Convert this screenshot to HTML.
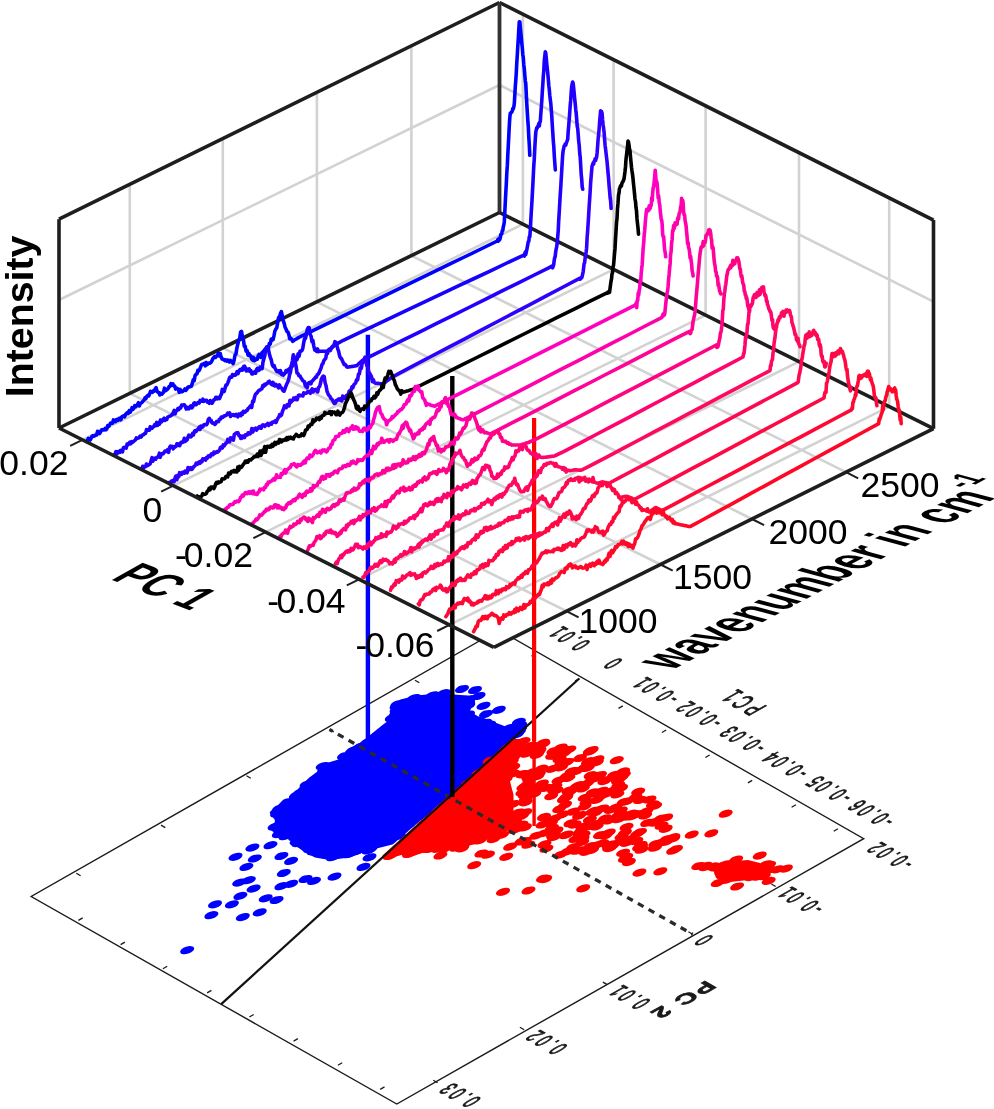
<!DOCTYPE html>
<html><head><meta charset="utf-8"><style>html,body{margin:0;padding:0;background:#fff;overflow:hidden}svg{display:block;will-change:transform}</style></head>
<body><svg width="994" height="1109" viewBox="0 0 994 1109" font-family="Liberation Sans, sans-serif">
<rect width="994" height="1109" fill="#fff"/>
<g>
<polygon points="498.7,630.0 863.7,838.7 396.8,1104.0 31.2,896.5" fill="#fff" stroke="#1a1a1a" stroke-width="1.4"/>
<line x1="535.8" y1="653.6" x2="531.5" y2="656.1" stroke="#1a1a1a" stroke-width="1.3" />
<line x1="579.3" y1="678.5" x2="575.0" y2="681.0" stroke="#1a1a1a" stroke-width="1.3" />
<line x1="622.8" y1="705.9" x2="618.5" y2="708.4" stroke="#1a1a1a" stroke-width="1.3" />
<line x1="666.2" y1="730.0" x2="661.9" y2="732.5" stroke="#1a1a1a" stroke-width="1.3" />
<line x1="709.7" y1="755.0" x2="705.4" y2="757.5" stroke="#1a1a1a" stroke-width="1.3" />
<line x1="752.2" y1="780.4" x2="747.9" y2="782.9" stroke="#1a1a1a" stroke-width="1.3" />
<line x1="795.9" y1="804.7" x2="791.6" y2="807.2" stroke="#1a1a1a" stroke-width="1.3" />
<line x1="838.0" y1="828.7" x2="833.7" y2="831.2" stroke="#1a1a1a" stroke-width="1.3" />
<line x1="78.4" y1="920.4" x2="82.7" y2="917.9" stroke="#1a1a1a" stroke-width="1.3" />
<line x1="120.6" y1="944.6" x2="124.9" y2="942.1" stroke="#1a1a1a" stroke-width="1.3" />
<line x1="162.9" y1="968.7" x2="167.2" y2="966.2" stroke="#1a1a1a" stroke-width="1.3" />
<line x1="207.1" y1="992.9" x2="211.4" y2="990.4" stroke="#1a1a1a" stroke-width="1.3" />
<line x1="249.4" y1="1017.0" x2="253.7" y2="1014.5" stroke="#1a1a1a" stroke-width="1.3" />
<line x1="293.6" y1="1041.1" x2="297.9" y2="1038.6" stroke="#1a1a1a" stroke-width="1.3" />
<line x1="337.9" y1="1065.3" x2="342.2" y2="1062.8" stroke="#1a1a1a" stroke-width="1.3" />
<line x1="380.2" y1="1089.4" x2="384.5" y2="1086.9" stroke="#1a1a1a" stroke-width="1.3" />
<line x1="76.3" y1="873.3" x2="80.6" y2="875.8" stroke="#1a1a1a" stroke-width="1.3" />
<line x1="161.0" y1="825.1" x2="165.3" y2="827.6" stroke="#1a1a1a" stroke-width="1.3" />
<line x1="246.5" y1="775.8" x2="250.8" y2="778.3" stroke="#1a1a1a" stroke-width="1.3" />
<line x1="329.5" y1="729.5" x2="333.8" y2="732.0" stroke="#1a1a1a" stroke-width="1.3" />
<line x1="415.0" y1="680.2" x2="419.3" y2="682.7" stroke="#1a1a1a" stroke-width="1.3" />
<line x1="775.7" y1="886.5" x2="771.4" y2="884.0" stroke="#1a1a1a" stroke-width="1.3" />
<line x1="692.7" y1="934.3" x2="688.4" y2="931.8" stroke="#1a1a1a" stroke-width="1.3" />
<line x1="607.2" y1="984.6" x2="602.9" y2="982.1" stroke="#1a1a1a" stroke-width="1.3" />
<line x1="524.2" y1="1029.8" x2="519.9" y2="1027.3" stroke="#1a1a1a" stroke-width="1.3" />
<line x1="437.6" y1="1082.7" x2="433.3" y2="1080.2" stroke="#1a1a1a" stroke-width="1.3" />
<polygon points="400.8,701.0 417.0,697.0 437.0,695.0 453.2,696.0 468.0,697.0 472.0,702.0 468.0,712.0 478.0,718.0 492.0,723.0 505.0,728.0 521.0,732.0 525.5,728.0 392.0,843.0 368.3,849.0 349.0,856.0 329.7,858.5 315.2,856.0 305.5,851.0 296.0,844.0 293.5,834.0 281.4,838.0 272.7,829.5 277.6,821.0 271.3,812.6 286.2,804.7 296.2,794.7 300.2,788.7 310.3,778.6 318.3,772.6 320.4,766.5 340.5,760.5 354.6,758.5 362.0,755.5 352.6,753.4 350.0,749.4 360.6,744.4 370.7,736.3 384.7,725.3 388.8,722.3 398.8,712.2 398.8,706.2" fill="#0000ff" stroke="#0000ff" stroke-width="3" stroke-linejoin="round"/>
<ellipse cx="469.5" cy="699.2" rx="7.3" ry="3.6" transform="rotate(-18 469.5 699.2)" fill="#0000ff"/>
<ellipse cx="438.8" cy="797.4" rx="7.3" ry="3.6" transform="rotate(-18 438.8 797.4)" fill="#0000ff"/>
<ellipse cx="507.2" cy="741.6" rx="7.3" ry="3.6" transform="rotate(-18 507.2 741.6)" fill="#0000ff"/>
<ellipse cx="277.1" cy="813.5" rx="7.3" ry="3.6" transform="rotate(-18 277.1 813.5)" fill="#0000ff"/>
<ellipse cx="306.6" cy="784.3" rx="7.3" ry="3.6" transform="rotate(-18 306.6 784.3)" fill="#0000ff"/>
<ellipse cx="453.2" cy="787.1" rx="7.3" ry="3.6" transform="rotate(-18 453.2 787.1)" fill="#0000ff"/>
<ellipse cx="387.1" cy="840.9" rx="7.3" ry="3.6" transform="rotate(-18 387.1 840.9)" fill="#0000ff"/>
<ellipse cx="479.3" cy="764.3" rx="7.3" ry="3.6" transform="rotate(-18 479.3 764.3)" fill="#0000ff"/>
<ellipse cx="490.6" cy="751.5" rx="7.3" ry="3.6" transform="rotate(-18 490.6 751.5)" fill="#0000ff"/>
<ellipse cx="382.3" cy="732.8" rx="7.3" ry="3.6" transform="rotate(-18 382.3 732.8)" fill="#0000ff"/>
<ellipse cx="312.5" cy="781.4" rx="7.3" ry="3.6" transform="rotate(-18 312.5 781.4)" fill="#0000ff"/>
<ellipse cx="300.0" cy="792.4" rx="7.3" ry="3.6" transform="rotate(-18 300.0 792.4)" fill="#0000ff"/>
<ellipse cx="291.0" cy="803.8" rx="7.3" ry="3.6" transform="rotate(-18 291.0 803.8)" fill="#0000ff"/>
<ellipse cx="367.9" cy="743.3" rx="7.3" ry="3.6" transform="rotate(-18 367.9 743.3)" fill="#0000ff"/>
<ellipse cx="399.5" cy="719.0" rx="7.3" ry="3.6" transform="rotate(-18 399.5 719.0)" fill="#0000ff"/>
<ellipse cx="419.8" cy="699.2" rx="7.3" ry="3.6" transform="rotate(-18 419.8 699.2)" fill="#0000ff"/>
<ellipse cx="391.2" cy="839.1" rx="7.3" ry="3.6" transform="rotate(-18 391.2 839.1)" fill="#0000ff"/>
<ellipse cx="497.4" cy="751.8" rx="7.3" ry="3.6" transform="rotate(-18 497.4 751.8)" fill="#0000ff"/>
<ellipse cx="465.5" cy="701.7" rx="7.3" ry="3.6" transform="rotate(-18 465.5 701.7)" fill="#0000ff"/>
<ellipse cx="398.8" cy="836.2" rx="7.3" ry="3.6" transform="rotate(-18 398.8 836.2)" fill="#0000ff"/>
<ellipse cx="280.3" cy="823.3" rx="7.3" ry="3.6" transform="rotate(-18 280.3 823.3)" fill="#0000ff"/>
<ellipse cx="295.1" cy="837.0" rx="7.3" ry="3.6" transform="rotate(-18 295.1 837.0)" fill="#0000ff"/>
<ellipse cx="458.9" cy="701.6" rx="7.3" ry="3.6" transform="rotate(-18 458.9 701.6)" fill="#0000ff"/>
<ellipse cx="368.6" cy="850.4" rx="7.3" ry="3.6" transform="rotate(-18 368.6 850.4)" fill="#0000ff"/>
<ellipse cx="367.5" cy="841.6" rx="7.3" ry="3.6" transform="rotate(-18 367.5 841.6)" fill="#0000ff"/>
<ellipse cx="400.1" cy="708.8" rx="7.3" ry="3.6" transform="rotate(-18 400.1 708.8)" fill="#0000ff"/>
<ellipse cx="378.7" cy="736.4" rx="7.3" ry="3.6" transform="rotate(-18 378.7 736.4)" fill="#0000ff"/>
<ellipse cx="427.3" cy="800.4" rx="7.3" ry="3.6" transform="rotate(-18 427.3 800.4)" fill="#0000ff"/>
<ellipse cx="468.2" cy="702.9" rx="7.3" ry="3.6" transform="rotate(-18 468.2 702.9)" fill="#0000ff"/>
<ellipse cx="397.9" cy="711.6" rx="7.3" ry="3.6" transform="rotate(-18 397.9 711.6)" fill="#0000ff"/>
<ellipse cx="391.8" cy="717.9" rx="7.3" ry="3.6" transform="rotate(-18 391.8 717.9)" fill="#0000ff"/>
<ellipse cx="284.9" cy="804.6" rx="7.3" ry="3.6" transform="rotate(-18 284.9 804.6)" fill="#0000ff"/>
<ellipse cx="381.3" cy="842.1" rx="7.3" ry="3.6" transform="rotate(-18 381.3 842.1)" fill="#0000ff"/>
<ellipse cx="280.6" cy="833.1" rx="7.3" ry="3.6" transform="rotate(-18 280.6 833.1)" fill="#0000ff"/>
<ellipse cx="489.1" cy="724.7" rx="7.3" ry="3.6" transform="rotate(-18 489.1 724.7)" fill="#0000ff"/>
<ellipse cx="274.6" cy="826.6" rx="7.3" ry="3.6" transform="rotate(-18 274.6 826.6)" fill="#0000ff"/>
<ellipse cx="348.7" cy="760.5" rx="7.3" ry="3.6" transform="rotate(-18 348.7 760.5)" fill="#0000ff"/>
<ellipse cx="390.3" cy="840.4" rx="7.3" ry="3.6" transform="rotate(-18 390.3 840.4)" fill="#0000ff"/>
<ellipse cx="480.3" cy="765.4" rx="7.3" ry="3.6" transform="rotate(-18 480.3 765.4)" fill="#0000ff"/>
<ellipse cx="300.6" cy="838.6" rx="7.3" ry="3.6" transform="rotate(-18 300.6 838.6)" fill="#0000ff"/>
<ellipse cx="295.9" cy="795.5" rx="7.3" ry="3.6" transform="rotate(-18 295.9 795.5)" fill="#0000ff"/>
<ellipse cx="448.8" cy="791.3" rx="7.3" ry="3.6" transform="rotate(-18 448.8 791.3)" fill="#0000ff"/>
<ellipse cx="398.2" cy="714.7" rx="7.3" ry="3.6" transform="rotate(-18 398.2 714.7)" fill="#0000ff"/>
<ellipse cx="466.3" cy="778.2" rx="7.3" ry="3.6" transform="rotate(-18 466.3 778.2)" fill="#0000ff"/>
<ellipse cx="467.6" cy="704.2" rx="7.3" ry="3.6" transform="rotate(-18 467.6 704.2)" fill="#0000ff"/>
<ellipse cx="520.2" cy="725.6" rx="7.3" ry="3.6" transform="rotate(-18 520.2 725.6)" fill="#0000ff"/>
<ellipse cx="327.4" cy="854.2" rx="7.3" ry="3.6" transform="rotate(-18 327.4 854.2)" fill="#0000ff"/>
<ellipse cx="413.8" cy="702.2" rx="7.3" ry="3.6" transform="rotate(-18 413.8 702.2)" fill="#0000ff"/>
<ellipse cx="395.9" cy="713.8" rx="7.3" ry="3.6" transform="rotate(-18 395.9 713.8)" fill="#0000ff"/>
<ellipse cx="456.9" cy="786.3" rx="7.3" ry="3.6" transform="rotate(-18 456.9 786.3)" fill="#0000ff"/>
<ellipse cx="343.0" cy="762.7" rx="7.3" ry="3.6" transform="rotate(-18 343.0 762.7)" fill="#0000ff"/>
<ellipse cx="448.4" cy="701.0" rx="7.3" ry="3.6" transform="rotate(-18 448.4 701.0)" fill="#0000ff"/>
<ellipse cx="356.5" cy="851.4" rx="7.3" ry="3.6" transform="rotate(-18 356.5 851.4)" fill="#0000ff"/>
<ellipse cx="357.7" cy="761.3" rx="7.3" ry="3.6" transform="rotate(-18 357.7 761.3)" fill="#0000ff"/>
<ellipse cx="320.8" cy="775.6" rx="7.3" ry="3.6" transform="rotate(-18 320.8 775.6)" fill="#0000ff"/>
<ellipse cx="296.6" cy="841.3" rx="7.3" ry="3.6" transform="rotate(-18 296.6 841.3)" fill="#0000ff"/>
<ellipse cx="483.0" cy="759.6" rx="7.3" ry="3.6" transform="rotate(-18 483.0 759.6)" fill="#0000ff"/>
<ellipse cx="358.6" cy="764.6" rx="7.3" ry="3.6" transform="rotate(-18 358.6 764.6)" fill="#0000ff"/>
<ellipse cx="400.9" cy="831.4" rx="7.3" ry="3.6" transform="rotate(-18 400.9 831.4)" fill="#0000ff"/>
<ellipse cx="443.9" cy="693.2" rx="7.3" ry="3.6" transform="rotate(-18 443.9 693.2)" fill="#0000ff"/>
<ellipse cx="453.5" cy="699.3" rx="7.3" ry="3.6" transform="rotate(-18 453.5 699.3)" fill="#0000ff"/>
<ellipse cx="468.3" cy="705.6" rx="7.3" ry="3.6" transform="rotate(-18 468.3 705.6)" fill="#0000ff"/>
<ellipse cx="480.8" cy="722.4" rx="7.3" ry="3.6" transform="rotate(-18 480.8 722.4)" fill="#0000ff"/>
<ellipse cx="301.8" cy="841.8" rx="7.3" ry="3.6" transform="rotate(-18 301.8 841.8)" fill="#0000ff"/>
<ellipse cx="366.0" cy="748.5" rx="7.3" ry="3.6" transform="rotate(-18 366.0 748.5)" fill="#0000ff"/>
<ellipse cx="279.2" cy="808.3" rx="7.3" ry="3.6" transform="rotate(-18 279.2 808.3)" fill="#0000ff"/>
<ellipse cx="356.4" cy="760.6" rx="7.3" ry="3.6" transform="rotate(-18 356.4 760.6)" fill="#0000ff"/>
<ellipse cx="333.0" cy="857.2" rx="7.3" ry="3.6" transform="rotate(-18 333.0 857.2)" fill="#0000ff"/>
<ellipse cx="408.2" cy="825.4" rx="7.3" ry="3.6" transform="rotate(-18 408.2 825.4)" fill="#0000ff"/>
<ellipse cx="281.7" cy="819.7" rx="7.3" ry="3.6" transform="rotate(-18 281.7 819.7)" fill="#0000ff"/>
<ellipse cx="478.0" cy="721.9" rx="7.3" ry="3.6" transform="rotate(-18 478.0 721.9)" fill="#0000ff"/>
<ellipse cx="314.0" cy="783.8" rx="7.3" ry="3.6" transform="rotate(-18 314.0 783.8)" fill="#0000ff"/>
<ellipse cx="452.9" cy="786.0" rx="7.3" ry="3.6" transform="rotate(-18 452.9 786.0)" fill="#0000ff"/>
<ellipse cx="471.2" cy="722.7" rx="7.3" ry="3.6" transform="rotate(-18 471.2 722.7)" fill="#0000ff"/>
<ellipse cx="310.2" cy="848.9" rx="7.3" ry="3.6" transform="rotate(-18 310.2 848.9)" fill="#0000ff"/>
<ellipse cx="467.3" cy="772.5" rx="7.3" ry="3.6" transform="rotate(-18 467.3 772.5)" fill="#0000ff"/>
<ellipse cx="417.5" cy="817.6" rx="7.3" ry="3.6" transform="rotate(-18 417.5 817.6)" fill="#0000ff"/>
<ellipse cx="436.8" cy="799.0" rx="7.3" ry="3.6" transform="rotate(-18 436.8 799.0)" fill="#0000ff"/>
<ellipse cx="429.1" cy="699.5" rx="7.3" ry="3.6" transform="rotate(-18 429.1 699.5)" fill="#0000ff"/>
<ellipse cx="298.2" cy="843.1" rx="7.3" ry="3.6" transform="rotate(-18 298.2 843.1)" fill="#0000ff"/>
<ellipse cx="278.8" cy="834.1" rx="7.3" ry="3.6" transform="rotate(-18 278.8 834.1)" fill="#0000ff"/>
<ellipse cx="424.1" cy="810.2" rx="7.3" ry="3.6" transform="rotate(-18 424.1 810.2)" fill="#0000ff"/>
<ellipse cx="421.5" cy="699.8" rx="7.3" ry="3.6" transform="rotate(-18 421.5 699.8)" fill="#0000ff"/>
<ellipse cx="285.5" cy="836.2" rx="7.3" ry="3.6" transform="rotate(-18 285.5 836.2)" fill="#0000ff"/>
<ellipse cx="447.9" cy="789.3" rx="7.3" ry="3.6" transform="rotate(-18 447.9 789.3)" fill="#0000ff"/>
<ellipse cx="468.0" cy="714.5" rx="7.3" ry="3.6" transform="rotate(-18 468.0 714.5)" fill="#0000ff"/>
<ellipse cx="429.1" cy="698.8" rx="7.3" ry="3.6" transform="rotate(-18 429.1 698.8)" fill="#0000ff"/>
<ellipse cx="350.5" cy="762.2" rx="7.3" ry="3.6" transform="rotate(-18 350.5 762.2)" fill="#0000ff"/>
<ellipse cx="352.2" cy="753.0" rx="7.3" ry="3.6" transform="rotate(-18 352.2 753.0)" fill="#0000ff"/>
<ellipse cx="283.2" cy="807.2" rx="7.3" ry="3.6" transform="rotate(-18 283.2 807.2)" fill="#0000ff"/>
<ellipse cx="370.5" cy="849.1" rx="7.3" ry="3.6" transform="rotate(-18 370.5 849.1)" fill="#0000ff"/>
<ellipse cx="452.5" cy="789.2" rx="7.3" ry="3.6" transform="rotate(-18 452.5 789.2)" fill="#0000ff"/>
<ellipse cx="383.4" cy="733.6" rx="7.3" ry="3.6" transform="rotate(-18 383.4 733.6)" fill="#0000ff"/>
<ellipse cx="413.9" cy="698.1" rx="7.3" ry="3.6" transform="rotate(-18 413.9 698.1)" fill="#0000ff"/>
<ellipse cx="322.0" cy="776.8" rx="7.3" ry="3.6" transform="rotate(-18 322.0 776.8)" fill="#0000ff"/>
<ellipse cx="518.9" cy="732.0" rx="7.3" ry="3.6" transform="rotate(-18 518.9 732.0)" fill="#0000ff"/>
<ellipse cx="374.6" cy="842.3" rx="7.3" ry="3.6" transform="rotate(-18 374.6 842.3)" fill="#0000ff"/>
<ellipse cx="350.6" cy="761.5" rx="7.3" ry="3.6" transform="rotate(-18 350.6 761.5)" fill="#0000ff"/>
<ellipse cx="373.6" cy="844.9" rx="7.3" ry="3.6" transform="rotate(-18 373.6 844.9)" fill="#0000ff"/>
<ellipse cx="313.6" cy="851.3" rx="7.3" ry="3.6" transform="rotate(-18 313.6 851.3)" fill="#0000ff"/>
<ellipse cx="407.6" cy="824.6" rx="7.3" ry="3.6" transform="rotate(-18 407.6 824.6)" fill="#0000ff"/>
<ellipse cx="471.1" cy="721.7" rx="7.3" ry="3.6" transform="rotate(-18 471.1 721.7)" fill="#0000ff"/>
<ellipse cx="360.8" cy="749.4" rx="7.3" ry="3.6" transform="rotate(-18 360.8 749.4)" fill="#0000ff"/>
<ellipse cx="396.6" cy="706.2" rx="7.3" ry="3.6" transform="rotate(-18 396.6 706.2)" fill="#0000ff"/>
<ellipse cx="449.4" cy="783.7" rx="7.3" ry="3.6" transform="rotate(-18 449.4 783.7)" fill="#0000ff"/>
<ellipse cx="333.9" cy="767.2" rx="7.3" ry="3.6" transform="rotate(-18 333.9 767.2)" fill="#0000ff"/>
<ellipse cx="442.9" cy="695.2" rx="7.3" ry="3.6" transform="rotate(-18 442.9 695.2)" fill="#0000ff"/>
<ellipse cx="485.2" cy="722.8" rx="7.3" ry="3.6" transform="rotate(-18 485.2 722.8)" fill="#0000ff"/>
<ellipse cx="340.7" cy="768.5" rx="7.3" ry="3.6" transform="rotate(-18 340.7 768.5)" fill="#0000ff"/>
<ellipse cx="399.6" cy="706.6" rx="7.3" ry="3.6" transform="rotate(-18 399.6 706.6)" fill="#0000ff"/>
<ellipse cx="507.0" cy="740.0" rx="7.3" ry="3.6" transform="rotate(-18 507.0 740.0)" fill="#0000ff"/>
<ellipse cx="434.6" cy="799.3" rx="7.3" ry="3.6" transform="rotate(-18 434.6 799.3)" fill="#0000ff"/>
<ellipse cx="299.5" cy="838.5" rx="7.3" ry="3.6" transform="rotate(-18 299.5 838.5)" fill="#0000ff"/>
<ellipse cx="425.5" cy="813.5" rx="7.3" ry="3.6" transform="rotate(-18 425.5 813.5)" fill="#0000ff"/>
<ellipse cx="390.9" cy="838.8" rx="7.3" ry="3.6" transform="rotate(-18 390.9 838.8)" fill="#0000ff"/>
<ellipse cx="517.0" cy="734.4" rx="7.3" ry="3.6" transform="rotate(-18 517.0 734.4)" fill="#0000ff"/>
<ellipse cx="485.2" cy="759.2" rx="7.3" ry="3.6" transform="rotate(-18 485.2 759.2)" fill="#0000ff"/>
<ellipse cx="303.5" cy="843.8" rx="7.3" ry="3.6" transform="rotate(-18 303.5 843.8)" fill="#0000ff"/>
<ellipse cx="355.8" cy="751.3" rx="7.3" ry="3.6" transform="rotate(-18 355.8 751.3)" fill="#0000ff"/>
<ellipse cx="484.0" cy="764.1" rx="7.3" ry="3.6" transform="rotate(-18 484.0 764.1)" fill="#0000ff"/>
<ellipse cx="379.6" cy="839.7" rx="7.3" ry="3.6" transform="rotate(-18 379.6 839.7)" fill="#0000ff"/>
<ellipse cx="467.7" cy="703.3" rx="7.3" ry="3.6" transform="rotate(-18 467.7 703.3)" fill="#0000ff"/>
<ellipse cx="494.3" cy="754.5" rx="7.3" ry="3.6" transform="rotate(-18 494.3 754.5)" fill="#0000ff"/>
<ellipse cx="398.8" cy="709.6" rx="7.3" ry="3.6" transform="rotate(-18 398.8 709.6)" fill="#0000ff"/>
<ellipse cx="510.9" cy="734.3" rx="7.3" ry="3.6" transform="rotate(-18 510.9 734.3)" fill="#0000ff"/>
<ellipse cx="278.1" cy="810.2" rx="7.3" ry="3.6" transform="rotate(-18 278.1 810.2)" fill="#0000ff"/>
<ellipse cx="280.7" cy="830.7" rx="7.3" ry="3.6" transform="rotate(-18 280.7 830.7)" fill="#0000ff"/>
<ellipse cx="346.9" cy="761.8" rx="7.3" ry="3.6" transform="rotate(-18 346.9 761.8)" fill="#0000ff"/>
<ellipse cx="287.0" cy="833.1" rx="7.3" ry="3.6" transform="rotate(-18 287.0 833.1)" fill="#0000ff"/>
<ellipse cx="338.7" cy="765.1" rx="7.3" ry="3.6" transform="rotate(-18 338.7 765.1)" fill="#0000ff"/>
<ellipse cx="419.3" cy="815.9" rx="7.3" ry="3.6" transform="rotate(-18 419.3 815.9)" fill="#0000ff"/>
<ellipse cx="432.4" cy="695.3" rx="7.3" ry="3.6" transform="rotate(-18 432.4 695.3)" fill="#0000ff"/>
<ellipse cx="328.5" cy="768.4" rx="7.3" ry="3.6" transform="rotate(-18 328.5 768.4)" fill="#0000ff"/>
<ellipse cx="295.1" cy="799.1" rx="7.3" ry="3.6" transform="rotate(-18 295.1 799.1)" fill="#0000ff"/>
<ellipse cx="414.8" cy="816.5" rx="7.3" ry="3.6" transform="rotate(-18 414.8 816.5)" fill="#0000ff"/>
<ellipse cx="366.9" cy="742.5" rx="7.3" ry="3.6" transform="rotate(-18 366.9 742.5)" fill="#0000ff"/>
<ellipse cx="400.9" cy="829.2" rx="7.3" ry="3.6" transform="rotate(-18 400.9 829.2)" fill="#0000ff"/>
<ellipse cx="396.6" cy="709.9" rx="7.3" ry="3.6" transform="rotate(-18 396.6 709.9)" fill="#0000ff"/>
<ellipse cx="397.4" cy="704.1" rx="7.3" ry="3.6" transform="rotate(-18 397.4 704.1)" fill="#0000ff"/>
<ellipse cx="441.4" cy="798.3" rx="7.3" ry="3.6" transform="rotate(-18 441.4 798.3)" fill="#0000ff"/>
<ellipse cx="517.8" cy="730.3" rx="7.3" ry="3.6" transform="rotate(-18 517.8 730.3)" fill="#0000ff"/>
<ellipse cx="435.4" cy="696.5" rx="7.3" ry="3.6" transform="rotate(-18 435.4 696.5)" fill="#0000ff"/>
<ellipse cx="360.4" cy="748.6" rx="7.3" ry="3.6" transform="rotate(-18 360.4 748.6)" fill="#0000ff"/>
<ellipse cx="454.2" cy="787.3" rx="7.3" ry="3.6" transform="rotate(-18 454.2 787.3)" fill="#0000ff"/>
<ellipse cx="355.5" cy="754.6" rx="7.3" ry="3.6" transform="rotate(-18 355.5 754.6)" fill="#0000ff"/>
<ellipse cx="426.6" cy="808.2" rx="7.3" ry="3.6" transform="rotate(-18 426.6 808.2)" fill="#0000ff"/>
<ellipse cx="349.0" cy="854.2" rx="7.3" ry="3.6" transform="rotate(-18 349.0 854.2)" fill="#0000ff"/>
<ellipse cx="360.4" cy="746.4" rx="7.3" ry="3.6" transform="rotate(-18 360.4 746.4)" fill="#0000ff"/>
<ellipse cx="399.0" cy="708.1" rx="7.3" ry="3.6" transform="rotate(-18 399.0 708.1)" fill="#0000ff"/>
<ellipse cx="416.6" cy="816.4" rx="7.3" ry="3.6" transform="rotate(-18 416.6 816.4)" fill="#0000ff"/>
<ellipse cx="287.3" cy="802.0" rx="7.3" ry="3.6" transform="rotate(-18 287.3 802.0)" fill="#0000ff"/>
<ellipse cx="489.8" cy="755.7" rx="7.3" ry="3.6" transform="rotate(-18 489.8 755.7)" fill="#0000ff"/>
<ellipse cx="477.5" cy="722.7" rx="7.3" ry="3.6" transform="rotate(-18 477.5 722.7)" fill="#0000ff"/>
<ellipse cx="509.6" cy="727.9" rx="7.3" ry="3.6" transform="rotate(-18 509.6 727.9)" fill="#0000ff"/>
<ellipse cx="465.5" cy="701.5" rx="7.3" ry="3.6" transform="rotate(-18 465.5 701.5)" fill="#0000ff"/>
<ellipse cx="402.9" cy="827.4" rx="7.3" ry="3.6" transform="rotate(-18 402.9 827.4)" fill="#0000ff"/>
<ellipse cx="322.7" cy="766.1" rx="7.3" ry="3.6" transform="rotate(-18 322.7 766.1)" fill="#0000ff"/>
<ellipse cx="363.9" cy="756.6" rx="7.3" ry="3.6" transform="rotate(-18 363.9 756.6)" fill="#0000ff"/>
<ellipse cx="278.1" cy="825.1" rx="7.3" ry="3.6" transform="rotate(-18 278.1 825.1)" fill="#0000ff"/>
<ellipse cx="358.1" cy="844.9" rx="7.3" ry="3.6" transform="rotate(-18 358.1 844.9)" fill="#0000ff"/>
<ellipse cx="235.5" cy="856.8" rx="7.3" ry="3.6" transform="rotate(-18 235.5 856.8)" fill="#0000ff"/>
<ellipse cx="246.4" cy="866.9" rx="7.3" ry="3.6" transform="rotate(-18 246.4 866.9)" fill="#0000ff"/>
<ellipse cx="239.2" cy="882.6" rx="7.3" ry="3.6" transform="rotate(-18 239.2 882.6)" fill="#0000ff"/>
<ellipse cx="248.8" cy="880.2" rx="7.3" ry="3.6" transform="rotate(-18 248.8 880.2)" fill="#0000ff"/>
<ellipse cx="253.6" cy="888.6" rx="7.3" ry="3.6" transform="rotate(-18 253.6 888.6)" fill="#0000ff"/>
<ellipse cx="240.4" cy="895.9" rx="7.3" ry="3.6" transform="rotate(-18 240.4 895.9)" fill="#0000ff"/>
<ellipse cx="231.9" cy="904.3" rx="7.3" ry="3.6" transform="rotate(-18 231.9 904.3)" fill="#0000ff"/>
<ellipse cx="215.0" cy="904.3" rx="7.3" ry="3.6" transform="rotate(-18 215.0 904.3)" fill="#0000ff"/>
<ellipse cx="211.4" cy="915.2" rx="7.3" ry="3.6" transform="rotate(-18 211.4 915.2)" fill="#0000ff"/>
<ellipse cx="242.8" cy="917.1" rx="7.3" ry="3.6" transform="rotate(-18 242.8 917.1)" fill="#0000ff"/>
<ellipse cx="259.7" cy="912.3" rx="7.3" ry="3.6" transform="rotate(-18 259.7 912.3)" fill="#0000ff"/>
<ellipse cx="265.7" cy="898.3" rx="7.3" ry="3.6" transform="rotate(-18 265.7 898.3)" fill="#0000ff"/>
<ellipse cx="276.6" cy="900.0" rx="7.3" ry="3.6" transform="rotate(-18 276.6 900.0)" fill="#0000ff"/>
<ellipse cx="281.4" cy="886.2" rx="7.3" ry="3.6" transform="rotate(-18 281.4 886.2)" fill="#0000ff"/>
<ellipse cx="291.1" cy="883.8" rx="7.3" ry="3.6" transform="rotate(-18 291.1 883.8)" fill="#0000ff"/>
<ellipse cx="283.8" cy="873.0" rx="7.3" ry="3.6" transform="rotate(-18 283.8 873.0)" fill="#0000ff"/>
<ellipse cx="305.5" cy="879.0" rx="7.3" ry="3.6" transform="rotate(-18 305.5 879.0)" fill="#0000ff"/>
<ellipse cx="314.0" cy="880.9" rx="7.3" ry="3.6" transform="rotate(-18 314.0 880.9)" fill="#0000ff"/>
<ellipse cx="334.5" cy="876.6" rx="7.3" ry="3.6" transform="rotate(-18 334.5 876.6)" fill="#0000ff"/>
<ellipse cx="363.5" cy="866.9" rx="7.3" ry="3.6" transform="rotate(-18 363.5 866.9)" fill="#0000ff"/>
<ellipse cx="369.5" cy="857.3" rx="7.3" ry="3.6" transform="rotate(-18 369.5 857.3)" fill="#0000ff"/>
<ellipse cx="187.2" cy="950.2" rx="7.3" ry="3.6" transform="rotate(-18 187.2 950.2)" fill="#0000ff"/>
<ellipse cx="252.4" cy="847.6" rx="7.3" ry="3.6" transform="rotate(-18 252.4 847.6)" fill="#0000ff"/>
<ellipse cx="254.8" cy="858.5" rx="7.3" ry="3.6" transform="rotate(-18 254.8 858.5)" fill="#0000ff"/>
<ellipse cx="270.5" cy="845.2" rx="7.3" ry="3.6" transform="rotate(-18 270.5 845.2)" fill="#0000ff"/>
<ellipse cx="281.4" cy="856.0" rx="7.3" ry="3.6" transform="rotate(-18 281.4 856.0)" fill="#0000ff"/>
<ellipse cx="291.1" cy="860.9" rx="7.3" ry="3.6" transform="rotate(-18 291.1 860.9)" fill="#0000ff"/>
<ellipse cx="478.6" cy="696.0" rx="7.3" ry="3.6" transform="rotate(-18 478.6 696.0)" fill="#0000ff"/>
<ellipse cx="483.5" cy="705.8" rx="7.3" ry="3.6" transform="rotate(-18 483.5 705.8)" fill="#0000ff"/>
<ellipse cx="498.8" cy="709.8" rx="7.3" ry="3.6" transform="rotate(-18 498.8 709.8)" fill="#0000ff"/>
<ellipse cx="518.9" cy="721.9" rx="7.3" ry="3.6" transform="rotate(-18 518.9 721.9)" fill="#0000ff"/>
<ellipse cx="506.0" cy="730.7" rx="7.3" ry="3.6" transform="rotate(-18 506.0 730.7)" fill="#0000ff"/>
<ellipse cx="462.0" cy="689.0" rx="7.3" ry="3.6" transform="rotate(-18 462.0 689.0)" fill="#0000ff"/>
<ellipse cx="475.0" cy="690.0" rx="7.3" ry="3.6" transform="rotate(-18 475.0 690.0)" fill="#0000ff"/>
<ellipse cx="486.0" cy="714.0" rx="7.3" ry="3.6" transform="rotate(-18 486.0 714.0)" fill="#0000ff"/>
<ellipse cx="352.0" cy="751.0" rx="7.3" ry="3.6" transform="rotate(-18 352.0 751.0)" fill="#0000ff"/>
<ellipse cx="344.0" cy="756.0" rx="7.3" ry="3.6" transform="rotate(-18 344.0 756.0)" fill="#0000ff"/>
<line x1="367.9" y1="730" x2="367.9" y2="760" stroke="#0000ff" stroke-width="3.6"/>
<polygon points="511.7,740.5 526.0,740.5 522.0,752.0 512.0,766.0 508.0,780.0 512.0,795.0 512.0,812.0 500.0,832.0 478.0,842.0 450.0,848.0 420.0,851.0 384.0,856.0" fill="#ff0000" stroke="#ff0000" stroke-width="3" stroke-linejoin="round"/>
<polygon points="712.0,866.0 722.0,862.0 735.0,861.0 748.0,860.0 760.0,863.0 766.0,868.0 762.0,876.0 748.0,880.0 730.0,882.0 716.0,878.0" fill="#ff0000"/>
<ellipse cx="527.1" cy="784.1" rx="7.3" ry="3.6" transform="rotate(-18 527.1 784.1)" fill="#ff0000"/>
<ellipse cx="427.0" cy="842.6" rx="7.3" ry="3.6" transform="rotate(-18 427.0 842.6)" fill="#ff0000"/>
<ellipse cx="463.5" cy="819.7" rx="7.3" ry="3.6" transform="rotate(-18 463.5 819.7)" fill="#ff0000"/>
<ellipse cx="460.3" cy="829.2" rx="7.3" ry="3.6" transform="rotate(-18 460.3 829.2)" fill="#ff0000"/>
<ellipse cx="435.0" cy="822.1" rx="7.3" ry="3.6" transform="rotate(-18 435.0 822.1)" fill="#ff0000"/>
<ellipse cx="508.1" cy="747.0" rx="7.3" ry="3.6" transform="rotate(-18 508.1 747.0)" fill="#ff0000"/>
<ellipse cx="502.0" cy="834.9" rx="7.3" ry="3.6" transform="rotate(-18 502.0 834.9)" fill="#ff0000"/>
<ellipse cx="493.9" cy="768.9" rx="7.3" ry="3.6" transform="rotate(-18 493.9 768.9)" fill="#ff0000"/>
<ellipse cx="487.6" cy="784.0" rx="7.3" ry="3.6" transform="rotate(-18 487.6 784.0)" fill="#ff0000"/>
<ellipse cx="486.6" cy="770.3" rx="7.3" ry="3.6" transform="rotate(-18 486.6 770.3)" fill="#ff0000"/>
<ellipse cx="460.7" cy="801.1" rx="7.3" ry="3.6" transform="rotate(-18 460.7 801.1)" fill="#ff0000"/>
<ellipse cx="538.9" cy="773.9" rx="7.3" ry="3.6" transform="rotate(-18 538.9 773.9)" fill="#ff0000"/>
<ellipse cx="508.3" cy="822.5" rx="7.3" ry="3.6" transform="rotate(-18 508.3 822.5)" fill="#ff0000"/>
<ellipse cx="435.7" cy="829.2" rx="7.3" ry="3.6" transform="rotate(-18 435.7 829.2)" fill="#ff0000"/>
<ellipse cx="462.6" cy="847.1" rx="7.3" ry="3.6" transform="rotate(-18 462.6 847.1)" fill="#ff0000"/>
<ellipse cx="489.7" cy="812.2" rx="7.3" ry="3.6" transform="rotate(-18 489.7 812.2)" fill="#ff0000"/>
<ellipse cx="507.6" cy="827.2" rx="7.3" ry="3.6" transform="rotate(-18 507.6 827.2)" fill="#ff0000"/>
<ellipse cx="454.5" cy="797.0" rx="7.3" ry="3.6" transform="rotate(-18 454.5 797.0)" fill="#ff0000"/>
<ellipse cx="511.6" cy="761.8" rx="7.3" ry="3.6" transform="rotate(-18 511.6 761.8)" fill="#ff0000"/>
<ellipse cx="483.4" cy="787.4" rx="7.3" ry="3.6" transform="rotate(-18 483.4 787.4)" fill="#ff0000"/>
<ellipse cx="451.2" cy="834.8" rx="7.3" ry="3.6" transform="rotate(-18 451.2 834.8)" fill="#ff0000"/>
<ellipse cx="409.9" cy="847.2" rx="7.3" ry="3.6" transform="rotate(-18 409.9 847.2)" fill="#ff0000"/>
<ellipse cx="480.7" cy="829.7" rx="7.3" ry="3.6" transform="rotate(-18 480.7 829.7)" fill="#ff0000"/>
<ellipse cx="418.4" cy="850.6" rx="7.3" ry="3.6" transform="rotate(-18 418.4 850.6)" fill="#ff0000"/>
<ellipse cx="526.7" cy="753.7" rx="7.3" ry="3.6" transform="rotate(-18 526.7 753.7)" fill="#ff0000"/>
<ellipse cx="491.2" cy="818.9" rx="7.3" ry="3.6" transform="rotate(-18 491.2 818.9)" fill="#ff0000"/>
<ellipse cx="481.9" cy="779.3" rx="7.3" ry="3.6" transform="rotate(-18 481.9 779.3)" fill="#ff0000"/>
<ellipse cx="500.6" cy="820.6" rx="7.3" ry="3.6" transform="rotate(-18 500.6 820.6)" fill="#ff0000"/>
<ellipse cx="451.8" cy="838.8" rx="7.3" ry="3.6" transform="rotate(-18 451.8 838.8)" fill="#ff0000"/>
<ellipse cx="505.6" cy="779.4" rx="7.3" ry="3.6" transform="rotate(-18 505.6 779.4)" fill="#ff0000"/>
<ellipse cx="456.1" cy="847.7" rx="7.3" ry="3.6" transform="rotate(-18 456.1 847.7)" fill="#ff0000"/>
<ellipse cx="428.8" cy="844.3" rx="7.3" ry="3.6" transform="rotate(-18 428.8 844.3)" fill="#ff0000"/>
<ellipse cx="493.6" cy="839.1" rx="7.3" ry="3.6" transform="rotate(-18 493.6 839.1)" fill="#ff0000"/>
<ellipse cx="510.7" cy="768.9" rx="7.3" ry="3.6" transform="rotate(-18 510.7 768.9)" fill="#ff0000"/>
<ellipse cx="494.5" cy="765.0" rx="7.3" ry="3.6" transform="rotate(-18 494.5 765.0)" fill="#ff0000"/>
<ellipse cx="427.1" cy="849.0" rx="7.3" ry="3.6" transform="rotate(-18 427.1 849.0)" fill="#ff0000"/>
<ellipse cx="427.2" cy="821.6" rx="7.3" ry="3.6" transform="rotate(-18 427.2 821.6)" fill="#ff0000"/>
<ellipse cx="520.3" cy="750.2" rx="7.3" ry="3.6" transform="rotate(-18 520.3 750.2)" fill="#ff0000"/>
<ellipse cx="428.2" cy="828.8" rx="7.3" ry="3.6" transform="rotate(-18 428.2 828.8)" fill="#ff0000"/>
<ellipse cx="481.9" cy="776.6" rx="7.3" ry="3.6" transform="rotate(-18 481.9 776.6)" fill="#ff0000"/>
<ellipse cx="485.3" cy="793.0" rx="7.3" ry="3.6" transform="rotate(-18 485.3 793.0)" fill="#ff0000"/>
<ellipse cx="522.8" cy="774.3" rx="7.3" ry="3.6" transform="rotate(-18 522.8 774.3)" fill="#ff0000"/>
<ellipse cx="506.0" cy="813.9" rx="7.3" ry="3.6" transform="rotate(-18 506.0 813.9)" fill="#ff0000"/>
<ellipse cx="503.2" cy="784.2" rx="7.3" ry="3.6" transform="rotate(-18 503.2 784.2)" fill="#ff0000"/>
<ellipse cx="500.7" cy="821.2" rx="7.3" ry="3.6" transform="rotate(-18 500.7 821.2)" fill="#ff0000"/>
<ellipse cx="522.4" cy="792.3" rx="7.3" ry="3.6" transform="rotate(-18 522.4 792.3)" fill="#ff0000"/>
<ellipse cx="532.5" cy="772.0" rx="7.3" ry="3.6" transform="rotate(-18 532.5 772.0)" fill="#ff0000"/>
<ellipse cx="476.1" cy="799.0" rx="7.3" ry="3.6" transform="rotate(-18 476.1 799.0)" fill="#ff0000"/>
<ellipse cx="526.4" cy="795.3" rx="7.3" ry="3.6" transform="rotate(-18 526.4 795.3)" fill="#ff0000"/>
<ellipse cx="513.5" cy="748.2" rx="7.3" ry="3.6" transform="rotate(-18 513.5 748.2)" fill="#ff0000"/>
<ellipse cx="479.8" cy="840.4" rx="7.3" ry="3.6" transform="rotate(-18 479.8 840.4)" fill="#ff0000"/>
<ellipse cx="523.6" cy="741.2" rx="7.3" ry="3.6" transform="rotate(-18 523.6 741.2)" fill="#ff0000"/>
<ellipse cx="468.0" cy="783.1" rx="7.3" ry="3.6" transform="rotate(-18 468.0 783.1)" fill="#ff0000"/>
<ellipse cx="506.4" cy="749.0" rx="7.3" ry="3.6" transform="rotate(-18 506.4 749.0)" fill="#ff0000"/>
<ellipse cx="426.7" cy="834.4" rx="7.3" ry="3.6" transform="rotate(-18 426.7 834.4)" fill="#ff0000"/>
<ellipse cx="459.6" cy="792.8" rx="7.3" ry="3.6" transform="rotate(-18 459.6 792.8)" fill="#ff0000"/>
<ellipse cx="477.3" cy="815.2" rx="7.3" ry="3.6" transform="rotate(-18 477.3 815.2)" fill="#ff0000"/>
<ellipse cx="505.1" cy="808.6" rx="7.3" ry="3.6" transform="rotate(-18 505.1 808.6)" fill="#ff0000"/>
<ellipse cx="513.2" cy="804.1" rx="7.3" ry="3.6" transform="rotate(-18 513.2 804.1)" fill="#ff0000"/>
<ellipse cx="483.7" cy="834.9" rx="7.3" ry="3.6" transform="rotate(-18 483.7 834.9)" fill="#ff0000"/>
<ellipse cx="502.1" cy="787.0" rx="7.3" ry="3.6" transform="rotate(-18 502.1 787.0)" fill="#ff0000"/>
<ellipse cx="471.2" cy="819.8" rx="7.3" ry="3.6" transform="rotate(-18 471.2 819.8)" fill="#ff0000"/>
<ellipse cx="412.0" cy="838.6" rx="7.3" ry="3.6" transform="rotate(-18 412.0 838.6)" fill="#ff0000"/>
<ellipse cx="530.6" cy="745.6" rx="7.3" ry="3.6" transform="rotate(-18 530.6 745.6)" fill="#ff0000"/>
<ellipse cx="459.6" cy="846.9" rx="7.3" ry="3.6" transform="rotate(-18 459.6 846.9)" fill="#ff0000"/>
<ellipse cx="462.4" cy="801.0" rx="7.3" ry="3.6" transform="rotate(-18 462.4 801.0)" fill="#ff0000"/>
<ellipse cx="504.0" cy="791.1" rx="7.3" ry="3.6" transform="rotate(-18 504.0 791.1)" fill="#ff0000"/>
<ellipse cx="434.1" cy="830.8" rx="7.3" ry="3.6" transform="rotate(-18 434.1 830.8)" fill="#ff0000"/>
<ellipse cx="490.5" cy="799.2" rx="7.3" ry="3.6" transform="rotate(-18 490.5 799.2)" fill="#ff0000"/>
<ellipse cx="478.5" cy="772.9" rx="7.3" ry="3.6" transform="rotate(-18 478.5 772.9)" fill="#ff0000"/>
<ellipse cx="505.6" cy="770.0" rx="7.3" ry="3.6" transform="rotate(-18 505.6 770.0)" fill="#ff0000"/>
<ellipse cx="449.1" cy="827.7" rx="7.3" ry="3.6" transform="rotate(-18 449.1 827.7)" fill="#ff0000"/>
<ellipse cx="449.5" cy="843.0" rx="7.3" ry="3.6" transform="rotate(-18 449.5 843.0)" fill="#ff0000"/>
<ellipse cx="531.8" cy="776.4" rx="7.3" ry="3.6" transform="rotate(-18 531.8 776.4)" fill="#ff0000"/>
<ellipse cx="502.5" cy="769.7" rx="7.3" ry="3.6" transform="rotate(-18 502.5 769.7)" fill="#ff0000"/>
<ellipse cx="404.7" cy="845.1" rx="7.3" ry="3.6" transform="rotate(-18 404.7 845.1)" fill="#ff0000"/>
<ellipse cx="437.4" cy="848.8" rx="7.3" ry="3.6" transform="rotate(-18 437.4 848.8)" fill="#ff0000"/>
<ellipse cx="475.5" cy="793.5" rx="7.3" ry="3.6" transform="rotate(-18 475.5 793.5)" fill="#ff0000"/>
<ellipse cx="474.8" cy="825.6" rx="7.3" ry="3.6" transform="rotate(-18 474.8 825.6)" fill="#ff0000"/>
<ellipse cx="450.2" cy="831.0" rx="7.3" ry="3.6" transform="rotate(-18 450.2 831.0)" fill="#ff0000"/>
<ellipse cx="444.0" cy="849.1" rx="7.3" ry="3.6" transform="rotate(-18 444.0 849.1)" fill="#ff0000"/>
<ellipse cx="505.8" cy="794.9" rx="7.3" ry="3.6" transform="rotate(-18 505.8 794.9)" fill="#ff0000"/>
<ellipse cx="474.9" cy="818.1" rx="7.3" ry="3.6" transform="rotate(-18 474.9 818.1)" fill="#ff0000"/>
<ellipse cx="513.2" cy="767.1" rx="7.3" ry="3.6" transform="rotate(-18 513.2 767.1)" fill="#ff0000"/>
<ellipse cx="432.9" cy="828.4" rx="7.3" ry="3.6" transform="rotate(-18 432.9 828.4)" fill="#ff0000"/>
<ellipse cx="505.8" cy="774.7" rx="7.3" ry="3.6" transform="rotate(-18 505.8 774.7)" fill="#ff0000"/>
<ellipse cx="449.1" cy="807.3" rx="7.3" ry="3.6" transform="rotate(-18 449.1 807.3)" fill="#ff0000"/>
<ellipse cx="482.1" cy="808.6" rx="7.3" ry="3.6" transform="rotate(-18 482.1 808.6)" fill="#ff0000"/>
<ellipse cx="396.9" cy="852.5" rx="7.3" ry="3.6" transform="rotate(-18 396.9 852.5)" fill="#ff0000"/>
<ellipse cx="480.8" cy="821.6" rx="7.3" ry="3.6" transform="rotate(-18 480.8 821.6)" fill="#ff0000"/>
<ellipse cx="533.2" cy="790.8" rx="7.3" ry="3.6" transform="rotate(-18 533.2 790.8)" fill="#ff0000"/>
<ellipse cx="529.4" cy="779.2" rx="7.3" ry="3.6" transform="rotate(-18 529.4 779.2)" fill="#ff0000"/>
<ellipse cx="512.1" cy="818.6" rx="7.3" ry="3.6" transform="rotate(-18 512.1 818.6)" fill="#ff0000"/>
<ellipse cx="472.1" cy="811.9" rx="7.3" ry="3.6" transform="rotate(-18 472.1 811.9)" fill="#ff0000"/>
<ellipse cx="515.6" cy="814.5" rx="7.3" ry="3.6" transform="rotate(-18 515.6 814.5)" fill="#ff0000"/>
<ellipse cx="527.4" cy="748.2" rx="7.3" ry="3.6" transform="rotate(-18 527.4 748.2)" fill="#ff0000"/>
<ellipse cx="541.4" cy="768.7" rx="7.3" ry="3.6" transform="rotate(-18 541.4 768.7)" fill="#ff0000"/>
<ellipse cx="523.4" cy="787.0" rx="7.3" ry="3.6" transform="rotate(-18 523.4 787.0)" fill="#ff0000"/>
<ellipse cx="464.9" cy="840.9" rx="7.3" ry="3.6" transform="rotate(-18 464.9 840.9)" fill="#ff0000"/>
<ellipse cx="528.4" cy="777.1" rx="7.3" ry="3.6" transform="rotate(-18 528.4 777.1)" fill="#ff0000"/>
<ellipse cx="429.1" cy="849.0" rx="7.3" ry="3.6" transform="rotate(-18 429.1 849.0)" fill="#ff0000"/>
<ellipse cx="391.4" cy="854.9" rx="7.3" ry="3.6" transform="rotate(-18 391.4 854.9)" fill="#ff0000"/>
<ellipse cx="466.3" cy="798.7" rx="7.3" ry="3.6" transform="rotate(-18 466.3 798.7)" fill="#ff0000"/>
<ellipse cx="536.8" cy="754.9" rx="7.3" ry="3.6" transform="rotate(-18 536.8 754.9)" fill="#ff0000"/>
<ellipse cx="518.3" cy="812.5" rx="7.3" ry="3.6" transform="rotate(-18 518.3 812.5)" fill="#ff0000"/>
<ellipse cx="501.5" cy="807.0" rx="7.3" ry="3.6" transform="rotate(-18 501.5 807.0)" fill="#ff0000"/>
<ellipse cx="417.8" cy="835.0" rx="7.3" ry="3.6" transform="rotate(-18 417.8 835.0)" fill="#ff0000"/>
<ellipse cx="471.0" cy="784.6" rx="7.3" ry="3.6" transform="rotate(-18 471.0 784.6)" fill="#ff0000"/>
<ellipse cx="489.7" cy="760.5" rx="7.3" ry="3.6" transform="rotate(-18 489.7 760.5)" fill="#ff0000"/>
<ellipse cx="463.4" cy="794.3" rx="7.3" ry="3.6" transform="rotate(-18 463.4 794.3)" fill="#ff0000"/>
<ellipse cx="522.4" cy="774.0" rx="7.3" ry="3.6" transform="rotate(-18 522.4 774.0)" fill="#ff0000"/>
<ellipse cx="513.3" cy="773.7" rx="7.3" ry="3.6" transform="rotate(-18 513.3 773.7)" fill="#ff0000"/>
<ellipse cx="499.9" cy="779.1" rx="7.3" ry="3.6" transform="rotate(-18 499.9 779.1)" fill="#ff0000"/>
<ellipse cx="471.2" cy="784.3" rx="7.3" ry="3.6" transform="rotate(-18 471.2 784.3)" fill="#ff0000"/>
<ellipse cx="412.7" cy="852.6" rx="7.3" ry="3.6" transform="rotate(-18 412.7 852.6)" fill="#ff0000"/>
<ellipse cx="416.6" cy="840.9" rx="7.3" ry="3.6" transform="rotate(-18 416.6 840.9)" fill="#ff0000"/>
<ellipse cx="525.3" cy="812.3" rx="7.3" ry="3.6" transform="rotate(-18 525.3 812.3)" fill="#ff0000"/>
<ellipse cx="458.6" cy="845.0" rx="7.3" ry="3.6" transform="rotate(-18 458.6 845.0)" fill="#ff0000"/>
<ellipse cx="423.7" cy="823.5" rx="7.3" ry="3.6" transform="rotate(-18 423.7 823.5)" fill="#ff0000"/>
<ellipse cx="433.8" cy="843.8" rx="7.3" ry="3.6" transform="rotate(-18 433.8 843.8)" fill="#ff0000"/>
<ellipse cx="543.5" cy="743.9" rx="7.3" ry="3.6" transform="rotate(-18 543.5 743.9)" fill="#ff0000"/>
<ellipse cx="460.0" cy="808.9" rx="7.3" ry="3.6" transform="rotate(-18 460.0 808.9)" fill="#ff0000"/>
<ellipse cx="471.2" cy="813.2" rx="7.3" ry="3.6" transform="rotate(-18 471.2 813.2)" fill="#ff0000"/>
<ellipse cx="453.0" cy="840.3" rx="7.3" ry="3.6" transform="rotate(-18 453.0 840.3)" fill="#ff0000"/>
<ellipse cx="507.4" cy="825.0" rx="7.3" ry="3.6" transform="rotate(-18 507.4 825.0)" fill="#ff0000"/>
<ellipse cx="499.9" cy="789.4" rx="7.3" ry="3.6" transform="rotate(-18 499.9 789.4)" fill="#ff0000"/>
<ellipse cx="450.8" cy="830.5" rx="7.3" ry="3.6" transform="rotate(-18 450.8 830.5)" fill="#ff0000"/>
<ellipse cx="499.7" cy="800.1" rx="7.3" ry="3.6" transform="rotate(-18 499.7 800.1)" fill="#ff0000"/>
<ellipse cx="524.6" cy="794.6" rx="7.3" ry="3.6" transform="rotate(-18 524.6 794.6)" fill="#ff0000"/>
<ellipse cx="532.0" cy="777.0" rx="7.3" ry="3.6" transform="rotate(-18 532.0 777.0)" fill="#ff0000"/>
<ellipse cx="621.1" cy="788.1" rx="7.3" ry="3.6" transform="rotate(-18 621.1 788.1)" fill="#ff0000"/>
<ellipse cx="596.7" cy="762.3" rx="7.3" ry="3.6" transform="rotate(-18 596.7 762.3)" fill="#ff0000"/>
<ellipse cx="566.4" cy="776.0" rx="7.3" ry="3.6" transform="rotate(-18 566.4 776.0)" fill="#ff0000"/>
<ellipse cx="605.6" cy="835.6" rx="7.3" ry="3.6" transform="rotate(-18 605.6 835.6)" fill="#ff0000"/>
<ellipse cx="567.2" cy="851.5" rx="7.3" ry="3.6" transform="rotate(-18 567.2 851.5)" fill="#ff0000"/>
<ellipse cx="524.8" cy="841.0" rx="7.3" ry="3.6" transform="rotate(-18 524.8 841.0)" fill="#ff0000"/>
<ellipse cx="614.0" cy="774.8" rx="7.3" ry="3.6" transform="rotate(-18 614.0 774.8)" fill="#ff0000"/>
<ellipse cx="524.9" cy="827.3" rx="7.3" ry="3.6" transform="rotate(-18 524.9 827.3)" fill="#ff0000"/>
<ellipse cx="580.0" cy="758.0" rx="7.3" ry="3.6" transform="rotate(-18 580.0 758.0)" fill="#ff0000"/>
<ellipse cx="590.7" cy="775.2" rx="7.3" ry="3.6" transform="rotate(-18 590.7 775.2)" fill="#ff0000"/>
<ellipse cx="596.7" cy="826.5" rx="7.3" ry="3.6" transform="rotate(-18 596.7 826.5)" fill="#ff0000"/>
<ellipse cx="581.8" cy="829.5" rx="7.3" ry="3.6" transform="rotate(-18 581.8 829.5)" fill="#ff0000"/>
<ellipse cx="521.2" cy="841.5" rx="7.3" ry="3.6" transform="rotate(-18 521.2 841.5)" fill="#ff0000"/>
<ellipse cx="602.2" cy="843.2" rx="7.3" ry="3.6" transform="rotate(-18 602.2 843.2)" fill="#ff0000"/>
<ellipse cx="636.4" cy="841.0" rx="7.3" ry="3.6" transform="rotate(-18 636.4 841.0)" fill="#ff0000"/>
<ellipse cx="514.6" cy="823.3" rx="7.3" ry="3.6" transform="rotate(-18 514.6 823.3)" fill="#ff0000"/>
<ellipse cx="537.9" cy="771.6" rx="7.3" ry="3.6" transform="rotate(-18 537.9 771.6)" fill="#ff0000"/>
<ellipse cx="559.2" cy="809.0" rx="7.3" ry="3.6" transform="rotate(-18 559.2 809.0)" fill="#ff0000"/>
<ellipse cx="609.9" cy="848.1" rx="7.3" ry="3.6" transform="rotate(-18 609.9 848.1)" fill="#ff0000"/>
<ellipse cx="565.5" cy="835.1" rx="7.3" ry="3.6" transform="rotate(-18 565.5 835.1)" fill="#ff0000"/>
<ellipse cx="596.8" cy="799.9" rx="7.3" ry="3.6" transform="rotate(-18 596.8 799.9)" fill="#ff0000"/>
<ellipse cx="632.0" cy="816.3" rx="7.3" ry="3.6" transform="rotate(-18 632.0 816.3)" fill="#ff0000"/>
<ellipse cx="553.4" cy="751.0" rx="7.3" ry="3.6" transform="rotate(-18 553.4 751.0)" fill="#ff0000"/>
<ellipse cx="582.2" cy="842.2" rx="7.3" ry="3.6" transform="rotate(-18 582.2 842.2)" fill="#ff0000"/>
<ellipse cx="578.5" cy="785.2" rx="7.3" ry="3.6" transform="rotate(-18 578.5 785.2)" fill="#ff0000"/>
<ellipse cx="602.3" cy="808.5" rx="7.3" ry="3.6" transform="rotate(-18 602.3 808.5)" fill="#ff0000"/>
<ellipse cx="573.2" cy="811.6" rx="7.3" ry="3.6" transform="rotate(-18 573.2 811.6)" fill="#ff0000"/>
<ellipse cx="653.0" cy="822.2" rx="7.3" ry="3.6" transform="rotate(-18 653.0 822.2)" fill="#ff0000"/>
<ellipse cx="583.6" cy="834.7" rx="7.3" ry="3.6" transform="rotate(-18 583.6 834.7)" fill="#ff0000"/>
<ellipse cx="586.0" cy="851.8" rx="7.3" ry="3.6" transform="rotate(-18 586.0 851.8)" fill="#ff0000"/>
<ellipse cx="552.2" cy="755.7" rx="7.3" ry="3.6" transform="rotate(-18 552.2 755.7)" fill="#ff0000"/>
<ellipse cx="646.5" cy="811.1" rx="7.3" ry="3.6" transform="rotate(-18 646.5 811.1)" fill="#ff0000"/>
<ellipse cx="590.0" cy="751.0" rx="7.3" ry="3.6" transform="rotate(-18 590.0 751.0)" fill="#ff0000"/>
<ellipse cx="666.2" cy="841.9" rx="7.3" ry="3.6" transform="rotate(-18 666.2 841.9)" fill="#ff0000"/>
<ellipse cx="555.6" cy="755.7" rx="7.3" ry="3.6" transform="rotate(-18 555.6 755.7)" fill="#ff0000"/>
<ellipse cx="525.9" cy="798.3" rx="7.3" ry="3.6" transform="rotate(-18 525.9 798.3)" fill="#ff0000"/>
<ellipse cx="546.2" cy="787.9" rx="7.3" ry="3.6" transform="rotate(-18 546.2 787.9)" fill="#ff0000"/>
<ellipse cx="611.9" cy="846.3" rx="7.3" ry="3.6" transform="rotate(-18 611.9 846.3)" fill="#ff0000"/>
<ellipse cx="584.7" cy="797.6" rx="7.3" ry="3.6" transform="rotate(-18 584.7 797.6)" fill="#ff0000"/>
<ellipse cx="590.3" cy="846.2" rx="7.3" ry="3.6" transform="rotate(-18 590.3 846.2)" fill="#ff0000"/>
<ellipse cx="571.6" cy="771.1" rx="7.3" ry="3.6" transform="rotate(-18 571.6 771.1)" fill="#ff0000"/>
<ellipse cx="597.8" cy="777.8" rx="7.3" ry="3.6" transform="rotate(-18 597.8 777.8)" fill="#ff0000"/>
<ellipse cx="539.5" cy="750.6" rx="7.3" ry="3.6" transform="rotate(-18 539.5 750.6)" fill="#ff0000"/>
<ellipse cx="623.9" cy="774.7" rx="7.3" ry="3.6" transform="rotate(-18 623.9 774.7)" fill="#ff0000"/>
<ellipse cx="655.3" cy="843.8" rx="7.3" ry="3.6" transform="rotate(-18 655.3 843.8)" fill="#ff0000"/>
<ellipse cx="665.7" cy="828.8" rx="7.3" ry="3.6" transform="rotate(-18 665.7 828.8)" fill="#ff0000"/>
<ellipse cx="515.0" cy="821.8" rx="7.3" ry="3.6" transform="rotate(-18 515.0 821.8)" fill="#ff0000"/>
<ellipse cx="624.6" cy="840.2" rx="7.3" ry="3.6" transform="rotate(-18 624.6 840.2)" fill="#ff0000"/>
<ellipse cx="521.5" cy="824.7" rx="7.3" ry="3.6" transform="rotate(-18 521.5 824.7)" fill="#ff0000"/>
<ellipse cx="592.1" cy="850.0" rx="7.3" ry="3.6" transform="rotate(-18 592.1 850.0)" fill="#ff0000"/>
<ellipse cx="559.6" cy="755.6" rx="7.3" ry="3.6" transform="rotate(-18 559.6 755.6)" fill="#ff0000"/>
<ellipse cx="604.9" cy="818.3" rx="7.3" ry="3.6" transform="rotate(-18 604.9 818.3)" fill="#ff0000"/>
<ellipse cx="628.0" cy="816.6" rx="7.3" ry="3.6" transform="rotate(-18 628.0 816.6)" fill="#ff0000"/>
<ellipse cx="544.5" cy="844.2" rx="7.3" ry="3.6" transform="rotate(-18 544.5 844.2)" fill="#ff0000"/>
<ellipse cx="525.6" cy="802.3" rx="7.3" ry="3.6" transform="rotate(-18 525.6 802.3)" fill="#ff0000"/>
<ellipse cx="533.7" cy="788.2" rx="7.3" ry="3.6" transform="rotate(-18 533.7 788.2)" fill="#ff0000"/>
<ellipse cx="596.3" cy="823.6" rx="7.3" ry="3.6" transform="rotate(-18 596.3 823.6)" fill="#ff0000"/>
<ellipse cx="661.6" cy="825.7" rx="7.3" ry="3.6" transform="rotate(-18 661.6 825.7)" fill="#ff0000"/>
<ellipse cx="563.0" cy="749.7" rx="7.3" ry="3.6" transform="rotate(-18 563.0 749.7)" fill="#ff0000"/>
<ellipse cx="623.1" cy="852.8" rx="7.3" ry="3.6" transform="rotate(-18 623.1 852.8)" fill="#ff0000"/>
<ellipse cx="534.4" cy="793.9" rx="7.3" ry="3.6" transform="rotate(-18 534.4 793.9)" fill="#ff0000"/>
<ellipse cx="592.3" cy="811.7" rx="7.3" ry="3.6" transform="rotate(-18 592.3 811.7)" fill="#ff0000"/>
<ellipse cx="570.5" cy="823.2" rx="7.3" ry="3.6" transform="rotate(-18 570.5 823.2)" fill="#ff0000"/>
<ellipse cx="582.9" cy="788.5" rx="7.3" ry="3.6" transform="rotate(-18 582.9 788.5)" fill="#ff0000"/>
<ellipse cx="566.1" cy="797.7" rx="7.3" ry="3.6" transform="rotate(-18 566.1 797.7)" fill="#ff0000"/>
<ellipse cx="552.0" cy="768.8" rx="7.3" ry="3.6" transform="rotate(-18 552.0 768.8)" fill="#ff0000"/>
<ellipse cx="529.8" cy="791.6" rx="7.3" ry="3.6" transform="rotate(-18 529.8 791.6)" fill="#ff0000"/>
<ellipse cx="554.0" cy="837.2" rx="7.3" ry="3.6" transform="rotate(-18 554.0 837.2)" fill="#ff0000"/>
<ellipse cx="608.4" cy="844.8" rx="7.3" ry="3.6" transform="rotate(-18 608.4 844.8)" fill="#ff0000"/>
<ellipse cx="565.0" cy="804.8" rx="7.3" ry="3.6" transform="rotate(-18 565.0 804.8)" fill="#ff0000"/>
<ellipse cx="579.1" cy="815.8" rx="7.3" ry="3.6" transform="rotate(-18 579.1 815.8)" fill="#ff0000"/>
<ellipse cx="666.2" cy="817.6" rx="7.3" ry="3.6" transform="rotate(-18 666.2 817.6)" fill="#ff0000"/>
<ellipse cx="637.9" cy="814.0" rx="7.3" ry="3.6" transform="rotate(-18 637.9 814.0)" fill="#ff0000"/>
<ellipse cx="623.2" cy="771.4" rx="7.3" ry="3.6" transform="rotate(-18 623.2 771.4)" fill="#ff0000"/>
<ellipse cx="589.9" cy="819.4" rx="7.3" ry="3.6" transform="rotate(-18 589.9 819.4)" fill="#ff0000"/>
<ellipse cx="538.6" cy="748.0" rx="7.3" ry="3.6" transform="rotate(-18 538.6 748.0)" fill="#ff0000"/>
<ellipse cx="637.1" cy="834.0" rx="7.3" ry="3.6" transform="rotate(-18 637.1 834.0)" fill="#ff0000"/>
<ellipse cx="616.2" cy="778.0" rx="7.3" ry="3.6" transform="rotate(-18 616.2 778.0)" fill="#ff0000"/>
<ellipse cx="615.6" cy="807.3" rx="7.3" ry="3.6" transform="rotate(-18 615.6 807.3)" fill="#ff0000"/>
<ellipse cx="608.1" cy="792.4" rx="7.3" ry="3.6" transform="rotate(-18 608.1 792.4)" fill="#ff0000"/>
<ellipse cx="542.6" cy="824.5" rx="7.3" ry="3.6" transform="rotate(-18 542.6 824.5)" fill="#ff0000"/>
<ellipse cx="582.5" cy="826.7" rx="7.3" ry="3.6" transform="rotate(-18 582.5 826.7)" fill="#ff0000"/>
<ellipse cx="565.8" cy="751.1" rx="7.3" ry="3.6" transform="rotate(-18 565.8 751.1)" fill="#ff0000"/>
<ellipse cx="595.6" cy="812.6" rx="7.3" ry="3.6" transform="rotate(-18 595.6 812.6)" fill="#ff0000"/>
<ellipse cx="658.9" cy="843.1" rx="7.3" ry="3.6" transform="rotate(-18 658.9 843.1)" fill="#ff0000"/>
<ellipse cx="514.5" cy="829.8" rx="7.3" ry="3.6" transform="rotate(-18 514.5 829.8)" fill="#ff0000"/>
<ellipse cx="548.6" cy="821.2" rx="7.3" ry="3.6" transform="rotate(-18 548.6 821.2)" fill="#ff0000"/>
<ellipse cx="568.4" cy="778.0" rx="7.3" ry="3.6" transform="rotate(-18 568.4 778.0)" fill="#ff0000"/>
<ellipse cx="586.5" cy="802.0" rx="7.3" ry="3.6" transform="rotate(-18 586.5 802.0)" fill="#ff0000"/>
<ellipse cx="621.0" cy="814.4" rx="7.3" ry="3.6" transform="rotate(-18 621.0 814.4)" fill="#ff0000"/>
<ellipse cx="618.3" cy="785.2" rx="7.3" ry="3.6" transform="rotate(-18 618.3 785.2)" fill="#ff0000"/>
<ellipse cx="618.1" cy="780.7" rx="7.3" ry="3.6" transform="rotate(-18 618.1 780.7)" fill="#ff0000"/>
<ellipse cx="606.5" cy="793.8" rx="7.3" ry="3.6" transform="rotate(-18 606.5 793.8)" fill="#ff0000"/>
<ellipse cx="588.3" cy="766.3" rx="7.3" ry="3.6" transform="rotate(-18 588.3 766.3)" fill="#ff0000"/>
<ellipse cx="569.4" cy="749.5" rx="7.3" ry="3.6" transform="rotate(-18 569.4 749.5)" fill="#ff0000"/>
<ellipse cx="614.7" cy="843.8" rx="7.3" ry="3.6" transform="rotate(-18 614.7 843.8)" fill="#ff0000"/>
<ellipse cx="564.2" cy="753.1" rx="7.3" ry="3.6" transform="rotate(-18 564.2 753.1)" fill="#ff0000"/>
<ellipse cx="565.4" cy="797.9" rx="7.3" ry="3.6" transform="rotate(-18 565.4 797.9)" fill="#ff0000"/>
<ellipse cx="551.0" cy="823.0" rx="7.3" ry="3.6" transform="rotate(-18 551.0 823.0)" fill="#ff0000"/>
<ellipse cx="601.8" cy="790.8" rx="7.3" ry="3.6" transform="rotate(-18 601.8 790.8)" fill="#ff0000"/>
<ellipse cx="553.1" cy="835.5" rx="7.3" ry="3.6" transform="rotate(-18 553.1 835.5)" fill="#ff0000"/>
<ellipse cx="553.8" cy="835.2" rx="7.3" ry="3.6" transform="rotate(-18 553.8 835.2)" fill="#ff0000"/>
<ellipse cx="628.7" cy="815.1" rx="7.3" ry="3.6" transform="rotate(-18 628.7 815.1)" fill="#ff0000"/>
<ellipse cx="541.9" cy="783.6" rx="7.3" ry="3.6" transform="rotate(-18 541.9 783.6)" fill="#ff0000"/>
<ellipse cx="609.1" cy="847.5" rx="7.3" ry="3.6" transform="rotate(-18 609.1 847.5)" fill="#ff0000"/>
<ellipse cx="555.4" cy="786.4" rx="7.3" ry="3.6" transform="rotate(-18 555.4 786.4)" fill="#ff0000"/>
<ellipse cx="579.1" cy="832.7" rx="7.3" ry="3.6" transform="rotate(-18 579.1 832.7)" fill="#ff0000"/>
<ellipse cx="544.0" cy="816.9" rx="7.3" ry="3.6" transform="rotate(-18 544.0 816.9)" fill="#ff0000"/>
<ellipse cx="617.4" cy="794.4" rx="7.3" ry="3.6" transform="rotate(-18 617.4 794.4)" fill="#ff0000"/>
<ellipse cx="536.5" cy="787.3" rx="7.3" ry="3.6" transform="rotate(-18 536.5 787.3)" fill="#ff0000"/>
<ellipse cx="544.2" cy="833.1" rx="7.3" ry="3.6" transform="rotate(-18 544.2 833.1)" fill="#ff0000"/>
<ellipse cx="641.5" cy="849.7" rx="7.3" ry="3.6" transform="rotate(-18 641.5 849.7)" fill="#ff0000"/>
<ellipse cx="645.2" cy="815.5" rx="7.3" ry="3.6" transform="rotate(-18 645.2 815.5)" fill="#ff0000"/>
<ellipse cx="536.2" cy="835.6" rx="7.3" ry="3.6" transform="rotate(-18 536.2 835.6)" fill="#ff0000"/>
<ellipse cx="626.6" cy="826.9" rx="7.3" ry="3.6" transform="rotate(-18 626.6 826.9)" fill="#ff0000"/>
<ellipse cx="621.5" cy="836.5" rx="7.3" ry="3.6" transform="rotate(-18 621.5 836.5)" fill="#ff0000"/>
<ellipse cx="554.7" cy="818.3" rx="7.3" ry="3.6" transform="rotate(-18 554.7 818.3)" fill="#ff0000"/>
<ellipse cx="591.4" cy="779.9" rx="7.3" ry="3.6" transform="rotate(-18 591.4 779.9)" fill="#ff0000"/>
<ellipse cx="559.6" cy="758.9" rx="7.3" ry="3.6" transform="rotate(-18 559.6 758.9)" fill="#ff0000"/>
<ellipse cx="587.1" cy="783.4" rx="7.3" ry="3.6" transform="rotate(-18 587.1 783.4)" fill="#ff0000"/>
<ellipse cx="575.4" cy="838.9" rx="7.3" ry="3.6" transform="rotate(-18 575.4 838.9)" fill="#ff0000"/>
<ellipse cx="618.8" cy="819.2" rx="7.3" ry="3.6" transform="rotate(-18 618.8 819.2)" fill="#ff0000"/>
<ellipse cx="589.8" cy="751.6" rx="7.3" ry="3.6" transform="rotate(-18 589.8 751.6)" fill="#ff0000"/>
<ellipse cx="570.6" cy="850.3" rx="7.3" ry="3.6" transform="rotate(-18 570.6 850.3)" fill="#ff0000"/>
<ellipse cx="519.3" cy="828.1" rx="7.3" ry="3.6" transform="rotate(-18 519.3 828.1)" fill="#ff0000"/>
<ellipse cx="649.5" cy="799.5" rx="7.3" ry="3.6" transform="rotate(-18 649.5 799.5)" fill="#ff0000"/>
<ellipse cx="638.2" cy="791.7" rx="7.3" ry="3.6" transform="rotate(-18 638.2 791.7)" fill="#ff0000"/>
<ellipse cx="564.0" cy="799.2" rx="7.3" ry="3.6" transform="rotate(-18 564.0 799.2)" fill="#ff0000"/>
<ellipse cx="537.5" cy="776.4" rx="7.3" ry="3.6" transform="rotate(-18 537.5 776.4)" fill="#ff0000"/>
<ellipse cx="561.0" cy="767.3" rx="7.3" ry="3.6" transform="rotate(-18 561.0 767.3)" fill="#ff0000"/>
<ellipse cx="666.3" cy="839.1" rx="7.3" ry="3.6" transform="rotate(-18 666.3 839.1)" fill="#ff0000"/>
<ellipse cx="613.1" cy="790.2" rx="7.3" ry="3.6" transform="rotate(-18 613.1 790.2)" fill="#ff0000"/>
<ellipse cx="537.9" cy="753.2" rx="7.3" ry="3.6" transform="rotate(-18 537.9 753.2)" fill="#ff0000"/>
<ellipse cx="573.0" cy="847.2" rx="7.3" ry="3.6" transform="rotate(-18 573.0 847.2)" fill="#ff0000"/>
<ellipse cx="597.4" cy="759.3" rx="7.3" ry="3.6" transform="rotate(-18 597.4 759.3)" fill="#ff0000"/>
<ellipse cx="561.4" cy="762.8" rx="7.3" ry="3.6" transform="rotate(-18 561.4 762.8)" fill="#ff0000"/>
<ellipse cx="522.0" cy="816.0" rx="7.3" ry="3.6" transform="rotate(-18 522.0 816.0)" fill="#ff0000"/>
<ellipse cx="635.4" cy="797.2" rx="7.3" ry="3.6" transform="rotate(-18 635.4 797.2)" fill="#ff0000"/>
<ellipse cx="594.4" cy="793.6" rx="7.3" ry="3.6" transform="rotate(-18 594.4 793.6)" fill="#ff0000"/>
<ellipse cx="587.6" cy="767.9" rx="7.3" ry="3.6" transform="rotate(-18 587.6 767.9)" fill="#ff0000"/>
<ellipse cx="629.4" cy="839.1" rx="7.3" ry="3.6" transform="rotate(-18 629.4 839.1)" fill="#ff0000"/>
<ellipse cx="621.7" cy="777.3" rx="7.3" ry="3.6" transform="rotate(-18 621.7 777.3)" fill="#ff0000"/>
<ellipse cx="570.3" cy="791.7" rx="7.3" ry="3.6" transform="rotate(-18 570.3 791.7)" fill="#ff0000"/>
<ellipse cx="554.0" cy="789.5" rx="7.3" ry="3.6" transform="rotate(-18 554.0 789.5)" fill="#ff0000"/>
<ellipse cx="551.2" cy="796.1" rx="7.3" ry="3.6" transform="rotate(-18 551.2 796.1)" fill="#ff0000"/>
<ellipse cx="617.9" cy="815.3" rx="7.3" ry="3.6" transform="rotate(-18 617.9 815.3)" fill="#ff0000"/>
<ellipse cx="535.2" cy="776.5" rx="7.3" ry="3.6" transform="rotate(-18 535.2 776.5)" fill="#ff0000"/>
<ellipse cx="552.0" cy="827.9" rx="7.3" ry="3.6" transform="rotate(-18 552.0 827.9)" fill="#ff0000"/>
<ellipse cx="639.1" cy="847.3" rx="7.3" ry="3.6" transform="rotate(-18 639.1 847.3)" fill="#ff0000"/>
<ellipse cx="604.4" cy="781.1" rx="7.3" ry="3.6" transform="rotate(-18 604.4 781.1)" fill="#ff0000"/>
<ellipse cx="728.4" cy="875.2" rx="7.3" ry="3.6" transform="rotate(-18 728.4 875.2)" fill="#ff0000"/>
<ellipse cx="769.1" cy="864.9" rx="7.3" ry="3.6" transform="rotate(-18 769.1 864.9)" fill="#ff0000"/>
<ellipse cx="705.6" cy="865.8" rx="7.3" ry="3.6" transform="rotate(-18 705.6 865.8)" fill="#ff0000"/>
<ellipse cx="763.7" cy="876.1" rx="7.3" ry="3.6" transform="rotate(-18 763.7 876.1)" fill="#ff0000"/>
<ellipse cx="705.3" cy="867.1" rx="7.3" ry="3.6" transform="rotate(-18 705.3 867.1)" fill="#ff0000"/>
<ellipse cx="751.0" cy="877.1" rx="7.3" ry="3.6" transform="rotate(-18 751.0 877.1)" fill="#ff0000"/>
<ellipse cx="736.1" cy="859.6" rx="7.3" ry="3.6" transform="rotate(-18 736.1 859.6)" fill="#ff0000"/>
<ellipse cx="777.3" cy="869.3" rx="7.3" ry="3.6" transform="rotate(-18 777.3 869.3)" fill="#ff0000"/>
<ellipse cx="757.4" cy="871.7" rx="7.3" ry="3.6" transform="rotate(-18 757.4 871.7)" fill="#ff0000"/>
<ellipse cx="716.0" cy="867.5" rx="7.3" ry="3.6" transform="rotate(-18 716.0 867.5)" fill="#ff0000"/>
<ellipse cx="725.7" cy="865.7" rx="7.3" ry="3.6" transform="rotate(-18 725.7 865.7)" fill="#ff0000"/>
<ellipse cx="742.7" cy="868.4" rx="7.3" ry="3.6" transform="rotate(-18 742.7 868.4)" fill="#ff0000"/>
<ellipse cx="721.4" cy="872.0" rx="7.3" ry="3.6" transform="rotate(-18 721.4 872.0)" fill="#ff0000"/>
<ellipse cx="717.7" cy="883.0" rx="7.3" ry="3.6" transform="rotate(-18 717.7 883.0)" fill="#ff0000"/>
<ellipse cx="765.9" cy="864.3" rx="7.3" ry="3.6" transform="rotate(-18 765.9 864.3)" fill="#ff0000"/>
<ellipse cx="723.9" cy="876.0" rx="7.3" ry="3.6" transform="rotate(-18 723.9 876.0)" fill="#ff0000"/>
<ellipse cx="768.7" cy="880.9" rx="7.3" ry="3.6" transform="rotate(-18 768.7 880.9)" fill="#ff0000"/>
<ellipse cx="769.0" cy="870.1" rx="7.3" ry="3.6" transform="rotate(-18 769.0 870.1)" fill="#ff0000"/>
<ellipse cx="767.4" cy="869.1" rx="7.3" ry="3.6" transform="rotate(-18 767.4 869.1)" fill="#ff0000"/>
<ellipse cx="721.1" cy="869.8" rx="7.3" ry="3.6" transform="rotate(-18 721.1 869.8)" fill="#ff0000"/>
<ellipse cx="726.8" cy="879.9" rx="7.3" ry="3.6" transform="rotate(-18 726.8 879.9)" fill="#ff0000"/>
<ellipse cx="713.2" cy="866.4" rx="7.3" ry="3.6" transform="rotate(-18 713.2 866.4)" fill="#ff0000"/>
<ellipse cx="737.1" cy="886.5" rx="7.3" ry="3.6" transform="rotate(-18 737.1 886.5)" fill="#ff0000"/>
<ellipse cx="758.4" cy="876.7" rx="7.3" ry="3.6" transform="rotate(-18 758.4 876.7)" fill="#ff0000"/>
<ellipse cx="721.6" cy="866.0" rx="7.3" ry="3.6" transform="rotate(-18 721.6 866.0)" fill="#ff0000"/>
<ellipse cx="725.2" cy="864.3" rx="7.3" ry="3.6" transform="rotate(-18 725.2 864.3)" fill="#ff0000"/>
<ellipse cx="560.5" cy="748.1" rx="7.3" ry="3.6" transform="rotate(-18 560.5 748.1)" fill="#ff0000"/>
<ellipse cx="591.7" cy="750.1" rx="7.3" ry="3.6" transform="rotate(-18 591.7 750.1)" fill="#ff0000"/>
<ellipse cx="616.8" cy="760.2" rx="7.3" ry="3.6" transform="rotate(-18 616.8 760.2)" fill="#ff0000"/>
<ellipse cx="566.5" cy="762.2" rx="7.3" ry="3.6" transform="rotate(-18 566.5 762.2)" fill="#ff0000"/>
<ellipse cx="588.7" cy="761.2" rx="7.3" ry="3.6" transform="rotate(-18 588.7 761.2)" fill="#ff0000"/>
<ellipse cx="576.6" cy="771.2" rx="7.3" ry="3.6" transform="rotate(-18 576.6 771.2)" fill="#ff0000"/>
<ellipse cx="584.6" cy="767.2" rx="7.3" ry="3.6" transform="rotate(-18 584.6 767.2)" fill="#ff0000"/>
<ellipse cx="616.8" cy="790.4" rx="7.3" ry="3.6" transform="rotate(-18 616.8 790.4)" fill="#ff0000"/>
<ellipse cx="600.7" cy="796.4" rx="7.3" ry="3.6" transform="rotate(-18 600.7 796.4)" fill="#ff0000"/>
<ellipse cx="626.9" cy="801.4" rx="7.3" ry="3.6" transform="rotate(-18 626.9 801.4)" fill="#ff0000"/>
<ellipse cx="653.0" cy="804.4" rx="7.3" ry="3.6" transform="rotate(-18 653.0 804.4)" fill="#ff0000"/>
<ellipse cx="661.1" cy="818.5" rx="7.3" ry="3.6" transform="rotate(-18 661.1 818.5)" fill="#ff0000"/>
<ellipse cx="632.9" cy="814.5" rx="7.3" ry="3.6" transform="rotate(-18 632.9 814.5)" fill="#ff0000"/>
<ellipse cx="620.8" cy="810.5" rx="7.3" ry="3.6" transform="rotate(-18 620.8 810.5)" fill="#ff0000"/>
<ellipse cx="608.8" cy="820.5" rx="7.3" ry="3.6" transform="rotate(-18 608.8 820.5)" fill="#ff0000"/>
<ellipse cx="594.7" cy="810.5" rx="7.3" ry="3.6" transform="rotate(-18 594.7 810.5)" fill="#ff0000"/>
<ellipse cx="584.6" cy="806.5" rx="7.3" ry="3.6" transform="rotate(-18 584.6 806.5)" fill="#ff0000"/>
<ellipse cx="566.5" cy="796.4" rx="7.3" ry="3.6" transform="rotate(-18 566.5 796.4)" fill="#ff0000"/>
<ellipse cx="576.6" cy="786.3" rx="7.3" ry="3.6" transform="rotate(-18 576.6 786.3)" fill="#ff0000"/>
<ellipse cx="592.7" cy="792.4" rx="7.3" ry="3.6" transform="rotate(-18 592.7 792.4)" fill="#ff0000"/>
<ellipse cx="556.5" cy="790.4" rx="7.3" ry="3.6" transform="rotate(-18 556.5 790.4)" fill="#ff0000"/>
<ellipse cx="558.5" cy="780.3" rx="7.3" ry="3.6" transform="rotate(-18 558.5 780.3)" fill="#ff0000"/>
<ellipse cx="568.5" cy="790.4" rx="7.3" ry="3.6" transform="rotate(-18 568.5 790.4)" fill="#ff0000"/>
<ellipse cx="562.5" cy="814.5" rx="7.3" ry="3.6" transform="rotate(-18 562.5 814.5)" fill="#ff0000"/>
<ellipse cx="574.6" cy="824.6" rx="7.3" ry="3.6" transform="rotate(-18 574.6 824.6)" fill="#ff0000"/>
<ellipse cx="588.7" cy="826.6" rx="7.3" ry="3.6" transform="rotate(-18 588.7 826.6)" fill="#ff0000"/>
<ellipse cx="608.8" cy="832.6" rx="7.3" ry="3.6" transform="rotate(-18 608.8 832.6)" fill="#ff0000"/>
<ellipse cx="624.9" cy="832.6" rx="7.3" ry="3.6" transform="rotate(-18 624.9 832.6)" fill="#ff0000"/>
<ellipse cx="655.0" cy="822.6" rx="7.3" ry="3.6" transform="rotate(-18 655.0 822.6)" fill="#ff0000"/>
<ellipse cx="556.5" cy="830.6" rx="7.3" ry="3.6" transform="rotate(-18 556.5 830.6)" fill="#ff0000"/>
<ellipse cx="566.5" cy="834.6" rx="7.3" ry="3.6" transform="rotate(-18 566.5 834.6)" fill="#ff0000"/>
<ellipse cx="582.6" cy="838.7" rx="7.3" ry="3.6" transform="rotate(-18 582.6 838.7)" fill="#ff0000"/>
<ellipse cx="592.7" cy="846.7" rx="7.3" ry="3.6" transform="rotate(-18 592.7 846.7)" fill="#ff0000"/>
<ellipse cx="610.8" cy="844.7" rx="7.3" ry="3.6" transform="rotate(-18 610.8 844.7)" fill="#ff0000"/>
<ellipse cx="626.9" cy="842.7" rx="7.3" ry="3.6" transform="rotate(-18 626.9 842.7)" fill="#ff0000"/>
<ellipse cx="641.0" cy="846.7" rx="7.3" ry="3.6" transform="rotate(-18 641.0 846.7)" fill="#ff0000"/>
<ellipse cx="655.0" cy="846.7" rx="7.3" ry="3.6" transform="rotate(-18 655.0 846.7)" fill="#ff0000"/>
<ellipse cx="673.2" cy="838.7" rx="7.3" ry="3.6" transform="rotate(-18 673.2 838.7)" fill="#ff0000"/>
<ellipse cx="673.2" cy="850.7" rx="7.3" ry="3.6" transform="rotate(-18 673.2 850.7)" fill="#ff0000"/>
<ellipse cx="576.6" cy="850.7" rx="7.3" ry="3.6" transform="rotate(-18 576.6 850.7)" fill="#ff0000"/>
<ellipse cx="560.5" cy="854.7" rx="7.3" ry="3.6" transform="rotate(-18 560.5 854.7)" fill="#ff0000"/>
<ellipse cx="624.9" cy="858.8" rx="7.3" ry="3.6" transform="rotate(-18 624.9 858.8)" fill="#ff0000"/>
<ellipse cx="546.4" cy="848.7" rx="7.3" ry="3.6" transform="rotate(-18 546.4 848.7)" fill="#ff0000"/>
<ellipse cx="528.3" cy="844.7" rx="7.3" ry="3.6" transform="rotate(-18 528.3 844.7)" fill="#ff0000"/>
<ellipse cx="510.2" cy="846.7" rx="7.3" ry="3.6" transform="rotate(-18 510.2 846.7)" fill="#ff0000"/>
<ellipse cx="488.0" cy="854.7" rx="7.3" ry="3.6" transform="rotate(-18 488.0 854.7)" fill="#ff0000"/>
<ellipse cx="506.2" cy="856.8" rx="7.3" ry="3.6" transform="rotate(-18 506.2 856.8)" fill="#ff0000"/>
<ellipse cx="610.6" cy="809.8" rx="7.3" ry="3.6" transform="rotate(-18 610.6 809.8)" fill="#ff0000"/>
<ellipse cx="725.7" cy="813.7" rx="7.3" ry="3.6" transform="rotate(-18 725.7 813.7)" fill="#ff0000"/>
<ellipse cx="691.7" cy="834.6" rx="7.3" ry="3.6" transform="rotate(-18 691.7 834.6)" fill="#ff0000"/>
<ellipse cx="711.3" cy="833.3" rx="7.3" ry="3.6" transform="rotate(-18 711.3 833.3)" fill="#ff0000"/>
<ellipse cx="673.4" cy="837.2" rx="7.3" ry="3.6" transform="rotate(-18 673.4 837.2)" fill="#ff0000"/>
<ellipse cx="676.0" cy="849.0" rx="7.3" ry="3.6" transform="rotate(-18 676.0 849.0)" fill="#ff0000"/>
<ellipse cx="655.1" cy="847.7" rx="7.3" ry="3.6" transform="rotate(-18 655.1 847.7)" fill="#ff0000"/>
<ellipse cx="640.7" cy="845.1" rx="7.3" ry="3.6" transform="rotate(-18 640.7 845.1)" fill="#ff0000"/>
<ellipse cx="626.3" cy="842.5" rx="7.3" ry="3.6" transform="rotate(-18 626.3 842.5)" fill="#ff0000"/>
<ellipse cx="596.2" cy="845.1" rx="7.3" ry="3.6" transform="rotate(-18 596.2 845.1)" fill="#ff0000"/>
<ellipse cx="579.2" cy="850.3" rx="7.3" ry="3.6" transform="rotate(-18 579.2 850.3)" fill="#ff0000"/>
<ellipse cx="626.3" cy="856.9" rx="7.3" ry="3.6" transform="rotate(-18 626.3 856.9)" fill="#ff0000"/>
<ellipse cx="628.9" cy="862.1" rx="7.3" ry="3.6" transform="rotate(-18 628.9 862.1)" fill="#ff0000"/>
<ellipse cx="660.3" cy="871.3" rx="7.3" ry="3.6" transform="rotate(-18 660.3 871.3)" fill="#ff0000"/>
<ellipse cx="639.4" cy="872.6" rx="7.3" ry="3.6" transform="rotate(-18 639.4 872.6)" fill="#ff0000"/>
<ellipse cx="583.2" cy="888.3" rx="7.3" ry="3.6" transform="rotate(-18 583.2 888.3)" fill="#ff0000"/>
<ellipse cx="545.2" cy="879.1" rx="7.3" ry="3.6" transform="rotate(-18 545.2 879.1)" fill="#ff0000"/>
<ellipse cx="698.3" cy="866.0" rx="7.3" ry="3.6" transform="rotate(-18 698.3 866.0)" fill="#ff0000"/>
<ellipse cx="759.7" cy="855.6" rx="7.3" ry="3.6" transform="rotate(-18 759.7 855.6)" fill="#ff0000"/>
<ellipse cx="785.9" cy="868.6" rx="7.3" ry="3.6" transform="rotate(-18 785.9 868.6)" fill="#ff0000"/>
<ellipse cx="440.4" cy="855.5" rx="7.3" ry="3.6" transform="rotate(-18 440.4 855.5)" fill="#ff0000"/>
<ellipse cx="474.2" cy="865.2" rx="7.3" ry="3.6" transform="rotate(-18 474.2 865.2)" fill="#ff0000"/>
<ellipse cx="503.0" cy="891.8" rx="7.3" ry="3.6" transform="rotate(-18 503.0 891.8)" fill="#ff0000"/>
<ellipse cx="528.5" cy="890.5" rx="7.3" ry="3.6" transform="rotate(-18 528.5 890.5)" fill="#ff0000"/>
<ellipse cx="543.0" cy="878.5" rx="7.3" ry="3.6" transform="rotate(-18 543.0 878.5)" fill="#ff0000"/>
<ellipse cx="389.7" cy="856.0" rx="7.3" ry="3.6" transform="rotate(-18 389.7 856.0)" fill="#ff0000"/>
<ellipse cx="409.0" cy="854.0" rx="7.3" ry="3.6" transform="rotate(-18 409.0 854.0)" fill="#ff0000"/>
<ellipse cx="462.0" cy="848.3" rx="7.3" ry="3.6" transform="rotate(-18 462.0 848.3)" fill="#ff0000"/>
<ellipse cx="481.4" cy="853.5" rx="7.3" ry="3.6" transform="rotate(-18 481.4 853.5)" fill="#ff0000"/>
<ellipse cx="543.0" cy="742.8" rx="7.3" ry="3.6" transform="rotate(-18 543.0 742.8)" fill="#ff0000"/>
<ellipse cx="560.7" cy="747.6" rx="7.3" ry="3.6" transform="rotate(-18 560.7 747.6)" fill="#ff0000"/>
<ellipse cx="567.2" cy="762.0" rx="7.3" ry="3.6" transform="rotate(-18 567.2 762.0)" fill="#ff0000"/>
<ellipse cx="588.0" cy="762.0" rx="7.3" ry="3.6" transform="rotate(-18 588.0 762.0)" fill="#ff0000"/>
<ellipse cx="575.2" cy="771.0" rx="7.3" ry="3.6" transform="rotate(-18 575.2 771.0)" fill="#ff0000"/>
<ellipse cx="647.2" cy="822.9" rx="7.3" ry="3.6" transform="rotate(-18 647.2 822.9)" fill="#ff0000"/>
<ellipse cx="631.6" cy="813.7" rx="7.3" ry="3.6" transform="rotate(-18 631.6 813.7)" fill="#ff0000"/>
<ellipse cx="615.9" cy="791.5" rx="7.3" ry="3.6" transform="rotate(-18 615.9 791.5)" fill="#ff0000"/>
<ellipse cx="594.9" cy="792.8" rx="7.3" ry="3.6" transform="rotate(-18 594.9 792.8)" fill="#ff0000"/>
<ellipse cx="623.7" cy="801.9" rx="7.3" ry="3.6" transform="rotate(-18 623.7 801.9)" fill="#ff0000"/>
<ellipse cx="655.1" cy="805.9" rx="7.3" ry="3.6" transform="rotate(-18 655.1 805.9)" fill="#ff0000"/>
<ellipse cx="660.3" cy="818.9" rx="7.3" ry="3.6" transform="rotate(-18 660.3 818.9)" fill="#ff0000"/>
<ellipse cx="600.0" cy="775.0" rx="7.3" ry="3.6" transform="rotate(-18 600.0 775.0)" fill="#ff0000"/>
<ellipse cx="640.0" cy="800.0" rx="7.3" ry="3.6" transform="rotate(-18 640.0 800.0)" fill="#ff0000"/>
<ellipse cx="605.0" cy="780.0" rx="7.3" ry="3.6" transform="rotate(-18 605.0 780.0)" fill="#ff0000"/>
<ellipse cx="580.0" cy="815.0" rx="7.3" ry="3.6" transform="rotate(-18 580.0 815.0)" fill="#ff0000"/>
<ellipse cx="600.0" cy="835.0" rx="7.3" ry="3.6" transform="rotate(-18 600.0 835.0)" fill="#ff0000"/>
<ellipse cx="640.0" cy="832.0" rx="7.3" ry="3.6" transform="rotate(-18 640.0 832.0)" fill="#ff0000"/>
<line x1="534.1" y1="730" x2="534.1" y2="826" stroke="#ff0000" stroke-width="3.4"/>
<line x1="329.5" y1="729.5" x2="692.7" y2="934.3" stroke="#2a2a2a" stroke-width="3.3" stroke-dasharray="6.5 5.8" stroke-dashoffset="2.7"/>
<line x1="579.3" y1="678.5" x2="221.2" y2="1004.1" stroke="#111" stroke-width="2.2"/>
<g fill="#1a1a1a" stroke="#1a1a1a" stroke-width="0.9">
<text transform="matrix(-0.6250,-0.3574,1.2172,-0.6916,568.0,638.1)" x="0" y="6.4" font-size="18" text-anchor="middle" letter-spacing="3.89" >0.01</text>
<text transform="matrix(-0.6250,-0.3574,1.2172,-0.6916,611.5,663.0)" x="0" y="6.4" font-size="18" text-anchor="middle" letter-spacing="3.89" >0</text>
<text transform="matrix(-0.6250,-0.3574,1.2172,-0.6916,655.0,690.4)" x="0" y="6.4" font-size="18" text-anchor="middle" letter-spacing="3.89" >-0.01</text>
<text transform="matrix(-0.6250,-0.3574,1.2172,-0.6916,698.4,714.5)" x="0" y="6.4" font-size="18" text-anchor="middle" letter-spacing="3.89" >-0.02</text>
<text transform="matrix(-0.6250,-0.3574,1.2172,-0.6916,741.9,739.5)" x="0" y="6.4" font-size="18" text-anchor="middle" letter-spacing="3.89" >-0.03</text>
<text transform="matrix(-0.6250,-0.3574,1.2172,-0.6916,784.4,764.9)" x="0" y="6.4" font-size="18" text-anchor="middle" letter-spacing="3.89" >-0.04</text>
<text transform="matrix(-0.6250,-0.3574,1.2172,-0.6916,828.1,789.2)" x="0" y="6.4" font-size="18" text-anchor="middle" letter-spacing="3.89" >-0.05</text>
<text transform="matrix(-0.6250,-0.3574,1.2172,-0.6916,870.2,813.2)" x="0" y="6.4" font-size="18" text-anchor="middle" letter-spacing="3.89" >-0.06</text>
<text transform="matrix(-0.6250,-0.3574,1.2172,-0.6916,780.9,889.5)" x="0" y="6.4" font-size="18" text-anchor="end" letter-spacing="3.89" >-0.01</text>
<text transform="matrix(-0.6250,-0.3574,1.2172,-0.6916,697.9,937.3)" x="0" y="6.4" font-size="18" text-anchor="end" letter-spacing="3.89" >0</text>
<text transform="matrix(-0.6250,-0.3574,1.2172,-0.6916,612.4,987.6)" x="0" y="6.4" font-size="18" text-anchor="end" letter-spacing="3.89" >0.01</text>
<text transform="matrix(-0.6250,-0.3574,1.2172,-0.6916,529.4,1032.8)" x="0" y="6.4" font-size="18" text-anchor="end" letter-spacing="3.89" >0.02</text>
<text transform="matrix(-0.6250,-0.3574,1.2172,-0.6916,442.8,1085.7)" x="0" y="6.4" font-size="18" text-anchor="end" letter-spacing="3.89" >0.03</text>
<text transform="matrix(-0.6250,-0.3574,1.2172,-0.6916,870.6,844.7)" x="0" y="6.4" font-size="18" text-anchor="end" letter-spacing="3.89" >-0.02</text>
<text transform="matrix(-0.6250,-0.3574,1.2172,-0.6916,742.0,702.0)" x="0" y="7.3" font-size="20.5" text-anchor="middle" letter-spacing="4.43" >PC1</text>
<text transform="matrix(-0.8681,-0.4964,1.2172,-0.6916,683.0,1000.5) rotate(-90)" x="0" y="7" font-size="19" font-weight="bold" text-anchor="middle" letter-spacing="1.5">PC 2</text>
</g>
<polygon points="59.0,428.0 499.5,212.5 499.5,2.5 59.0,219.2" fill="#fff"/>
<polygon points="499.5,212.5 933.5,428.7 933.5,220.1 499.5,2.5" fill="#fff"/>
<polygon points="59.0,428.0 493.9,647.3 933.5,428.7 499.5,212.5" fill="#fff"/>
<line x1="129.8" y1="393.3" x2="129.8" y2="184.4" stroke="#d2d2d2" stroke-width="2.6" />
<line x1="566.4" y1="611.2" x2="129.8" y2="393.3" stroke="#d2d2d2" stroke-width="2.6" />
<line x1="222.8" y1="347.9" x2="222.8" y2="138.6" stroke="#d2d2d2" stroke-width="2.6" />
<line x1="660.5" y1="564.5" x2="222.8" y2="347.9" stroke="#d2d2d2" stroke-width="2.6" />
<line x1="316.9" y1="301.8" x2="316.9" y2="92.3" stroke="#d2d2d2" stroke-width="2.6" />
<line x1="751.9" y1="519.0" x2="316.9" y2="301.8" stroke="#d2d2d2" stroke-width="2.6" />
<line x1="411.4" y1="255.6" x2="411.4" y2="45.9" stroke="#d2d2d2" stroke-width="2.6" />
<line x1="846.0" y1="472.2" x2="411.4" y2="255.6" stroke="#d2d2d2" stroke-width="2.6" />
<line x1="522.9" y1="224.2" x2="522.9" y2="14.3" stroke="#d2d2d2" stroke-width="2.6" />
<line x1="82.5" y1="439.8" x2="522.9" y2="224.2" stroke="#d2d2d2" stroke-width="2.6" />
<line x1="613.6" y1="269.4" x2="613.6" y2="59.7" stroke="#d2d2d2" stroke-width="2.6" />
<line x1="173.4" y1="485.7" x2="613.6" y2="269.4" stroke="#d2d2d2" stroke-width="2.6" />
<line x1="705.6" y1="315.2" x2="705.6" y2="105.9" stroke="#d2d2d2" stroke-width="2.6" />
<line x1="265.6" y1="532.2" x2="705.6" y2="315.2" stroke="#d2d2d2" stroke-width="2.6" />
<line x1="799.0" y1="361.7" x2="799.0" y2="152.6" stroke="#d2d2d2" stroke-width="2.6" />
<line x1="359.1" y1="579.3" x2="799.0" y2="361.7" stroke="#d2d2d2" stroke-width="2.6" />
<line x1="889.2" y1="406.6" x2="889.2" y2="197.9" stroke="#d2d2d2" stroke-width="2.6" />
<line x1="449.5" y1="624.9" x2="889.2" y2="406.6" stroke="#d2d2d2" stroke-width="2.6" />
<line x1="59.0" y1="300.0" x2="499.5" y2="85.0" stroke="#d2d2d2" stroke-width="2.6" />
<line x1="499.5" y1="85.0" x2="933.5" y2="301.7" stroke="#d2d2d2" stroke-width="2.6" />
<line x1="59.0" y1="428.0" x2="59.0" y2="219.2" stroke="#1e1e1e" stroke-width="3.6" />
<line x1="59.0" y1="219.2" x2="499.5" y2="2.5" stroke="#1e1e1e" stroke-width="3.6" />
<line x1="499.5" y1="2.5" x2="933.5" y2="220.1" stroke="#1e1e1e" stroke-width="3.6" />
<line x1="933.5" y1="220.1" x2="933.5" y2="428.7" stroke="#1e1e1e" stroke-width="3.6" />
<line x1="499.5" y1="212.5" x2="499.5" y2="2.5" stroke="#333" stroke-width="3.8000000000000003" />
<line x1="59.0" y1="428.0" x2="499.5" y2="212.5" stroke="#1e1e1e" stroke-width="3.6" />
<line x1="499.5" y1="212.5" x2="933.5" y2="428.7" stroke="#1e1e1e" stroke-width="3.6" />
<polyline points="86.5,441.5 87.4,440.7 88.4,438.3 89.3,439.1 90.2,440.0 91.1,438.3 92.1,436.1 93.0,435.8 93.9,436.3 94.9,435.5 95.8,435.1 96.7,435.0 97.6,431.3 98.6,433.0 99.5,433.7 100.4,432.3 101.4,430.1 102.3,429.6 103.2,429.9 104.1,429.9 105.1,428.4 106.0,429.8 106.9,428.7 107.8,425.5 108.8,426.4 109.7,424.7 110.6,423.0 111.6,423.0 112.5,423.2 113.4,419.9 114.3,421.1 115.3,421.7 116.2,419.7 117.1,419.4 118.1,420.3 119.0,418.5 119.9,418.2 120.8,419.8 121.8,416.9 122.7,416.4 123.6,415.9 124.6,416.8 125.5,414.5 126.4,413.5 127.3,412.7 128.3,413.5 129.2,410.7 130.1,412.3 131.1,410.4 132.0,407.7 132.9,409.4 133.8,408.4 134.8,405.7 135.7,406.8 136.6,405.9 137.5,404.5 138.5,402.7 139.4,406.0 140.3,403.5 141.3,402.9 142.2,402.2 143.1,401.0 144.0,400.2 145.0,397.9 145.9,398.6 146.8,396.5 147.8,395.3 148.7,395.9 149.6,394.0 150.5,391.3 151.5,392.1 152.4,392.4 153.3,390.9 154.3,391.1 155.2,388.8 156.1,387.7 157.0,391.2 158.0,392.3 158.9,392.5 159.8,394.9 160.8,393.4 161.7,394.2 162.6,393.2 163.5,392.2 164.5,388.2 165.4,390.7 166.3,390.1 167.3,389.5 168.2,388.3 169.1,386.6 170.0,386.5 171.0,383.6 171.9,385.1 172.8,383.8 173.7,385.8 174.7,386.0 175.6,389.1 176.5,388.1 177.5,388.7 178.4,389.5 179.3,392.4 180.2,389.4 181.2,391.5 182.1,391.8 183.0,391.1 184.0,390.4 184.9,389.0 185.8,390.4 186.7,389.4 187.7,387.3 188.6,386.9 189.5,386.9 190.5,386.5 191.4,386.2 192.3,383.4 193.2,379.9 194.2,380.6 195.1,375.5 196.0,374.3 197.0,373.8 197.9,370.3 198.8,371.0 199.7,369.3 200.7,366.8 201.6,364.6 202.5,364.2 203.4,364.3 204.4,363.3 205.3,365.8 206.2,362.5 207.2,364.6 208.1,363.5 209.0,363.0 209.9,363.1 210.9,362.5 211.8,361.1 212.7,359.0 213.7,357.4 214.6,356.5 215.5,357.4 216.4,356.3 217.4,355.5 218.3,353.0 219.2,355.9 220.2,353.5 221.1,357.1 222.0,359.0 222.9,359.2 223.9,359.6 224.8,360.7 225.7,360.0 226.7,361.2 227.6,360.1 228.5,360.2 229.4,362.0 230.4,360.3 231.3,362.0 232.2,362.2 233.2,363.6 234.1,360.2 235.0,355.2 235.9,354.1 236.9,347.9 237.8,344.1 238.7,340.1 239.6,338.9 240.6,332.2 241.5,331.4 242.4,336.9 243.4,339.6 244.3,346.3 245.2,346.3 246.1,351.1 247.1,350.7 248.0,355.2 248.9,353.4 249.9,355.8 250.8,355.8 251.7,359.1 252.6,360.0 253.6,357.4 254.5,360.7 255.4,360.0 256.4,358.8 257.3,359.1 258.2,355.8 259.1,354.5 260.1,356.8 261.0,357.4 261.9,352.9 262.9,351.9 263.8,351.1 264.7,349.6 265.6,350.9 266.6,349.0 267.5,349.3 268.4,347.9 269.3,343.5 270.3,344.0 271.2,339.0 272.1,340.1 273.1,339.5 274.0,335.7 274.9,331.0 275.8,329.1 276.8,327.7 277.7,322.4 278.6,317.7 279.6,316.5 280.5,313.4 281.4,311.6 282.3,316.0 283.3,320.9 284.2,323.4 285.1,327.2 286.1,329.3 287.0,331.5 287.9,332.0 288.8,334.3 289.8,338.8 290.7,338.2 291.6,339.3 292.6,341.3 293.5,340.7 294.4,340.1 295.3,339.5 296.3,339.0 297.2,338.4 298.1,337.8 299.1,337.3 300.0,336.8 300.9,336.4 301.8,335.9 302.8,335.5 303.7,335.0 304.6,334.6 305.5,334.1 306.5,333.7 307.4,333.2 308.3,332.8 316.5,328.8 333.0,320.8 349.4,312.8 365.8,304.8 382.3,296.9 398.7,288.9 415.1,280.9 431.6,272.9 448.0,264.9 464.4,257.0 480.9,249.0 497.3,241.0 497.8,239.7 498.3,241.2 498.8,240.6 499.3,238.3 499.8,239.5 500.3,238.0 500.8,234.3 501.3,234.3 501.8,233.6 502.3,230.5 502.8,230.5 503.3,226.8 503.8,225.0 504.3,221.7 504.8,212.3 505.3,202.0 505.8,192.6 506.3,184.0 506.8,173.1 507.3,165.9 507.8,155.0 508.3,145.4 508.8,135.8 509.3,125.7 509.8,117.6 510.3,113.3 510.8,113.0 511.3,112.4 511.8,112.1 512.3,110.9 512.8,108.6 513.3,108.8 513.8,106.9 514.3,103.6 514.8,95.4 515.3,86.7 515.8,80.2 516.3,72.7 516.8,62.6 517.3,55.0 517.8,46.1 518.3,38.8 518.8,29.6 519.3,21.7 519.8,21.7 520.3,27.2 520.8,32.5 521.3,38.0 521.8,43.3 522.3,47.9 522.8,54.5 523.3,57.7 523.8,64.7 524.3,69.0 524.8,75.2 525.3,80.7 525.8,83.9 526.3,94.6 526.8,104.0 527.3,112.1 527.8,120.4 528.3,126.7 528.8,137.1 529.3,145.0 529.8,155.3" fill="none" stroke="#0000ff" stroke-width="3.6" stroke-linejoin="round" stroke-linecap="round"/>
<polyline points="114.2,455.1 115.1,453.6 116.0,451.6 116.9,454.0 117.8,451.7 118.8,451.4 119.7,452.4 120.6,450.5 121.5,450.1 122.5,451.9 123.4,447.8 124.3,447.2 125.2,447.7 126.2,448.1 127.1,444.1 128.0,444.9 128.9,443.3 129.9,442.2 130.8,443.8 131.7,441.6 132.6,442.2 133.6,441.3 134.5,440.6 135.4,439.9 136.3,437.9 137.3,438.4 138.2,438.1 139.1,437.6 140.0,436.2 141.0,437.0 141.9,435.9 142.8,434.7 143.7,434.7 144.7,433.5 145.6,433.4 146.5,429.6 147.4,429.8 148.4,430.2 149.3,430.2 150.2,426.8 151.1,428.4 152.1,428.2 153.0,427.1 153.9,426.5 154.8,424.5 155.7,425.6 156.7,422.4 157.6,425.3 158.5,422.8 159.4,424.2 160.4,420.1 161.3,422.0 162.2,421.1 163.1,419.2 164.1,418.2 165.0,420.4 165.9,418.8 166.8,419.4 167.8,416.9 168.7,416.6 169.6,416.2 170.5,416.0 171.5,415.0 172.4,414.7 173.3,412.4 174.2,410.4 175.2,413.8 176.1,410.8 177.0,410.4 177.9,408.5 178.9,409.5 179.8,407.7 180.7,408.0 181.6,405.1 182.6,405.1 183.5,404.9 184.4,404.9 185.3,406.5 186.3,409.0 187.2,407.4 188.1,408.5 189.0,408.8 190.0,406.8 190.9,405.8 191.8,407.9 192.7,406.8 193.7,403.4 194.6,402.8 195.5,404.7 196.4,404.6 197.3,403.2 198.3,402.4 199.2,403.0 200.1,400.4 201.0,401.3 202.0,401.3 202.9,399.1 203.8,401.3 204.7,400.9 205.7,400.3 206.6,400.4 207.5,402.1 208.4,402.0 209.4,403.3 210.3,400.5 211.2,401.7 212.1,403.2 213.1,401.3 214.0,399.8 214.9,399.5 215.8,397.2 216.8,397.2 217.7,398.8 218.6,397.7 219.5,398.5 220.5,395.8 221.4,394.3 222.3,389.4 223.2,390.7 224.2,391.5 225.1,387.9 226.0,385.1 226.9,384.9 227.9,382.6 228.8,380.1 229.7,377.4 230.6,376.8 231.6,377.1 232.5,374.5 233.4,375.5 234.3,374.8 235.3,375.2 236.2,373.9 237.1,371.6 238.0,373.7 238.9,371.2 239.9,369.7 240.8,370.4 241.7,369.0 242.6,370.0 243.6,366.5 244.5,366.2 245.4,367.8 246.3,370.9 247.3,370.8 248.2,369.1 249.1,368.9 250.0,371.3 251.0,370.9 251.9,373.9 252.8,373.9 253.7,372.9 254.7,371.7 255.6,373.2 256.5,369.5 257.4,368.3 258.4,370.5 259.3,369.9 260.2,367.1 261.1,367.6 262.1,368.7 263.0,361.9 263.9,358.7 264.8,355.5 265.8,348.4 266.7,346.9 267.6,347.4 268.5,349.8 269.5,354.6 270.4,357.8 271.3,360.0 272.2,364.5 273.2,366.6 274.1,365.6 275.0,368.2 275.9,369.8 276.9,371.5 277.8,371.8 278.7,370.8 279.6,372.8 280.5,370.7 281.5,374.3 282.4,373.6 283.3,375.1 284.2,374.1 285.2,372.8 286.1,370.5 287.0,371.9 287.9,369.9 288.9,369.1 289.8,368.4 290.7,367.7 291.6,365.0 292.6,366.0 293.5,362.5 294.4,361.5 295.3,361.1 296.3,360.2 297.2,359.2 298.1,353.9 299.0,356.3 300.0,351.3 300.9,351.0 301.8,350.7 302.7,348.7 303.7,342.7 304.6,338.5 305.5,338.3 306.4,334.2 307.4,329.2 308.3,327.5 309.2,327.8 310.1,334.2 311.1,336.2 312.0,341.6 312.9,340.5 313.8,346.1 314.8,350.1 315.7,349.8 316.6,351.4 317.5,348.9 318.5,351.6 319.4,351.2 320.3,351.2 321.2,351.2 322.1,351.2 323.1,351.2 324.0,351.2 324.9,351.2 325.8,351.2 326.8,351.2 327.7,351.0 328.6,350.3 329.5,349.6 330.5,348.8 331.4,348.0 332.3,347.3 333.2,346.5 334.2,345.7 335.1,344.9 343.3,340.3 359.6,332.6 376.0,324.8 392.4,317.1 408.7,309.4 425.1,301.7 441.5,293.9 457.8,286.2 474.2,278.5 490.6,270.8 506.9,263.0 523.3,255.3 523.8,255.0 524.3,256.1 524.8,253.6 525.3,252.1 525.8,254.5 526.3,251.7 526.8,249.8 527.3,247.0 527.8,244.4 528.3,241.6 528.8,241.4 529.3,236.8 529.8,236.8 530.3,230.3 530.8,220.4 531.3,211.6 531.8,204.0 532.3,194.6 532.8,185.3 533.3,175.7 533.8,165.5 534.3,158.6 534.8,147.9 535.3,139.3 535.8,131.9 536.3,129.8 536.8,127.8 537.3,127.8 537.8,126.4 538.3,125.7 538.8,123.6 539.3,126.0 539.8,122.1 540.3,121.4 540.8,114.0 541.3,107.2 541.8,100.6 542.3,91.9 542.8,84.7 543.3,76.2 543.8,70.6 544.3,60.5 544.8,56.2 545.3,51.8 545.8,53.4 546.3,58.7 546.8,64.2 547.3,68.9 547.8,73.7 548.3,79.1 548.8,85.4 549.3,89.6 549.8,95.4 550.3,99.8 550.8,103.6 551.3,110.1 551.8,116.3 552.3,125.3 552.8,132.9 553.3,141.0 553.8,146.7 554.3,155.8 554.8,162.9 555.3,169.9" fill="none" stroke="#1800ff" stroke-width="3.6" stroke-linejoin="round" stroke-linecap="round"/>
<line x1="367.9" y1="334.8" x2="367.9" y2="741.0" stroke="#0000ff" stroke-width="4.4" />
<polyline points="141.8,468.7 142.7,466.3 143.6,468.1 144.6,466.9 145.5,466.8 146.4,464.0 147.3,465.6 148.3,465.0 149.2,464.6 150.1,463.9 151.0,460.9 152.0,457.7 152.9,461.2 153.8,458.2 154.7,458.3 155.7,459.2 156.6,457.5 157.5,456.9 158.4,456.9 159.4,453.2 160.3,457.3 161.2,454.0 162.1,453.5 163.0,454.0 164.0,452.6 164.9,451.1 165.8,451.5 166.7,450.6 167.7,449.7 168.6,452.4 169.5,447.6 170.4,446.1 171.4,447.1 172.3,446.5 173.2,448.9 174.1,446.8 175.1,447.1 176.0,446.2 176.9,443.8 177.8,445.4 178.8,444.0 179.7,445.6 180.6,443.0 181.5,442.1 182.5,442.5 183.4,442.0 184.3,438.3 185.2,441.5 186.1,440.7 187.1,439.9 188.0,436.9 188.9,435.2 189.8,436.5 190.8,437.0 191.7,435.8 192.6,433.3 193.5,434.9 194.5,431.2 195.4,430.5 196.3,431.3 197.2,429.9 198.2,429.0 199.1,427.2 200.0,429.5 200.9,426.1 201.9,427.2 202.8,426.9 203.7,425.0 204.6,424.6 205.5,424.8 206.5,424.7 207.4,423.2 208.3,419.5 209.2,418.3 210.2,420.4 211.1,420.3 212.0,423.0 212.9,423.1 213.9,423.1 214.8,424.4 215.7,423.6 216.6,421.6 217.6,421.4 218.5,421.6 219.4,419.2 220.3,419.3 221.3,417.0 222.2,417.6 223.1,417.2 224.0,416.0 224.9,415.7 225.9,415.6 226.8,414.7 227.7,413.2 228.6,413.5 229.6,412.8 230.5,416.5 231.4,415.1 232.3,415.2 233.3,414.6 234.2,415.5 235.1,415.7 236.0,414.3 237.0,415.1 237.9,416.8 238.8,414.0 239.7,414.4 240.7,415.7 241.6,413.2 242.5,414.3 243.4,411.3 244.4,412.2 245.3,412.1 246.2,410.8 247.1,410.5 248.0,408.6 249.0,407.8 249.9,406.8 250.8,405.6 251.7,407.5 252.7,401.1 253.6,401.6 254.5,397.2 255.4,394.3 256.4,393.5 257.3,392.5 258.2,391.1 259.1,390.3 260.1,390.0 261.0,389.2 261.9,388.9 262.8,385.5 263.8,386.2 264.7,384.3 265.6,384.9 266.5,383.7 267.4,383.3 268.4,381.7 269.3,381.2 270.2,382.5 271.1,384.1 272.1,384.8 273.0,382.4 273.9,385.3 274.8,385.9 275.8,384.3 276.7,385.3 277.6,386.4 278.5,387.9 279.5,384.9 280.4,387.6 281.3,387.8 282.2,389.1 283.2,390.9 284.1,391.2 285.0,388.7 285.9,386.1 286.8,383.9 287.8,382.0 288.7,379.3 289.6,374.7 290.5,372.1 291.5,365.2 292.4,360.8 293.3,354.7 294.2,356.7 295.2,362.2 296.1,366.3 297.0,373.1 297.9,373.4 298.9,375.7 299.8,375.7 300.7,377.4 301.6,378.7 302.6,380.5 303.5,381.2 304.4,381.6 305.3,385.9 306.2,386.5 307.2,387.8 308.1,383.2 309.0,382.7 309.9,382.4 310.9,383.8 311.8,381.2 312.7,380.7 313.6,379.4 314.6,378.8 315.5,377.0 316.4,377.1 317.3,374.7 318.3,374.0 319.2,372.5 320.1,370.1 321.0,368.3 322.0,364.5 322.9,363.6 323.8,360.7 324.7,359.4 325.7,358.5 326.6,353.4 327.5,353.5 328.4,350.1 329.3,349.2 330.3,350.5 331.2,348.5 332.1,346.8 333.0,345.9 334.0,345.2 334.9,341.7 335.8,342.3 336.7,344.6 337.7,348.8 338.6,351.1 339.5,355.5 340.4,357.8 341.4,358.5 342.3,360.5 343.2,362.5 344.1,364.6 345.1,364.4 346.0,365.5 346.9,367.0 347.8,367.1 348.7,367.0 349.7,366.8 350.6,366.7 351.5,366.5 352.4,366.4 353.4,366.2 354.3,366.1 355.2,365.9 356.1,365.8 357.1,365.3 358.0,364.5 358.9,363.6 359.8,362.8 360.8,362.0 361.7,361.2 362.6,360.4 370.8,356.1 387.1,348.0 403.5,339.9 419.9,331.8 436.2,323.7 452.6,315.6 468.9,307.5 485.3,299.4 501.6,291.2 518.0,283.1 534.3,275.0 550.7,266.9 551.2,266.4 551.7,266.2 552.2,266.9 552.7,267.8 553.2,266.3 553.7,264.8 554.2,260.3 554.7,257.7 555.2,256.5 555.7,251.7 556.2,248.9 556.7,246.9 557.2,242.8 557.7,236.9 558.2,231.1 558.7,220.6 559.2,212.6 559.7,204.1 560.2,195.1 560.7,188.1 561.2,179.4 561.7,171.1 562.2,162.5 562.7,154.7 563.2,150.5 563.7,148.3 564.2,145.9 564.7,145.5 565.2,144.1 565.7,145.2 566.2,143.3 566.7,142.1 567.2,140.6 567.7,139.4 568.2,131.5 568.7,125.9 569.2,119.3 569.7,112.8 570.2,105.7 570.7,100.2 571.2,92.3 571.7,86.4 572.2,83.8 572.7,82.0 573.2,83.8 573.7,88.4 574.2,93.4 574.7,99.0 575.2,103.5 575.7,109.2 576.2,113.2 576.7,119.3 577.2,126.3 577.7,128.4 578.2,134.7 578.7,141.1 579.2,145.4 579.7,153.0 580.2,157.2 580.7,165.5 581.2,174.3 581.7,179.3 582.2,187.0 582.7,189.2" fill="none" stroke="#2200ff" stroke-width="3.6" stroke-linejoin="round" stroke-linecap="round"/>
<polyline points="169.4,482.3 170.4,484.4 171.3,481.0 172.2,480.9 173.2,480.3 174.1,481.8 175.0,478.1 175.9,476.0 176.9,479.7 177.8,475.4 178.7,476.8 179.6,472.7 180.6,474.4 181.5,474.5 182.4,472.4 183.4,472.4 184.3,473.2 185.2,471.0 186.1,471.8 187.1,472.8 188.0,467.6 188.9,469.8 189.8,469.5 190.8,467.7 191.7,469.4 192.6,468.5 193.5,466.9 194.5,466.3 195.4,465.0 196.3,463.1 197.3,464.4 198.2,462.6 199.1,461.9 200.0,463.3 201.0,461.1 201.9,461.9 202.8,458.9 203.7,459.0 204.7,458.9 205.6,460.0 206.5,457.7 207.4,458.2 208.4,455.9 209.3,456.3 210.2,456.6 211.2,454.0 212.1,453.7 213.0,454.7 213.9,452.0 214.9,453.2 215.8,452.7 216.7,451.6 217.6,452.1 218.6,451.2 219.5,450.3 220.4,447.7 221.3,446.9 222.3,448.0 223.2,444.9 224.1,445.9 225.1,444.5 226.0,443.0 226.9,442.7 227.8,439.3 228.8,440.9 229.7,441.8 230.6,437.8 231.5,439.0 232.5,437.9 233.4,440.2 234.3,434.5 235.2,433.8 236.2,432.9 237.1,432.7 238.0,432.8 239.0,435.8 239.9,435.6 240.8,438.5 241.7,438.3 242.7,436.0 243.6,436.2 244.5,437.6 245.4,434.9 246.4,434.9 247.3,435.0 248.2,432.8 249.1,433.1 250.1,433.9 251.0,432.7 251.9,428.5 252.9,431.9 253.8,429.4 254.7,428.6 255.6,428.2 256.6,430.1 257.5,428.7 258.4,427.8 259.3,426.7 260.3,428.1 261.2,428.3 262.1,425.4 263.0,424.9 264.0,425.5 264.9,426.3 265.8,424.7 266.8,424.7 267.7,423.4 268.6,425.5 269.5,423.5 270.5,423.4 271.4,424.2 272.3,422.2 273.2,422.0 274.2,422.1 275.1,420.8 276.0,422.5 276.9,420.3 277.9,418.3 278.8,417.0 279.7,414.5 280.7,415.8 281.6,414.7 282.5,411.1 283.4,409.4 284.4,405.9 285.3,406.5 286.2,407.6 287.1,404.8 288.1,406.0 289.0,406.0 289.9,400.3 290.8,402.3 291.8,401.0 292.7,400.4 293.6,398.2 294.6,399.3 295.5,397.6 296.4,399.7 297.3,399.6 298.3,395.6 299.2,395.0 300.1,395.7 301.0,395.6 302.0,395.3 302.9,395.9 303.8,392.8 304.7,393.5 305.7,393.3 306.6,393.0 307.5,391.8 308.5,392.1 309.4,391.4 310.3,393.3 311.2,391.1 312.2,388.8 313.1,391.9 314.0,391.2 314.9,389.7 315.9,389.4 316.8,389.6 317.7,392.0 318.6,387.4 319.6,386.6 320.5,383.3 321.4,378.8 322.4,377.1 323.3,376.0 324.2,376.5 325.1,382.7 326.1,386.0 327.0,391.2 327.9,393.4 328.8,395.3 329.8,396.1 330.7,398.2 331.6,399.1 332.5,400.0 333.5,402.4 334.4,403.5 335.3,403.2 336.3,400.6 337.2,400.8 338.1,399.3 339.0,398.9 340.0,400.2 340.9,398.7 341.8,400.9 342.7,396.1 343.7,397.0 344.6,398.4 345.5,398.6 346.4,395.5 347.4,396.8 348.3,394.2 349.2,391.1 350.2,390.5 351.1,389.9 352.0,386.8 352.9,387.7 353.9,384.6 354.8,383.9 355.7,382.8 356.6,379.7 357.6,379.9 358.5,374.1 359.4,374.0 360.3,367.8 361.3,368.4 362.2,363.3 363.1,362.3 364.1,359.4 365.0,357.2 365.9,360.0 366.8,365.7 367.8,366.1 368.7,371.8 369.6,373.2 370.5,374.9 371.5,376.7 372.4,381.6 373.3,379.6 374.3,382.4 375.2,383.1 376.1,383.2 377.0,383.3 378.0,383.4 378.9,383.5 379.8,383.6 380.7,383.7 381.7,383.9 382.6,383.9 383.5,383.6 384.4,382.9 385.4,382.2 386.3,381.4 387.2,380.7 388.2,380.0 389.1,379.3 390.0,378.6 390.9,377.8 399.1,373.3 415.5,364.6 431.9,356.0 448.4,347.4 464.8,338.8 481.2,330.1 497.6,321.5 514.0,312.9 530.4,304.3 546.8,295.6 563.2,287.0 579.6,278.4 580.1,279.2 580.6,278.0 581.1,277.6 581.6,278.0 582.1,276.7 582.6,274.4 583.1,272.1 583.6,268.2 584.1,263.6 584.6,262.9 585.1,258.3 585.6,255.2 586.1,252.1 586.6,248.2 587.1,237.8 587.6,231.6 588.1,224.0 588.6,216.1 589.1,207.4 589.6,200.0 590.1,192.3 590.6,183.1 591.1,177.0 591.6,171.1 592.1,165.9 592.6,164.5 593.1,163.2 593.6,164.2 594.1,161.3 594.6,160.9 595.1,158.8 595.6,160.6 596.1,158.3 596.6,157.4 597.1,152.9 597.6,146.4 598.1,139.1 598.6,134.8 599.1,129.4 599.6,122.3 600.1,116.5 600.6,110.8 601.1,111.7 601.6,111.6 602.1,113.7 602.6,120.0 603.1,124.8 603.6,128.2 604.1,132.2 604.6,139.4 605.1,145.5 605.6,149.2 606.1,153.6 606.6,157.9 607.1,162.2 607.6,167.9 608.1,173.5 608.6,178.7 609.1,185.8 609.6,191.0 610.1,197.6 610.6,200.6 611.1,208.4" fill="none" stroke="#3000ff" stroke-width="3.6" stroke-linejoin="round" stroke-linecap="round"/>
<polyline points="197.1,495.9 198.0,497.3 199.0,496.9 199.9,498.5 200.8,496.9 201.7,496.2 202.7,493.6 203.6,494.4 204.5,494.2 205.4,494.1 206.4,493.3 207.3,491.2 208.2,490.7 209.1,488.4 210.1,489.8 211.0,487.1 211.9,487.4 212.8,487.0 213.8,488.7 214.7,487.1 215.6,484.0 216.5,482.5 217.5,483.3 218.4,481.9 219.3,482.6 220.3,481.9 221.2,481.5 222.1,478.9 223.0,479.0 224.0,478.9 224.9,478.4 225.8,476.6 226.7,476.2 227.7,476.9 228.6,473.1 229.5,474.2 230.4,473.8 231.4,471.4 232.3,471.2 233.2,471.9 234.1,470.5 235.1,471.8 236.0,470.6 236.9,471.9 237.8,467.1 238.8,470.2 239.7,466.4 240.6,467.6 241.6,467.1 242.5,465.5 243.4,464.3 244.3,463.2 245.3,461.2 246.2,462.3 247.1,461.0 248.0,462.1 249.0,459.9 249.9,459.9 250.8,460.0 251.7,458.9 252.7,458.2 253.6,457.3 254.5,456.4 255.4,456.8 256.4,456.4 257.3,454.0 258.2,456.3 259.2,454.3 260.1,451.1 261.0,455.5 261.9,452.5 262.9,450.2 263.8,452.3 264.7,446.6 265.6,452.3 266.6,446.9 267.5,446.2 268.4,446.4 269.3,447.2 270.3,446.0 271.2,446.9 272.1,444.3 273.0,446.1 274.0,444.5 274.9,442.4 275.8,444.4 276.7,443.0 277.7,441.8 278.6,443.0 279.5,439.5 280.5,439.9 281.4,441.9 282.3,440.0 283.2,440.6 284.2,440.3 285.1,439.2 286.0,440.0 286.9,437.7 287.9,439.5 288.8,437.3 289.7,438.3 290.6,437.1 291.6,438.5 292.5,438.3 293.4,438.9 294.3,436.6 295.3,436.0 296.2,434.3 297.1,435.1 298.0,436.2 299.0,436.5 299.9,435.6 300.8,435.9 301.8,433.9 302.7,434.3 303.6,435.5 304.5,433.9 305.5,430.1 306.4,430.0 307.3,429.2 308.2,426.1 309.2,426.7 310.1,425.1 311.0,424.0 311.9,424.4 312.9,419.8 313.8,421.8 314.7,420.6 315.6,420.3 316.6,418.1 317.5,418.6 318.4,418.0 319.3,419.6 320.3,417.2 321.2,418.4 322.1,415.8 323.1,415.3 324.0,415.3 324.9,412.4 325.8,413.7 326.8,413.2 327.7,413.3 328.6,413.3 329.5,411.8 330.5,411.7 331.4,414.6 332.3,411.8 333.2,412.5 334.2,412.0 335.1,412.7 336.0,414.7 336.9,414.7 337.9,411.2 338.8,413.1 339.7,415.1 340.7,413.1 341.6,412.7 342.5,412.4 343.4,410.9 344.4,408.0 345.3,403.8 346.2,402.1 347.1,400.3 348.1,397.6 349.0,395.2 349.9,396.4 350.8,392.4 351.8,394.6 352.7,397.6 353.6,399.4 354.5,401.4 355.5,404.1 356.4,408.1 357.3,409.2 358.2,406.4 359.2,410.3 360.1,411.3 361.0,409.2 362.0,409.0 362.9,408.5 363.8,409.4 364.7,406.0 365.7,407.2 366.6,406.7 367.5,405.1 368.4,403.6 369.4,401.7 370.3,400.9 371.2,400.7 372.1,398.5 373.1,398.4 374.0,396.3 374.9,397.9 375.8,396.9 376.8,392.9 377.7,394.4 378.6,391.9 379.5,390.5 380.5,389.8 381.4,388.5 382.3,384.6 383.3,387.5 384.2,381.6 385.1,378.1 386.0,379.0 387.0,377.3 387.9,374.5 388.8,371.4 389.7,373.2 390.7,371.3 391.6,374.0 392.5,375.7 393.4,378.7 394.4,380.7 395.3,384.5 396.2,386.1 397.1,388.4 398.1,389.8 399.0,390.5 399.9,391.9 400.8,394.1 401.8,390.7 402.7,392.3 403.6,392.0 404.6,391.8 405.5,391.5 406.4,391.2 407.3,390.9 408.3,390.7 409.2,390.4 410.1,390.1 411.0,389.8 412.0,389.5 412.9,389.2 413.8,388.8 414.7,388.3 415.7,387.9 416.6,387.4 417.5,387.0 418.4,386.5 426.6,382.4 443.0,374.3 459.4,366.1 475.8,358.0 492.2,349.8 508.6,341.7 525.0,333.5 541.4,325.4 557.8,317.2 574.2,309.1 590.6,300.9 607.0,292.8 607.5,293.1 608.0,292.0 608.5,292.6 609.0,292.1 609.5,292.4 610.0,288.7 610.5,284.9 611.0,281.3 611.5,279.0 612.0,274.0 612.5,272.8 613.0,266.8 613.5,265.6 614.0,260.1 614.5,253.8 615.0,248.7 615.5,239.1 616.0,231.6 616.5,222.9 617.0,218.6 617.5,208.5 618.0,203.2 618.5,195.2 619.0,193.0 619.5,188.5 620.0,187.8 620.5,185.9 621.0,185.6 621.5,185.8 622.0,183.0 622.5,182.3 623.0,181.5 623.5,180.2 624.0,179.0 624.5,175.2 625.0,171.5 625.5,166.7 626.0,159.3 626.5,155.1 627.0,150.7 627.5,146.4 628.0,141.1 628.5,142.1 629.0,145.0 629.5,149.0 630.0,150.8 630.5,157.0 631.0,162.1 631.5,167.2 632.0,171.1 632.5,174.2 633.0,178.5 633.5,183.9 634.0,188.4 634.5,193.5 635.0,199.0 635.5,201.5 636.0,207.6 636.5,210.8 637.0,218.9 637.5,223.6 638.0,227.9 638.5,234.1" fill="none" stroke="#000000" stroke-width="3.6" stroke-linejoin="round" stroke-linecap="round"/>
<line x1="452.3" y1="376.0" x2="452.3" y2="797.0" stroke="#000" stroke-width="4.4" />
<polyline points="224.8,509.4 225.7,509.9 226.6,508.1 227.5,507.2 228.5,507.1 229.4,505.2 230.3,504.6 231.2,504.8 232.2,504.5 233.1,504.3 234.0,502.7 234.9,501.7 235.9,502.1 236.8,501.0 237.7,501.2 238.6,501.7 239.6,500.4 240.5,497.5 241.4,497.1 242.3,495.0 243.3,496.0 244.2,494.3 245.1,492.9 246.0,492.5 247.0,493.7 247.9,492.4 248.8,491.8 249.7,493.4 250.7,491.9 251.6,491.5 252.5,493.6 253.4,491.0 254.4,493.9 255.3,494.1 256.2,494.4 257.1,494.4 258.1,492.3 259.0,492.0 259.9,489.2 260.8,489.7 261.8,489.0 262.7,489.1 263.6,489.8 264.5,487.4 265.5,487.5 266.4,484.6 267.3,485.0 268.2,482.1 269.2,482.5 270.1,481.6 271.0,481.5 271.9,480.7 272.9,479.5 273.8,478.6 274.7,480.0 275.6,478.0 276.6,474.8 277.5,477.5 278.4,477.1 279.3,477.1 280.3,477.4 281.2,473.6 282.1,474.4 283.0,473.6 284.0,471.1 284.9,469.7 285.8,473.1 286.7,469.8 287.7,469.4 288.6,468.7 289.5,467.7 290.4,467.4 291.4,464.5 292.3,464.8 293.2,464.3 294.1,463.6 295.1,465.0 296.0,466.4 296.9,466.9 297.8,464.5 298.8,465.2 299.7,465.1 300.6,465.3 301.5,463.9 302.5,464.0 303.4,461.8 304.3,460.9 305.2,462.9 306.2,459.6 307.1,458.1 308.0,457.9 308.9,458.5 309.9,455.0 310.8,456.6 311.7,456.5 312.6,455.5 313.6,453.5 314.5,451.5 315.4,450.5 316.3,451.2 317.3,452.8 318.2,452.0 319.1,452.2 320.0,451.2 321.0,453.0 321.9,450.6 322.8,449.9 323.7,450.7 324.7,449.9 325.6,451.4 326.5,451.9 327.4,450.8 328.4,448.6 329.3,447.8 330.2,447.9 331.1,444.3 332.1,444.4 333.0,440.6 333.9,440.2 334.8,439.6 335.8,436.5 336.7,436.7 337.6,436.2 338.5,436.3 339.5,433.8 340.4,433.7 341.3,433.3 342.2,433.2 343.2,430.6 344.1,432.3 345.0,432.2 345.9,429.4 346.9,428.7 347.8,429.6 348.7,431.6 349.6,429.8 350.6,427.9 351.5,428.1 352.4,425.8 353.3,429.2 354.3,427.0 355.2,428.9 356.1,426.8 357.0,428.8 358.0,427.8 358.9,430.1 359.8,431.3 360.7,431.3 361.7,431.0 362.6,431.5 363.5,428.6 364.4,428.1 365.4,429.1 366.3,430.4 367.2,429.1 368.1,429.5 369.1,426.7 370.0,427.8 370.9,426.1 371.8,424.4 372.8,423.5 373.7,419.1 374.6,416.7 375.5,412.1 376.5,409.6 377.4,407.9 378.3,407.1 379.2,406.7 380.2,411.7 381.1,413.6 382.0,414.7 382.9,417.2 383.9,418.8 384.8,419.5 385.7,420.0 386.6,424.8 387.6,421.9 388.5,421.0 389.4,420.3 390.3,419.6 391.3,419.0 392.2,416.5 393.1,417.5 394.0,416.2 395.0,415.3 395.9,414.3 396.8,413.8 397.7,411.6 398.7,411.8 399.6,410.5 400.5,409.6 401.4,409.6 402.4,408.2 403.3,407.3 404.2,404.7 405.1,404.6 406.1,403.9 407.0,401.2 407.9,399.7 408.8,401.0 409.8,395.5 410.7,396.1 411.6,394.9 412.5,392.0 413.5,391.8 414.4,391.3 415.3,386.5 416.2,389.0 417.2,386.5 418.1,385.8 419.0,390.1 419.9,390.9 420.9,392.3 421.8,391.9 422.7,397.8 423.7,398.8 424.6,399.9 425.5,402.6 426.4,405.4 427.4,403.7 428.3,404.3 429.2,404.2 430.1,405.0 431.1,405.2 432.0,405.5 432.9,405.7 433.8,406.0 434.8,406.1 435.7,405.6 436.6,405.1 437.5,404.7 438.5,404.2 439.4,403.7 440.3,403.3 441.2,402.8 442.2,402.3 443.1,401.9 444.0,401.4 444.9,400.9 445.9,400.5 454.0,396.4 470.4,388.1 486.8,379.9 503.2,371.6 519.6,363.4 535.9,355.1 552.3,346.9 568.7,338.6 585.1,330.4 601.4,322.1 617.8,313.9 634.2,305.6 634.7,305.7 635.2,304.8 635.7,304.7 636.2,303.1 636.7,307.6 637.2,300.7 637.7,300.5 638.2,293.1 638.7,295.1 639.2,290.5 639.7,288.4 640.2,280.0 640.7,281.6 641.2,273.7 641.7,268.5 642.2,264.2 642.7,255.6 643.2,247.7 643.7,242.8 644.2,234.7 644.7,230.5 645.2,223.6 645.7,217.9 646.2,212.7 646.7,209.3 647.2,211.0 647.7,210.4 648.2,210.8 648.7,210.2 649.2,205.8 649.7,209.1 650.2,208.0 650.7,205.8 651.2,205.5 651.7,197.7 652.2,200.6 652.7,192.2 653.2,187.7 653.7,186.6 654.2,181.8 654.7,176.1 655.2,170.2 655.7,176.6 656.2,181.5 656.7,181.3 657.2,184.4 657.7,191.2 658.2,198.1 658.7,196.1 659.2,202.7 659.7,204.5 660.2,210.2 660.7,214.8 661.2,219.2 661.7,220.3 662.2,224.6 662.7,234.6 663.2,236.9 663.7,236.8 664.2,244.5 664.7,250.4 665.2,252.4 665.7,256.8" fill="none" stroke="#ff00be" stroke-width="3.6" stroke-linejoin="round" stroke-linecap="round"/>
<polyline points="252.4,523.1 253.3,522.8 254.2,521.7 255.2,520.9 256.1,519.1 257.0,519.7 257.9,518.3 258.9,517.4 259.8,514.9 260.7,515.3 261.6,515.2 262.6,513.7 263.5,513.1 264.4,511.5 265.3,511.5 266.3,509.2 267.2,509.0 268.1,509.9 269.0,509.6 270.0,507.3 270.9,507.0 271.8,507.0 272.7,508.0 273.7,507.7 274.6,504.9 275.5,504.7 276.4,505.1 277.4,507.9 278.3,505.5 279.2,507.8 280.1,507.0 281.1,507.4 282.0,509.1 282.9,508.5 283.8,509.6 284.8,507.6 285.7,508.0 286.6,504.7 287.5,504.5 288.5,502.8 289.4,502.8 290.3,503.4 291.2,501.5 292.2,501.8 293.1,499.9 294.0,499.6 294.9,500.6 295.9,498.7 296.8,498.0 297.7,497.8 298.6,495.7 299.6,494.2 300.5,496.1 301.4,495.6 302.3,497.3 303.3,494.2 304.2,494.0 305.1,495.5 306.0,492.0 306.9,491.1 307.9,492.2 308.8,491.2 309.7,491.3 310.6,488.7 311.6,490.9 312.5,488.9 313.4,485.6 314.3,487.3 315.3,485.8 316.2,485.4 317.1,485.5 318.0,483.0 319.0,481.4 319.9,482.0 320.8,479.2 321.7,477.0 322.7,476.3 323.6,479.1 324.5,478.0 325.4,478.4 326.4,474.8 327.3,475.0 328.2,474.6 329.1,476.1 330.1,476.1 331.0,474.1 331.9,473.5 332.8,474.1 333.8,472.4 334.7,471.2 335.6,471.1 336.5,472.1 337.5,472.8 338.4,470.1 339.3,469.0 340.2,468.9 341.2,468.6 342.1,468.4 343.0,466.1 343.9,466.5 344.9,465.7 345.8,466.5 346.7,465.5 347.6,464.3 348.6,465.4 349.5,465.5 350.4,464.1 351.3,461.9 352.3,462.9 353.2,461.1 354.1,462.7 355.0,462.7 355.9,463.7 356.9,462.4 357.8,459.7 358.7,460.8 359.6,460.0 360.6,459.8 361.5,460.4 362.4,460.3 363.3,459.2 364.3,457.6 365.2,456.9 366.1,456.0 367.0,455.4 368.0,455.6 368.9,454.1 369.8,454.0 370.7,450.7 371.7,453.5 372.6,450.3 373.5,446.3 374.4,448.6 375.4,448.6 376.3,446.4 377.2,443.9 378.1,444.7 379.1,442.8 380.0,442.5 380.9,442.7 381.8,438.2 382.8,441.7 383.7,442.2 384.6,442.0 385.5,440.7 386.5,440.5 387.4,439.8 388.3,440.4 389.2,442.0 390.2,439.5 391.1,440.3 392.0,440.0 392.9,441.3 393.9,440.0 394.8,439.9 395.7,438.9 396.6,439.2 397.6,435.6 398.5,433.8 399.4,433.5 400.3,431.2 401.3,429.7 402.2,425.9 403.1,428.3 404.0,423.9 405.0,423.7 405.9,422.2 406.8,422.7 407.7,426.6 408.6,427.8 409.6,431.1 410.5,429.9 411.4,433.3 412.3,435.1 413.3,438.8 414.2,437.7 415.1,434.2 416.0,434.9 417.0,434.2 417.9,432.6 418.8,433.7 419.7,430.4 420.7,430.5 421.6,429.1 422.5,429.7 423.4,427.4 424.4,428.0 425.3,425.1 426.2,423.9 427.1,423.1 428.1,422.5 429.0,421.3 429.9,424.3 430.8,419.0 431.8,419.3 432.7,417.8 433.6,417.2 434.5,417.4 435.5,415.1 436.4,412.2 437.3,409.8 438.2,410.9 439.2,409.8 440.1,405.5 441.0,406.9 441.9,401.9 442.9,402.9 443.8,402.6 444.7,398.9 445.6,397.7 446.6,403.4 447.5,402.0 448.4,406.4 449.3,406.4 450.3,410.9 451.2,414.5 452.1,414.1 453.0,414.9 454.0,413.9 454.9,414.7 455.8,416.3 456.7,417.8 457.7,417.9 458.6,418.3 459.5,418.6 460.4,419.0 461.3,419.3 462.3,419.7 463.2,419.8 464.1,419.4 465.0,418.9 466.0,418.5 466.9,418.0 467.8,417.5 468.7,417.0 469.7,416.6 470.6,416.1 471.5,415.6 472.4,415.1 473.4,414.7 481.6,410.4 497.9,402.0 514.3,393.6 530.7,385.1 547.0,376.7 563.4,368.2 579.8,359.8 596.1,351.4 612.5,342.9 628.9,334.5 645.2,326.0 661.6,317.6 662.1,317.0 662.6,315.7 663.1,314.1 663.6,315.5 664.1,315.1 664.6,314.5 665.1,310.8 665.6,305.3 666.1,300.5 666.6,297.4 667.1,292.5 667.6,291.0 668.1,286.4 668.6,279.2 669.1,274.5 669.6,268.5 670.1,263.9 670.6,254.4 671.1,251.5 671.6,242.8 672.1,239.7 672.6,230.6 673.1,230.8 673.6,225.6 674.1,228.7 674.6,226.1 675.1,222.8 675.6,225.2 676.1,222.6 676.6,222.4 677.1,224.2 677.6,218.8 678.1,217.5 678.6,218.8 679.1,213.6 679.6,213.3 680.1,211.1 680.6,206.9 681.1,205.5 681.6,198.2 682.1,203.5 682.6,200.2 683.1,202.9 683.6,211.5 684.1,215.0 684.6,215.1 685.1,220.7 685.6,223.1 686.1,225.8 686.6,232.0 687.1,237.0 687.6,243.5 688.1,242.6 688.6,247.6 689.1,248.8 689.6,252.2 690.1,258.0 690.6,256.3 691.1,260.5 691.6,264.1 692.1,270.6 692.6,272.6 693.1,276.0" fill="none" stroke="#ff01aa" stroke-width="3.6" stroke-linejoin="round" stroke-linecap="round"/>
<polyline points="280.0,536.3 281.0,536.9 281.9,534.2 282.8,533.7 283.8,532.7 284.7,533.0 285.6,530.0 286.5,530.5 287.5,533.2 288.4,529.9 289.3,528.4 290.2,526.4 291.2,527.3 292.1,526.5 293.0,526.3 293.9,524.0 294.9,524.7 295.8,524.2 296.7,523.6 297.6,521.4 298.6,522.0 299.5,522.7 300.4,519.3 301.3,520.2 302.3,518.2 303.2,517.7 304.1,517.0 305.0,517.5 306.0,519.8 306.9,519.7 307.8,521.4 308.7,518.2 309.7,520.1 310.6,519.3 311.5,521.3 312.4,522.6 313.4,517.5 314.3,518.4 315.2,517.6 316.1,516.9 317.1,515.3 318.0,514.7 318.9,516.4 319.8,512.4 320.8,513.6 321.7,512.7 322.6,509.3 323.5,509.8 324.5,510.9 325.4,512.2 326.3,509.4 327.2,508.4 328.2,508.7 329.1,509.7 330.0,508.7 330.9,508.8 331.9,506.5 332.8,505.4 333.7,504.6 334.6,506.3 335.6,504.7 336.5,503.8 337.4,504.6 338.3,503.7 339.3,500.2 340.2,501.6 341.1,499.8 342.0,500.5 343.0,499.0 343.9,500.2 344.8,497.2 345.7,494.8 346.7,492.8 347.6,493.0 348.5,492.7 349.5,492.5 350.4,492.5 351.3,491.3 352.2,489.8 353.2,490.8 354.1,488.1 355.0,489.7 355.9,490.0 356.9,488.5 357.8,488.6 358.7,487.6 359.6,483.9 360.6,484.9 361.5,483.7 362.4,482.0 363.3,481.2 364.3,482.7 365.2,479.8 366.1,480.3 367.0,480.3 368.0,479.3 368.9,481.1 369.8,479.9 370.7,478.6 371.7,477.3 372.6,478.0 373.5,477.3 374.4,475.5 375.4,474.5 376.3,474.8 377.2,473.8 378.1,475.3 379.1,474.7 380.0,473.5 380.9,473.8 381.8,473.6 382.8,470.5 383.7,472.3 384.6,472.7 385.5,470.5 386.5,468.4 387.4,470.1 388.3,468.2 389.2,469.8 390.2,469.4 391.1,469.1 392.0,468.0 392.9,465.2 393.9,468.3 394.8,464.5 395.7,467.3 396.6,465.9 397.6,464.3 398.5,464.1 399.4,464.1 400.3,466.1 401.3,463.3 402.2,464.5 403.1,459.8 404.0,462.8 405.0,461.9 405.9,463.1 406.8,461.9 407.7,462.5 408.7,459.4 409.6,460.5 410.5,459.1 411.4,460.1 412.4,459.4 413.3,456.8 414.2,459.1 415.2,459.6 416.1,456.5 417.0,458.0 417.9,456.8 418.9,454.8 419.8,456.5 420.7,454.1 421.6,455.6 422.6,452.6 423.5,452.5 424.4,453.7 425.3,451.4 426.3,450.1 427.2,446.8 428.1,443.7 429.0,444.8 430.0,439.9 430.9,440.6 431.8,438.0 432.7,439.3 433.7,436.5 434.6,440.8 435.5,442.5 436.4,445.4 437.4,445.2 438.3,450.9 439.2,450.2 440.1,449.2 441.1,452.0 442.0,450.8 442.9,449.4 443.8,450.4 444.8,448.7 445.7,446.9 446.6,447.1 447.5,446.2 448.5,446.4 449.4,444.9 450.3,444.5 451.2,442.2 452.2,442.3 453.1,442.8 454.0,444.3 454.9,439.3 455.9,438.0 456.8,438.9 457.7,439.0 458.6,436.8 459.6,433.1 460.5,434.3 461.4,432.4 462.3,430.4 463.3,428.0 464.2,428.2 465.1,426.7 466.0,425.4 467.0,421.0 467.9,419.8 468.8,419.4 469.7,419.1 470.7,416.6 471.6,413.1 472.5,413.7 473.4,413.5 474.4,416.7 475.3,419.4 476.2,421.5 477.1,424.3 478.1,428.4 479.0,430.1 479.9,427.3 480.8,431.9 481.8,431.4 482.7,429.9 483.6,431.7 484.6,432.9 485.5,432.2 486.4,432.6 487.3,433.0 488.3,433.3 489.2,433.7 490.1,433.9 491.0,433.5 492.0,433.0 492.9,432.6 493.8,432.1 494.7,431.7 495.7,431.2 496.6,430.7 497.5,430.3 498.4,429.8 499.4,429.4 500.3,428.9 501.2,428.4 509.4,424.2 525.8,415.8 542.2,407.3 558.5,398.9 574.9,390.4 591.3,382.0 607.7,373.5 624.1,365.1 640.5,356.6 656.8,348.2 673.2,339.7 689.6,331.3 690.1,333.7 690.6,333.3 691.1,331.0 691.6,329.5 692.1,329.5 692.6,325.3 693.1,321.3 693.6,319.2 694.1,316.7 694.6,315.0 695.1,311.5 695.6,305.0 696.1,298.1 696.6,292.4 697.1,287.0 697.6,281.4 698.1,274.4 698.6,269.3 699.1,263.4 699.6,257.7 700.1,253.3 700.6,250.3 701.1,247.2 701.6,246.6 702.1,247.0 702.6,246.6 703.1,241.6 703.6,245.8 704.1,243.6 704.6,241.5 705.1,242.5 705.6,239.2 706.1,235.2 706.6,235.3 707.1,234.5 707.6,233.2 708.1,232.7 708.6,230.0 709.1,230.5 709.6,229.7 710.1,230.4 710.6,232.7 711.1,237.2 711.6,240.2 712.1,248.1 712.6,246.5 713.1,248.2 713.6,253.4 714.1,259.6 714.6,264.0 715.1,265.8 715.6,271.4 716.1,271.9 716.6,276.2 717.1,276.0 717.6,277.6 718.1,285.3 718.6,283.8 719.1,287.7 719.6,291.1 720.1,292.0 720.6,293.6 721.1,293.9" fill="none" stroke="#ff0296" stroke-width="3.6" stroke-linejoin="round" stroke-linecap="round"/>
<line x1="534.1" y1="418.0" x2="534.1" y2="741.0" stroke="#ff0000" stroke-width="4.2" />
<polyline points="307.7,550.3 308.6,548.0 309.5,545.8 310.5,546.4 311.4,545.4 312.3,545.0 313.2,545.3 314.2,542.2 315.1,541.3 316.0,539.9 316.9,536.6 317.9,537.9 318.8,537.6 319.7,535.7 320.6,538.6 321.5,537.8 322.5,536.3 323.4,536.0 324.3,533.8 325.2,534.5 326.2,531.4 327.1,531.1 328.0,531.4 328.9,532.2 329.9,530.5 330.8,530.1 331.7,533.0 332.6,532.0 333.5,532.3 334.5,533.6 335.4,532.7 336.3,533.8 337.2,536.4 338.2,534.4 339.1,534.8 340.0,532.3 340.9,533.2 341.9,530.2 342.8,530.1 343.7,528.6 344.6,529.1 345.6,529.9 346.5,525.2 347.4,526.7 348.3,524.0 349.2,524.4 350.2,523.4 351.1,521.4 352.0,522.6 352.9,520.8 353.9,523.6 354.8,520.2 355.7,521.0 356.6,520.3 357.6,519.5 358.5,518.5 359.4,516.4 360.3,520.0 361.2,517.2 362.2,517.5 363.1,514.6 364.0,515.9 364.9,514.3 365.9,514.7 366.8,512.8 367.7,511.7 368.6,512.8 369.6,511.7 370.5,512.8 371.4,510.1 372.3,508.9 373.2,510.1 374.2,507.7 375.1,511.2 376.0,510.5 376.9,509.5 377.9,508.0 378.8,507.0 379.7,506.7 380.6,506.3 381.6,504.9 382.5,506.0 383.4,506.5 384.3,506.1 385.2,501.6 386.2,506.6 387.1,503.4 388.0,500.5 388.9,500.8 389.9,501.4 390.8,499.5 391.7,497.6 392.6,496.2 393.6,497.8 394.5,494.9 395.4,494.6 396.3,492.6 397.3,491.4 398.2,492.5 399.1,492.9 400.0,490.1 400.9,488.3 401.9,489.4 402.8,489.8 403.7,487.1 404.6,491.1 405.6,488.6 406.5,490.2 407.4,489.3 408.3,489.2 409.3,487.3 410.2,490.0 411.1,488.8 412.0,489.4 412.9,486.2 413.9,486.6 414.8,484.9 415.7,486.0 416.6,484.5 417.6,482.1 418.5,482.9 419.4,481.3 420.3,480.8 421.3,481.2 422.2,482.0 423.1,478.3 424.0,478.6 424.9,477.0 425.9,480.0 426.8,478.9 427.7,478.8 428.6,476.7 429.6,473.7 430.5,473.6 431.4,473.7 432.3,472.9 433.3,471.9 434.2,472.9 435.1,471.8 436.0,471.8 436.9,474.3 437.9,471.9 438.8,469.5 439.7,471.3 440.6,470.8 441.6,471.0 442.5,470.6 443.4,468.4 444.3,469.8 445.3,470.4 446.2,472.7 447.1,469.3 448.0,470.7 448.9,469.2 449.9,464.2 450.8,462.4 451.7,463.7 452.6,458.5 453.6,457.2 454.5,456.8 455.4,453.1 456.3,454.2 457.3,453.2 458.2,453.0 459.1,452.2 460.0,450.3 461.0,454.6 461.9,456.1 462.8,457.5 463.7,457.8 464.6,460.1 465.6,460.4 466.5,463.9 467.4,466.2 468.3,465.2 469.3,463.8 470.2,464.3 471.1,462.1 472.0,459.6 473.0,461.8 473.9,460.3 474.8,458.1 475.7,459.8 476.6,459.3 477.6,458.9 478.5,456.4 479.4,455.6 480.3,455.7 481.3,453.8 482.2,450.5 483.1,449.1 484.0,450.0 485.0,446.5 485.9,444.5 486.8,441.9 487.7,441.2 488.6,439.8 489.6,437.7 490.5,437.9 491.4,435.0 492.3,434.9 493.3,432.8 494.2,433.8 495.1,432.2 496.0,432.1 497.0,431.7 497.9,430.7 498.8,433.6 499.7,434.0 500.6,437.5 501.6,437.5 502.5,441.2 503.4,440.9 504.3,441.6 505.3,441.0 506.2,442.1 507.1,443.2 508.0,442.6 509.0,444.1 509.9,444.2 510.8,444.1 511.7,445.1 512.6,445.0 513.6,445.0 514.5,445.0 515.4,445.0 516.3,445.0 517.3,445.0 518.2,445.0 519.1,445.0 520.0,445.0 521.0,444.7 521.9,444.4 522.8,444.1 523.7,443.9 524.7,443.6 525.6,443.3 526.5,443.0 527.4,442.7 528.3,442.5 536.5,438.9 552.9,430.3 569.2,421.8 585.5,413.3 601.9,404.7 618.2,396.2 634.6,387.7 650.9,379.1 667.3,370.6 683.6,362.1 700.0,353.5 716.3,345.0 716.8,347.5 717.3,346.1 717.8,346.9 718.3,345.3 718.8,342.9 719.3,340.0 719.8,338.5 720.3,333.9 720.8,332.4 721.3,330.3 721.8,325.9 722.3,319.6 722.8,310.5 723.3,309.5 723.8,299.9 724.3,294.4 724.8,291.3 725.3,286.9 725.8,284.3 726.3,280.0 726.8,275.4 727.3,273.9 727.8,271.0 728.3,269.5 728.8,269.5 729.3,268.3 729.8,267.6 730.3,265.9 730.8,267.7 731.3,264.8 731.8,264.5 732.3,265.7 732.8,260.4 733.3,264.8 733.8,264.1 734.3,261.3 734.8,263.8 735.3,260.9 735.8,261.0 736.3,259.1 736.8,257.9 737.3,258.3 737.8,258.0 738.3,259.5 738.8,261.2 739.3,264.7 739.8,268.9 740.3,268.9 740.8,274.0 741.3,276.8 741.8,275.9 742.3,279.6 742.8,282.9 743.3,284.1 743.8,285.8 744.3,291.4 744.8,291.4 745.3,295.1 745.8,295.1 746.3,298.7 746.8,297.9 747.3,301.7 747.8,306.2 748.3,306.3 748.8,309.5 749.3,308.9" fill="none" stroke="#ff0382" stroke-width="3.6" stroke-linejoin="round" stroke-linecap="round"/>
<polyline points="335.4,563.6 336.3,562.2 337.2,563.7 338.1,560.7 339.0,558.6 340.0,557.7 340.9,555.5 341.8,557.6 342.7,554.5 343.6,555.0 344.6,553.1 345.5,552.1 346.4,551.1 347.3,552.1 348.2,550.6 349.2,551.7 350.1,551.4 351.0,548.4 351.9,548.6 352.8,549.9 353.8,548.4 354.7,546.8 355.6,544.4 356.5,544.4 357.5,544.4 358.4,547.7 359.3,546.5 360.2,546.5 361.1,547.4 362.1,548.0 363.0,549.0 363.9,546.9 364.8,547.1 365.7,548.2 366.7,548.5 367.6,544.1 368.5,546.5 369.4,543.6 370.3,542.0 371.3,544.7 372.2,542.5 373.1,542.5 374.0,540.7 375.0,540.3 375.9,537.6 376.8,538.6 377.7,538.7 378.6,536.8 379.6,537.9 380.5,537.5 381.4,533.8 382.3,536.9 383.2,536.0 384.2,534.8 385.1,535.6 386.0,536.3 386.9,532.0 387.8,533.7 388.8,532.8 389.7,532.0 390.6,532.1 391.5,531.6 392.5,529.4 393.4,526.1 394.3,527.4 395.2,526.7 396.1,528.8 397.1,526.3 398.0,527.1 398.9,524.1 399.8,524.7 400.7,523.9 401.7,523.6 402.6,523.7 403.5,524.3 404.4,521.3 405.3,523.2 406.3,522.4 407.2,520.9 408.1,520.9 409.0,519.2 410.0,517.9 410.9,518.3 411.8,517.9 412.7,517.6 413.6,516.0 414.6,518.6 415.5,515.0 416.4,515.7 417.3,515.1 418.2,512.7 419.2,512.3 420.1,510.2 421.0,508.6 421.9,511.8 422.8,508.2 423.8,504.8 424.7,505.3 425.6,503.8 426.5,504.6 427.5,505.9 428.4,505.2 429.3,502.8 430.2,502.2 431.1,504.0 432.1,503.2 433.0,502.3 433.9,504.5 434.8,502.6 435.7,499.9 436.7,499.0 437.6,501.4 438.5,498.5 439.4,500.8 440.3,500.5 441.3,501.6 442.2,497.2 443.1,498.2 444.0,494.4 445.0,496.3 445.9,495.9 446.8,497.7 447.7,493.2 448.6,494.9 449.6,494.1 450.5,496.0 451.4,491.7 452.3,491.0 453.2,492.4 454.2,491.0 455.1,490.0 456.0,488.8 456.9,489.2 457.8,486.7 458.8,488.4 459.7,488.3 460.6,487.8 461.5,489.9 462.5,487.5 463.4,485.0 464.3,485.5 465.2,486.5 466.1,484.7 467.1,487.2 468.0,484.8 468.9,483.5 469.8,483.0 470.7,484.4 471.7,482.0 472.6,480.5 473.5,482.9 474.4,481.2 475.3,483.5 476.3,482.8 477.2,478.1 478.1,477.3 479.0,475.5 480.0,474.9 480.9,473.0 481.8,470.2 482.7,467.5 483.6,468.4 484.6,469.5 485.5,465.3 486.4,465.5 487.3,465.5 488.2,467.3 489.2,466.4 490.1,470.7 491.0,471.9 491.9,476.4 492.8,476.5 493.8,478.3 494.7,478.6 495.6,477.6 496.5,478.1 497.5,474.2 498.4,476.7 499.3,475.1 500.2,473.3 501.1,474.2 502.1,471.2 503.0,470.2 503.9,470.4 504.8,466.9 505.7,468.2 506.7,467.1 507.6,467.7 508.5,467.1 509.4,464.2 510.3,462.3 511.3,460.8 512.2,457.7 513.1,459.9 514.0,456.8 515.0,456.0 515.9,450.8 516.8,451.8 517.7,450.8 518.6,450.9 519.6,447.9 520.5,448.8 521.4,447.5 522.3,449.6 523.2,445.1 524.2,445.7 525.1,446.1 526.0,446.4 526.9,449.2 527.8,450.3 528.8,450.3 529.7,451.7 530.6,453.3 531.5,453.5 532.5,454.6 533.4,453.7 534.3,453.9 535.2,455.6 536.1,453.9 537.1,458.5 538.0,457.2 538.9,455.0 539.8,457.1 540.7,457.3 541.7,457.4 542.6,457.5 543.5,457.4 544.4,457.3 545.3,457.2 546.3,457.1 547.2,457.0 548.1,456.9 549.0,456.7 550.0,456.6 550.9,456.5 551.8,456.4 552.7,456.3 553.6,456.2 554.6,455.9 555.5,455.5 563.6,451.7 579.9,443.1 596.2,434.5 612.6,425.9 628.9,417.3 645.2,408.6 661.5,400.0 677.8,391.4 694.1,382.8 710.4,374.2 726.7,365.6 743.0,357.0 743.5,353.9 744.0,353.6 744.5,349.3 745.0,344.9 745.5,337.4 746.0,338.4 746.5,334.9 747.0,332.2 747.5,324.3 748.0,324.2 748.5,318.4 749.0,312.0 749.5,311.8 750.0,305.9 750.5,305.1 751.0,306.3 751.5,304.8 752.0,304.5 752.5,303.1 753.0,298.6 753.5,296.8 754.0,295.8 754.5,294.7 755.0,296.0 755.5,294.5 756.0,297.5 756.5,295.1 757.0,292.7 757.5,293.0 758.0,295.8 758.5,294.9 759.0,291.3 759.5,289.9 760.0,294.4 760.5,291.9 761.0,290.1 761.5,287.8 762.0,290.3 762.5,287.1 763.0,289.7 763.5,286.9 764.0,291.5 764.5,293.9 765.0,295.7 765.5,295.0 766.0,297.0 766.5,301.4 767.0,300.8 767.5,304.7 768.0,305.3 768.5,307.6 769.0,309.2 769.5,309.6 770.0,311.7 770.5,311.4 771.0,313.1 771.5,316.9 772.0,320.5 772.5,319.5 773.0,326.2 773.5,328.2 774.0,326.1 774.5,328.3 775.0,329.9" fill="none" stroke="#ff046e" stroke-width="3.6" stroke-linejoin="round" stroke-linecap="round"/>
<polyline points="363.0,577.0 363.9,577.3 364.8,575.2 365.8,572.7 366.7,573.2 367.6,571.9 368.5,571.6 369.4,570.6 370.4,567.4 371.3,567.2 372.2,568.4 373.1,567.6 374.0,566.4 375.0,564.5 375.9,566.0 376.8,564.3 377.7,566.1 378.6,564.5 379.6,561.9 380.5,560.7 381.4,562.6 382.3,561.6 383.2,559.2 384.2,560.1 385.1,560.2 386.0,559.5 386.9,560.7 387.8,560.5 388.7,561.7 389.7,563.8 390.6,563.1 391.5,562.8 392.4,564.0 393.3,562.8 394.3,559.8 395.2,562.2 396.1,558.4 397.0,558.5 397.9,558.3 398.9,556.8 399.8,556.2 400.7,554.6 401.6,556.0 402.5,555.2 403.5,554.6 404.4,551.5 405.3,552.1 406.2,553.8 407.1,552.6 408.1,552.6 409.0,551.2 409.9,550.5 410.8,547.5 411.7,551.9 412.7,548.0 413.6,548.2 414.5,549.1 415.4,547.9 416.3,547.9 417.3,546.6 418.2,544.7 419.1,547.1 420.0,543.0 420.9,544.3 421.9,541.3 422.8,541.9 423.7,540.3 424.6,540.4 425.5,539.1 426.5,539.7 427.4,540.1 428.3,537.8 429.2,537.1 430.1,534.9 431.0,539.3 432.0,536.5 432.9,534.5 433.8,536.7 434.7,534.9 435.6,531.5 436.6,531.8 437.5,534.0 438.4,530.6 439.3,530.4 440.2,530.3 441.2,530.1 442.1,529.5 443.0,529.9 443.9,528.6 444.8,526.2 445.8,526.0 446.7,523.0 447.6,524.7 448.5,526.3 449.4,522.9 450.4,521.2 451.3,520.2 452.2,519.7 453.1,520.1 454.0,516.7 455.0,518.8 455.9,516.8 456.8,517.6 457.7,518.4 458.6,514.9 459.6,519.2 460.5,516.9 461.4,515.0 462.3,515.6 463.2,513.9 464.2,514.6 465.1,514.6 466.0,511.0 466.9,513.4 467.8,512.8 468.8,513.4 469.7,512.6 470.6,510.4 471.5,510.1 472.4,510.3 473.3,510.7 474.3,508.5 475.2,510.9 476.1,508.8 477.0,508.3 477.9,508.5 478.9,506.9 479.8,507.4 480.7,507.1 481.6,503.5 482.5,504.2 483.5,503.1 484.4,504.0 485.3,502.3 486.2,502.0 487.1,501.0 488.1,499.2 489.0,501.9 489.9,500.9 490.8,500.9 491.7,504.6 492.7,501.7 493.6,499.6 494.5,498.4 495.4,499.5 496.3,497.0 497.3,496.4 498.2,498.0 499.1,495.4 500.0,494.6 500.9,495.8 501.9,497.1 502.8,493.6 503.7,494.5 504.6,493.5 505.5,491.7 506.5,491.2 507.4,488.1 508.3,487.2 509.2,485.4 510.1,485.0 511.1,485.4 512.0,483.9 512.9,481.9 513.8,482.6 514.7,478.2 515.7,482.8 516.6,484.8 517.5,484.3 518.4,486.5 519.3,489.0 520.2,490.9 521.2,491.8 522.1,491.9 523.0,491.2 523.9,491.4 524.8,489.4 525.8,487.8 526.7,486.9 527.6,490.4 528.5,486.7 529.4,485.5 530.4,483.8 531.3,482.2 532.2,480.2 533.1,479.5 534.0,479.4 535.0,478.1 535.9,474.8 536.8,476.3 537.7,473.8 538.6,470.9 539.6,471.0 540.5,472.5 541.4,468.3 542.3,467.8 543.2,466.6 544.2,464.5 545.1,464.6 546.0,465.1 546.9,463.3 547.8,463.4 548.8,463.4 549.7,462.8 550.6,462.5 551.5,462.9 552.4,463.3 553.4,463.4 554.3,465.2 555.2,466.2 556.1,463.7 557.0,466.2 558.0,466.5 558.9,466.9 559.8,467.1 560.7,467.4 561.6,467.7 562.5,469.2 563.5,467.6 564.4,470.0 565.3,468.3 566.2,472.1 567.1,470.1 568.1,470.3 569.0,470.6 569.9,470.8 570.8,470.6 571.7,470.4 572.7,470.2 573.6,470.0 574.5,469.9 575.4,469.8 576.3,469.9 577.3,470.0 578.2,470.0 579.1,470.1 580.0,470.1 580.9,470.2 581.9,469.9 582.8,469.5 590.9,465.4 607.2,456.8 623.5,448.1 639.8,439.5 656.0,430.9 672.3,422.3 688.6,413.7 704.9,405.1 721.2,396.4 737.4,387.8 753.7,379.2 770.0,370.6 770.5,365.5 771.0,365.9 771.5,361.1 772.0,360.4 772.5,359.1 773.0,353.2 773.5,350.9 774.0,343.9 774.5,340.3 775.0,337.6 775.5,332.7 776.0,328.7 776.5,327.2 777.0,323.3 777.5,323.0 778.0,319.7 778.5,321.0 779.0,318.3 779.5,316.9 780.0,317.9 780.5,316.3 781.0,315.5 781.5,312.8 782.0,315.1 782.5,313.4 783.0,311.4 783.5,313.1 784.0,316.1 784.5,313.1 785.0,311.5 785.5,312.9 786.0,310.0 786.5,310.1 787.0,309.9 787.5,311.1 788.0,311.7 788.5,311.4 789.0,311.0 789.5,310.5 790.0,312.0 790.5,314.9 791.0,316.0 791.5,317.6 792.0,322.9 792.5,323.7 793.0,325.9 793.5,327.0 794.0,329.3 794.5,331.4 795.0,334.5 795.5,334.2 796.0,335.7 796.5,339.7 797.0,338.1 797.5,341.3 798.0,338.2 798.5,343.0 799.0,344.3 799.5,344.9 800.0,346.7" fill="none" stroke="#ff0860" stroke-width="3.6" stroke-linejoin="round" stroke-linecap="round"/>
<polyline points="390.6,590.3 391.6,587.1 392.5,587.5 393.4,585.5 394.3,583.9 395.2,585.1 396.2,580.7 397.1,581.4 398.0,580.5 398.9,582.1 399.8,579.5 400.8,579.5 401.7,580.1 402.6,576.1 403.5,577.6 404.4,578.0 405.4,577.0 406.3,575.5 407.2,574.7 408.1,574.8 409.0,573.5 410.0,572.7 410.9,575.4 411.8,573.9 412.7,574.7 413.6,574.4 414.6,573.7 415.5,575.6 416.4,578.5 417.3,578.0 418.2,575.8 419.2,577.0 420.1,575.8 421.0,574.7 421.9,576.6 422.8,572.8 423.8,572.7 424.7,571.8 425.6,573.0 426.5,572.1 427.4,571.2 428.4,569.6 429.3,569.3 430.2,568.8 431.1,566.3 432.0,566.5 433.0,568.4 433.9,567.9 434.8,564.6 435.7,566.6 436.6,564.1 437.6,563.4 438.5,565.5 439.4,564.7 440.3,563.8 441.2,564.5 442.2,564.2 443.1,563.0 444.0,561.1 444.9,562.0 445.8,561.0 446.8,560.5 447.7,560.9 448.6,556.7 449.5,560.5 450.4,557.8 451.3,555.6 452.3,557.2 453.2,554.1 454.1,552.7 455.0,554.6 455.9,552.6 456.9,553.6 457.8,551.0 458.7,550.8 459.6,550.0 460.5,548.0 461.5,548.4 462.4,546.8 463.3,547.0 464.2,548.5 465.1,546.1 466.1,545.2 467.0,546.9 467.9,542.9 468.8,543.7 469.7,542.4 470.7,543.0 471.6,540.9 472.5,539.7 473.4,539.6 474.3,538.2 475.3,539.9 476.2,534.8 477.1,536.9 478.0,537.3 478.9,534.9 479.9,533.9 480.8,531.7 481.7,533.0 482.6,531.1 483.5,532.1 484.5,527.9 485.4,529.4 486.3,527.3 487.2,530.4 488.1,527.9 489.1,529.4 490.0,527.1 490.9,526.5 491.8,528.7 492.7,527.7 493.7,527.4 494.6,527.4 495.5,526.1 496.4,526.1 497.3,526.3 498.3,524.1 499.2,523.2 500.1,525.0 501.0,523.7 501.9,522.7 502.9,522.6 503.8,522.8 504.7,520.6 505.6,520.2 506.5,520.1 507.5,520.8 508.4,517.8 509.3,517.6 510.2,519.7 511.1,518.9 512.0,516.9 513.0,518.8 513.9,516.9 514.8,516.8 515.7,517.2 516.6,516.2 517.6,517.3 518.5,515.6 519.4,516.9 520.3,511.3 521.2,511.7 522.2,511.6 523.1,512.2 524.0,510.9 524.9,510.1 525.8,509.9 526.8,509.6 527.7,511.3 528.6,509.2 529.5,509.9 530.4,510.0 531.4,509.0 532.3,506.2 533.2,504.5 534.1,506.5 535.0,501.9 536.0,501.3 536.9,502.6 537.8,501.7 538.7,500.4 539.6,498.2 540.6,498.9 541.5,498.8 542.4,496.2 543.3,499.3 544.2,498.3 545.2,498.7 546.1,501.3 547.0,502.4 547.9,504.4 548.8,505.7 549.8,506.6 550.7,506.5 551.6,504.5 552.5,503.1 553.4,500.2 554.4,498.5 555.3,498.7 556.2,498.8 557.1,497.6 558.0,495.6 559.0,492.5 559.9,492.5 560.8,491.7 561.7,491.3 562.6,488.1 563.6,487.7 564.5,487.0 565.4,485.7 566.3,482.7 567.2,483.8 568.2,480.5 569.1,479.9 570.0,480.2 570.9,478.8 571.8,479.8 572.7,480.5 573.7,479.6 574.6,480.2 575.5,478.3 576.4,478.7 577.3,477.9 578.3,477.4 579.2,481.9 580.1,477.7 581.0,480.4 581.9,478.2 582.9,479.6 583.8,478.6 584.7,477.3 585.6,481.2 586.5,479.1 587.5,479.6 588.4,481.9 589.3,479.1 590.2,480.1 591.1,481.1 592.1,481.8 593.0,477.5 593.9,482.2 594.8,482.2 595.7,482.6 596.7,483.0 597.6,483.3 598.5,483.1 599.4,482.8 600.3,482.5 601.3,482.1 602.2,481.9 603.1,482.0 604.0,482.2 604.9,482.4 605.9,482.7 606.8,482.9 607.7,483.1 608.6,483.4 609.5,483.0 610.5,482.5 618.6,478.2 634.9,469.5 651.2,460.8 667.4,452.1 683.7,443.4 700.0,434.7 716.3,426.0 732.6,417.4 748.9,408.7 765.1,400.0 781.4,391.3 797.7,382.6 798.2,382.1 798.7,377.7 799.2,374.4 799.7,373.3 800.2,370.2 800.7,368.0 801.2,363.7 801.7,359.4 802.2,358.4 802.7,354.4 803.2,351.4 803.7,348.5 804.2,345.2 804.7,344.7 805.2,339.5 805.7,335.7 806.2,334.8 806.7,335.0 807.2,338.1 807.7,333.7 808.2,336.8 808.7,335.3 809.2,331.9 809.7,336.6 810.2,333.7 810.7,334.2 811.2,334.6 811.7,335.5 812.2,333.1 812.7,334.2 813.2,331.1 813.7,330.3 814.2,333.8 814.7,332.1 815.2,332.6 815.7,334.8 816.2,335.5 816.7,334.4 817.2,335.6 817.7,339.4 818.2,339.3 818.7,339.3 819.2,344.4 819.7,346.4 820.2,344.7 820.7,347.6 821.2,354.6 821.7,356.6 822.2,356.2 822.7,361.1 823.2,362.0 823.7,362.7 824.2,361.5 824.7,366.9 825.2,367.0 825.7,366.1 826.2,363.2" fill="none" stroke="#ff0852" stroke-width="3.6" stroke-linejoin="round" stroke-linecap="round"/>
<polyline points="418.3,603.8 419.2,604.8 420.1,601.0 421.0,599.7 422.0,599.7 422.9,598.7 423.8,596.7 424.7,594.7 425.6,595.2 426.5,594.1 427.5,594.2 428.4,594.0 429.3,594.0 430.2,592.0 431.1,592.0 432.0,591.3 433.0,589.3 433.9,589.2 434.8,588.2 435.7,590.5 436.6,587.3 437.5,588.1 438.5,587.7 439.4,587.2 440.3,585.1 441.2,586.2 442.1,588.8 443.0,590.0 444.0,589.3 444.9,590.5 445.8,588.6 446.7,591.9 447.6,591.6 448.5,588.9 449.5,587.8 450.4,586.9 451.3,585.4 452.2,583.0 453.1,585.2 454.0,584.6 455.0,585.3 455.9,582.1 456.8,580.6 457.7,581.4 458.6,579.3 459.5,580.3 460.5,578.2 461.4,579.2 462.3,580.6 463.2,579.7 464.1,580.4 465.0,580.3 466.0,577.6 466.9,576.5 467.8,574.8 468.7,576.9 469.6,576.8 470.5,577.3 471.5,574.0 472.4,574.0 473.3,574.4 474.2,572.1 475.1,571.5 476.0,573.6 477.0,569.7 477.9,569.7 478.8,569.6 479.7,568.9 480.6,565.7 481.5,565.4 482.5,564.4 483.4,567.4 484.3,566.3 485.2,563.8 486.1,565.8 487.0,564.6 488.0,565.3 488.9,560.4 489.8,560.7 490.7,560.9 491.6,560.6 492.5,560.8 493.5,559.8 494.4,557.5 495.3,558.0 496.2,554.6 497.1,555.6 498.0,555.0 499.0,551.3 499.9,552.0 500.8,550.1 501.7,550.2 502.6,551.5 503.5,547.5 504.5,549.2 505.4,545.6 506.3,548.2 507.2,548.0 508.1,544.7 509.0,544.0 510.0,543.7 510.9,544.7 511.8,541.6 512.7,543.8 513.6,542.0 514.5,541.8 515.5,540.6 516.4,538.6 517.3,540.0 518.2,538.3 519.1,538.0 520.0,540.7 521.0,539.9 521.9,538.8 522.8,538.8 523.7,537.6 524.6,540.1 525.5,536.7 526.5,536.5 527.4,537.4 528.3,538.7 529.2,536.8 530.1,537.3 531.0,535.8 532.0,536.4 532.9,535.2 533.8,536.3 534.7,533.7 535.6,537.9 536.5,536.0 537.5,533.9 538.4,536.0 539.3,533.0 540.2,535.0 541.1,533.1 542.0,534.0 543.0,533.1 543.9,532.1 544.8,532.1 545.7,532.1 546.6,528.5 547.5,530.2 548.5,530.6 549.4,527.5 550.3,526.8 551.2,525.6 552.1,524.1 553.0,526.5 554.0,523.3 554.9,522.4 555.8,523.0 556.7,521.9 557.6,525.0 558.5,521.3 559.5,517.7 560.4,521.2 561.3,518.9 562.2,517.2 563.1,516.1 564.0,514.0 565.0,517.3 565.9,514.4 566.8,512.7 567.7,514.5 568.6,512.3 569.5,510.9 570.5,512.5 571.4,514.3 572.3,519.0 573.2,516.9 574.1,517.2 575.0,518.9 576.0,519.6 576.9,516.2 577.8,518.7 578.7,518.2 579.6,515.3 580.5,514.5 581.5,513.0 582.4,511.3 583.3,508.8 584.2,508.0 585.1,508.3 586.0,505.6 587.0,503.4 587.9,503.2 588.8,500.2 589.7,499.8 590.6,501.0 591.5,498.5 592.5,495.6 593.4,495.2 594.3,496.3 595.2,493.4 596.1,493.4 597.0,492.5 598.0,488.2 598.9,486.8 599.8,485.5 600.7,485.7 601.6,484.8 602.5,485.4 603.5,483.7 604.4,482.9 605.3,483.5 606.2,482.6 607.1,486.5 608.0,486.0 609.0,484.1 609.9,484.5 610.8,487.0 611.7,488.2 612.6,490.4 613.5,489.2 614.5,489.7 615.4,493.6 616.3,492.3 617.2,493.5 618.1,494.7 619.0,497.7 620.0,496.8 620.9,499.3 621.8,497.3 622.7,497.1 623.6,496.8 624.5,496.6 625.5,496.4 626.4,496.2 627.3,496.4 628.2,496.7 629.1,497.1 630.0,497.5 631.0,497.8 631.9,498.2 632.8,498.6 633.7,498.9 634.6,499.1 635.5,498.8 636.5,498.3 637.4,497.8 645.5,493.5 661.7,484.8 677.9,476.1 694.2,467.4 710.4,458.8 726.6,450.1 742.9,441.4 759.1,432.7 775.3,424.0 791.5,415.4 807.8,406.7 824.0,398.0 824.5,394.4 825.0,392.4 825.5,392.1 826.0,392.3 826.5,383.3 827.0,382.6 827.5,380.6 828.0,377.3 828.5,375.5 829.0,373.1 829.5,368.9 830.0,365.5 830.5,363.3 831.0,362.0 831.5,357.5 832.0,353.5 832.5,354.6 833.0,353.6 833.5,356.8 834.0,353.7 834.5,353.5 835.0,355.1 835.5,355.9 836.0,352.6 836.5,354.7 837.0,352.2 837.5,353.2 838.0,351.1 838.5,352.2 839.0,353.7 839.5,350.9 840.0,350.7 840.5,348.5 841.0,350.1 841.5,351.5 842.0,350.9 842.5,351.8 843.0,353.9 843.5,354.9 844.0,357.5 844.5,358.9 845.0,360.5 845.5,364.1 846.0,367.5 846.5,370.2 847.0,369.4 847.5,376.1 848.0,379.4 848.5,382.4 849.0,384.7 849.5,387.1 850.0,389.4 850.5,390.8 851.0,387.2" fill="none" stroke="#ff0844" stroke-width="3.6" stroke-linejoin="round" stroke-linecap="round"/>
<polyline points="445.9,616.7 446.9,615.0 447.8,613.8 448.7,611.2 449.6,609.1 450.5,609.3 451.4,609.0 452.4,608.5 453.3,607.4 454.2,605.9 455.1,607.9 456.0,604.8 456.9,604.4 457.9,603.1 458.8,603.8 459.7,602.8 460.6,603.3 461.5,602.4 462.4,603.5 463.4,600.7 464.3,598.5 465.2,599.6 466.1,598.9 467.0,600.2 467.9,598.2 468.9,601.7 469.8,600.8 470.7,602.5 471.6,604.7 472.5,603.2 473.4,605.0 474.3,604.4 475.3,603.4 476.2,603.3 477.1,603.1 478.0,601.4 478.9,601.8 479.8,600.6 480.8,600.8 481.7,601.2 482.6,599.5 483.5,598.7 484.4,597.4 485.3,595.6 486.3,598.8 487.2,596.3 488.1,598.8 489.0,597.1 489.9,596.1 490.8,597.9 491.8,597.1 492.7,594.4 493.6,594.2 494.5,594.1 495.4,594.6 496.3,590.7 497.3,593.2 498.2,593.7 499.1,590.3 500.0,591.1 500.9,591.7 501.8,589.3 502.7,590.0 503.7,588.8 504.6,588.7 505.5,589.7 506.4,586.7 507.3,587.1 508.2,587.9 509.2,587.1 510.1,584.4 511.0,585.5 511.9,584.4 512.8,583.0 513.7,582.9 514.7,584.2 515.6,580.9 516.5,579.9 517.4,579.3 518.3,577.7 519.2,578.5 520.2,577.3 521.1,575.7 522.0,577.2 522.9,574.1 523.8,573.4 524.7,573.9 525.6,571.7 526.6,572.0 527.5,573.2 528.4,569.8 529.3,569.9 530.2,568.9 531.1,568.3 532.1,565.9 533.0,566.0 533.9,566.5 534.8,564.1 535.7,562.4 536.6,562.8 537.6,561.1 538.5,559.7 539.4,558.6 540.3,556.4 541.2,554.9 542.1,553.1 543.1,553.3 544.0,552.8 544.9,551.9 545.8,551.0 546.7,552.7 547.6,551.1 548.6,551.3 549.5,551.6 550.4,551.7 551.3,551.5 552.2,550.9 553.1,551.8 554.0,549.4 555.0,549.8 555.9,549.4 556.8,548.8 557.7,548.1 558.6,549.4 559.5,548.5 560.5,550.0 561.4,550.5 562.3,549.9 563.2,545.5 564.1,549.3 565.0,546.3 566.0,544.9 566.9,547.0 567.8,544.3 568.7,543.8 569.6,544.6 570.5,542.7 571.5,544.6 572.4,546.0 573.3,544.2 574.2,545.2 575.1,545.9 576.0,545.0 576.9,539.8 577.9,542.3 578.8,540.7 579.7,540.5 580.6,538.7 581.5,538.2 582.4,537.5 583.4,537.5 584.3,536.8 585.2,535.1 586.1,532.9 587.0,530.2 587.9,531.0 588.9,529.6 589.8,530.8 590.7,531.0 591.6,532.0 592.5,530.0 593.4,532.1 594.4,529.5 595.3,526.7 596.2,528.1 597.1,527.8 598.0,530.4 598.9,532.3 599.9,531.9 600.8,532.6 601.7,531.4 602.6,531.2 603.5,535.2 604.4,534.4 605.3,532.5 606.3,531.2 607.2,530.7 608.1,527.5 609.0,525.6 609.9,524.0 610.8,524.4 611.8,521.6 612.7,522.0 613.6,517.4 614.5,518.2 615.4,515.9 616.3,514.6 617.3,513.3 618.2,512.4 619.1,511.7 620.0,506.0 620.9,506.3 621.8,504.7 622.8,501.0 623.7,502.5 624.6,501.0 625.5,501.0 626.4,499.0 627.3,499.2 628.2,499.0 629.2,499.8 630.1,499.4 631.0,498.6 631.9,502.7 632.8,500.6 633.7,501.1 634.7,501.4 635.6,504.2 636.5,501.9 637.4,504.7 638.3,504.9 639.2,506.1 640.2,508.4 641.1,507.9 642.0,510.5 642.9,510.2 643.8,509.9 644.7,510.0 645.7,510.4 646.6,511.1 647.5,508.8 648.4,511.3 649.3,512.0 650.2,511.4 651.2,510.7 652.1,510.0 653.0,509.3 653.9,508.7 654.8,508.0 655.7,507.5 656.6,507.9 657.6,508.4 658.5,508.8 659.4,509.3 660.3,509.8 661.2,510.2 662.1,510.4 663.1,510.0 664.0,509.5 664.9,509.1 673.0,504.8 689.2,496.1 705.4,487.5 721.7,478.9 737.9,470.3 754.1,461.6 770.3,453.0 786.5,444.4 802.7,435.8 819.0,427.1 835.2,418.5 851.4,409.9 851.9,408.2 852.4,408.6 852.9,402.5 853.4,402.1 853.9,399.6 854.4,399.2 854.9,397.1 855.4,394.4 855.9,395.4 856.4,388.4 856.9,386.3 857.4,386.0 857.9,383.1 858.4,380.3 858.9,375.9 859.4,375.4 859.9,375.7 860.4,376.6 860.9,378.3 861.4,376.9 861.9,376.0 862.4,376.6 862.9,376.1 863.4,375.1 863.9,375.7 864.4,375.5 864.9,374.4 865.4,374.7 865.9,374.6 866.4,373.3 866.9,376.4 867.4,371.2 867.9,374.8 868.4,371.3 868.9,374.0 869.4,373.7 869.9,376.8 870.4,379.8 870.9,378.0 871.4,380.9 871.9,382.4 872.4,383.9 872.9,384.8 873.4,387.5 873.9,390.9 874.4,396.1 874.9,396.7 875.4,398.3 875.9,397.9 876.4,402.6 876.9,405.8" fill="none" stroke="#ff0836" stroke-width="3.6" stroke-linejoin="round" stroke-linecap="round"/>
<polyline points="473.6,631.6 474.5,629.9 475.4,628.1 476.3,626.1 477.3,626.4 478.2,621.7 479.1,620.6 480.0,620.1 480.9,620.5 481.8,618.5 482.8,616.6 483.7,618.6 484.6,618.6 485.5,616.4 486.4,618.4 487.3,618.7 488.2,616.1 489.2,615.9 490.1,615.0 491.0,614.8 491.9,613.3 492.8,613.9 493.7,615.1 494.7,615.8 495.6,615.4 496.5,616.0 497.4,616.9 498.3,618.1 499.2,623.5 500.1,620.2 501.1,618.8 502.0,617.6 502.9,619.2 503.8,614.9 504.7,615.7 505.6,616.2 506.6,614.6 507.5,614.6 508.4,614.5 509.3,612.5 510.2,613.3 511.1,614.1 512.0,612.8 513.0,611.9 513.9,612.7 514.8,609.5 515.7,612.0 516.6,608.2 517.5,608.9 518.4,610.8 519.4,609.1 520.3,607.5 521.2,608.8 522.1,609.5 523.0,607.3 523.9,604.5 524.9,608.1 525.8,605.0 526.7,605.1 527.6,604.6 528.5,604.3 529.4,603.6 530.3,601.4 531.3,601.3 532.2,602.4 533.1,598.5 534.0,601.1 534.9,597.8 535.8,597.6 536.8,595.5 537.7,595.7 538.6,594.0 539.5,594.4 540.4,591.6 541.3,589.9 542.2,585.3 543.2,586.9 544.1,584.0 545.0,584.4 545.9,584.2 546.8,584.6 547.7,582.8 548.7,584.6 549.6,583.9 550.5,580.9 551.4,583.1 552.3,579.0 553.2,580.5 554.1,579.4 555.1,578.8 556.0,577.5 556.9,577.5 557.8,576.8 558.7,575.7 559.6,573.5 560.6,572.5 561.5,571.5 562.4,571.8 563.3,571.7 564.2,572.6 565.1,569.0 566.0,567.9 567.0,568.6 567.9,566.3 568.8,564.9 569.7,565.6 570.6,564.0 571.5,565.2 572.5,567.8 573.4,566.6 574.3,566.7 575.2,565.8 576.1,567.7 577.0,567.4 577.9,568.3 578.9,567.4 579.8,567.5 580.7,566.6 581.6,567.1 582.5,568.1 583.4,568.0 584.3,567.7 585.3,567.3 586.2,565.2 587.1,569.6 588.0,566.5 588.9,565.5 589.8,564.1 590.8,566.3 591.7,564.2 592.6,563.2 593.5,564.4 594.4,565.7 595.3,563.4 596.2,564.0 597.2,561.4 598.1,563.1 599.0,560.2 599.9,562.4 600.8,563.8 601.7,563.6 602.7,564.6 603.6,563.0 604.5,561.1 605.4,561.8 606.3,559.0 607.2,559.9 608.1,557.0 609.1,553.3 610.0,556.4 610.9,551.8 611.8,550.5 612.7,552.8 613.6,550.9 614.6,549.6 615.5,546.5 616.4,547.5 617.3,546.4 618.2,544.6 619.1,544.6 620.0,543.8 621.0,543.7 621.9,541.4 622.8,543.9 623.7,541.1 624.6,543.7 625.5,544.4 626.5,542.9 627.4,543.3 628.3,546.4 629.2,543.9 630.1,546.2 631.0,546.5 631.9,545.5 632.9,548.1 633.8,545.2 634.7,543.8 635.6,538.7 636.5,538.9 637.4,537.9 638.4,535.6 639.3,533.1 640.2,530.1 641.1,528.6 642.0,525.8 642.9,525.2 643.8,523.6 644.8,521.7 645.7,520.7 646.6,519.3 647.5,518.1 648.4,517.5 649.3,518.5 650.3,519.3 651.2,516.0 652.1,511.1 653.0,513.7 653.9,511.5 654.8,510.7 655.7,512.2 656.7,513.1 657.6,509.9 658.5,510.6 659.4,512.8 660.3,511.2 661.2,511.5 662.1,514.7 663.1,510.4 664.0,515.2 664.9,515.2 665.8,516.9 666.7,516.3 667.6,518.8 668.6,518.0 669.5,517.5 670.4,519.3 671.3,520.7 672.2,519.3 673.1,523.0 674.0,521.5 675.0,523.7 675.9,523.4 676.8,523.9 677.7,524.1 678.6,524.3 679.5,524.5 680.5,524.7 681.4,524.9 682.3,525.1 683.2,525.3 684.1,525.5 685.0,525.6 685.9,525.8 686.9,526.0 687.8,526.2 688.7,526.4 689.6,526.6 690.5,526.4 691.4,525.9 692.4,525.4 700.5,521.0 716.7,512.1 732.9,503.3 749.1,494.4 765.3,485.6 781.5,476.7 797.7,467.9 813.9,459.0 830.1,450.2 846.3,441.3 862.5,432.5 878.7,423.6 879.2,418.8 879.7,419.5 880.2,417.6 880.7,416.5 881.2,414.3 881.7,413.2 882.2,412.1 882.7,405.6 883.2,409.9 883.7,404.6 884.2,402.3 884.7,400.9 885.2,400.8 885.7,397.6 886.2,396.1 886.7,395.2 887.2,391.6 887.7,390.3 888.2,388.6 888.7,386.6 889.2,389.8 889.7,387.9 890.2,390.0 890.7,388.8 891.2,389.8 891.7,389.9 892.2,391.8 892.7,391.4 893.2,391.4 893.7,389.6 894.2,388.6 894.7,388.0 895.2,390.4 895.7,390.0 896.2,395.5 896.7,399.3 897.2,400.0 897.7,402.4 898.2,406.7 898.7,410.3 899.2,409.9 899.7,415.4 900.2,420.0 900.7,416.9 901.2,423.7" fill="none" stroke="#ff0828" stroke-width="3.6" stroke-linejoin="round" stroke-linecap="round"/>
<line x1="59.0" y1="428.0" x2="493.9" y2="647.3" stroke="#1e1e1e" stroke-width="3.6" />
<line x1="493.9" y1="647.3" x2="933.5" y2="428.7" stroke="#1e1e1e" stroke-width="3.6" />
<line x1="82.5" y1="439.8" x2="70.2" y2="445.9" stroke="#1e1e1e" stroke-width="2.0" />
<line x1="173.4" y1="485.7" x2="161.1" y2="491.7" stroke="#1e1e1e" stroke-width="2.0" />
<line x1="265.6" y1="532.2" x2="253.3" y2="538.2" stroke="#1e1e1e" stroke-width="2.0" />
<line x1="359.1" y1="579.3" x2="346.8" y2="585.4" stroke="#1e1e1e" stroke-width="2.0" />
<line x1="449.5" y1="624.9" x2="437.2" y2="631.0" stroke="#1e1e1e" stroke-width="2.0" />
<line x1="566.4" y1="611.2" x2="578.6" y2="617.4" stroke="#1e1e1e" stroke-width="2.0" />
<line x1="660.5" y1="564.5" x2="672.7" y2="570.6" stroke="#1e1e1e" stroke-width="2.0" />
<line x1="751.9" y1="519.0" x2="764.1" y2="525.1" stroke="#1e1e1e" stroke-width="2.0" />
<line x1="846.0" y1="472.2" x2="858.2" y2="478.3" stroke="#1e1e1e" stroke-width="2.0" />
<text x="-0.7" y="475" font-size="35.5" font-weight="normal" font-style="normal" text-anchor="start" >0.02</text>
<text x="142.5" y="521.5" font-size="35.5" font-weight="normal" font-style="normal" text-anchor="start" >0</text>
<text x="175" y="566.5" font-size="35.5" font-weight="normal" font-style="normal" text-anchor="start" >-<tspan dx="-3">0.02</tspan></text>
<text x="267.2" y="613" font-size="35.5" font-weight="normal" font-style="normal" text-anchor="start" >-<tspan dx="-2.5">0.04</tspan></text>
<text x="355.5" y="656.5" font-size="35.5" font-weight="normal" font-style="normal" text-anchor="start" >-<tspan dx="-2">0.06</tspan></text>
<text x="578.5" y="633" font-size="35.5" font-weight="normal" font-style="normal" text-anchor="start" >1000</text>
<text x="673" y="588.5" font-size="35.5" font-weight="normal" font-style="normal" text-anchor="start" >1500</text>
<text x="768.5" y="543.5" font-size="35.5" font-weight="normal" font-style="normal" text-anchor="start" >2000</text>
<text x="860.5" y="496.5" font-size="35.5" font-weight="normal" font-style="normal" text-anchor="start" >2500</text>
<text x="0" y="0" font-size="39.3" font-weight="bold" transform="translate(33,397.2) rotate(-90)">Intensity</text>
<text x="0" y="0" font-size="42" font-weight="bold" transform="matrix(0.8668,0.3376,-1.0638,0.5978,109.5,579)">PC 1</text>
<text x="0" y="0" font-size="41" font-weight="bold" transform="matrix(0.8830,-0.4690,1.4007,0.3755,671.4,670.5)">wavenumber in cm<tspan font-size="26" dy="-22">-1</tspan></text>
</g>
</svg></body></html>
